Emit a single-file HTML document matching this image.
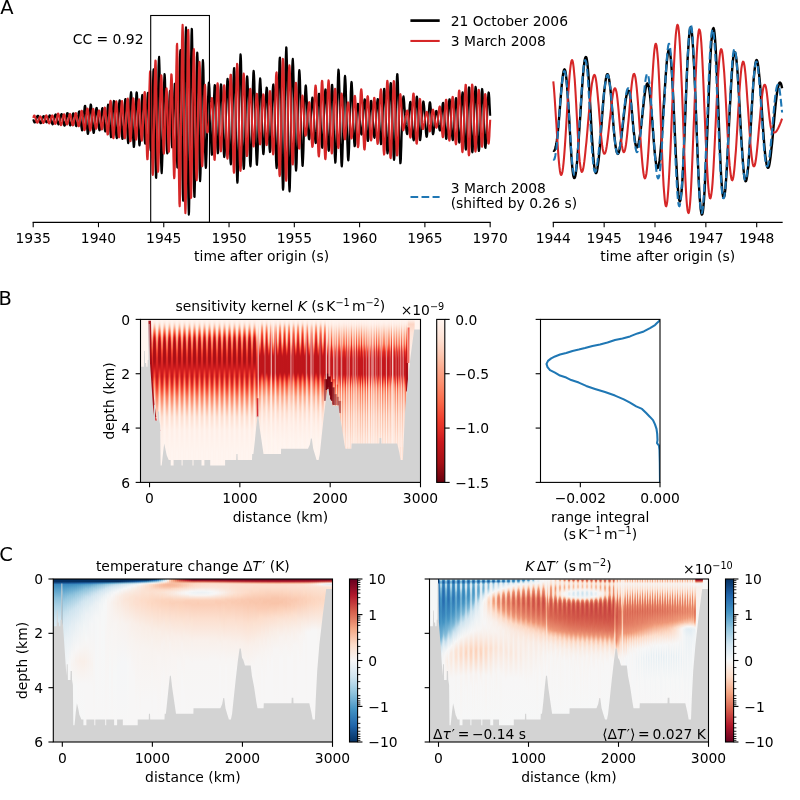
<!DOCTYPE html>
<html><head><meta charset="utf-8"><title>figure</title>
<style>html,body{margin:0;padding:0;background:#fff}svg{display:block}.hm{display:flex;height:100%}.hm i{display:block;flex:0 0 var(--w,1px);height:100%}text{font-family:"DejaVu Sans","Liberation Sans",sans-serif;fill:#000}</style>
</head><body>
<svg width="800" height="800" viewBox="0 0 800 800">
<defs>
<clipPath id="clipB"><rect x="140.5" y="319.4" width="280" height="163"/></clipPath>
<linearGradient id="pb1g0" x1="0" y1="0" x2="0" y2="1"><stop offset="0" stop-color="#fff5f0"/><stop offset="0.0125" stop-color="#ffefe8"/><stop offset="0.025" stop-color="#fee5d8"/><stop offset="0.05" stop-color="#fcae92"/><stop offset="0.0625" stop-color="#fc8a6a"/><stop offset="0.075" stop-color="#fa6849"/><stop offset="0.0875" stop-color="#f0402f"/><stop offset="0.1" stop-color="#d82422"/><stop offset="0.1125" stop-color="#bd151a"/><stop offset="0.125" stop-color="#ac1117"/><stop offset="0.1625" stop-color="#a91016"/><stop offset="0.2625" stop-color="#a91016"/><stop offset="0.2875" stop-color="#c4161c"/><stop offset="0.3" stop-color="#d21f20"/><stop offset="0.325" stop-color="#ef3c2c"/><stop offset="0.35" stop-color="#f85d42"/><stop offset="0.375" stop-color="#fc8565"/><stop offset="0.4375" stop-color="#fcc1a8"/><stop offset="0.475" stop-color="#fedbcc"/><stop offset="0.5375" stop-color="#ffece4"/><stop offset="0.6125" stop-color="#fff4ee"/><stop offset="1" stop-color="#fff5f0"/></linearGradient>
<linearGradient id="pb1g1" x1="0" y1="0" x2="0" y2="1"><stop offset="0" stop-color="#fff5f0"/><stop offset="0.025" stop-color="#ffebe2"/><stop offset="0.0375" stop-color="#fee1d3"/><stop offset="0.05" stop-color="#fdcebb"/><stop offset="0.0875" stop-color="#fb7858"/><stop offset="0.1" stop-color="#f7593f"/><stop offset="0.1125" stop-color="#ed392b"/><stop offset="0.1375" stop-color="#d01d1f"/><stop offset="0.15" stop-color="#c4161c"/><stop offset="0.2" stop-color="#b11218"/><stop offset="0.2375" stop-color="#ad1117"/><stop offset="0.2625" stop-color="#b51318"/><stop offset="0.3" stop-color="#cf1c1f"/><stop offset="0.3375" stop-color="#e22e27"/><stop offset="0.35" stop-color="#e43027"/><stop offset="0.3625" stop-color="#f03d2d"/><stop offset="0.4125" stop-color="#fb7050"/><stop offset="0.4875" stop-color="#fcb79c"/><stop offset="0.5375" stop-color="#fdd7c6"/><stop offset="0.5875" stop-color="#fee8dd"/><stop offset="0.6875" stop-color="#fff2ec"/><stop offset="0.975" stop-color="#fff5f0"/><stop offset="1" stop-color="#fff5f0"/></linearGradient>
<linearGradient id="pb1g2" x1="0" y1="0" x2="0" y2="1"><stop offset="0" stop-color="#fff5f0"/><stop offset="0.05" stop-color="#fff0e8"/><stop offset="0.075" stop-color="#fee5d8"/><stop offset="0.0875" stop-color="#fed9c9"/><stop offset="0.1125" stop-color="#fcb398"/><stop offset="0.1375" stop-color="#fc9070"/><stop offset="0.175" stop-color="#fa6547"/><stop offset="0.1875" stop-color="#f5533b"/><stop offset="0.2125" stop-color="#ee3a2c"/><stop offset="0.2375" stop-color="#e12d26"/><stop offset="0.3375" stop-color="#cb181d"/><stop offset="0.35" stop-color="#c5171c"/><stop offset="0.3875" stop-color="#d52221"/><stop offset="0.4125" stop-color="#e83429"/><stop offset="0.4375" stop-color="#f44f39"/><stop offset="0.475" stop-color="#fb7b5b"/><stop offset="0.5625" stop-color="#fdc5ae"/><stop offset="0.6" stop-color="#fedecf"/><stop offset="0.675" stop-color="#ffeee6"/><stop offset="0.825" stop-color="#fff5f0"/><stop offset="1" stop-color="#fff5f0"/></linearGradient>
<linearGradient id="pb1g3" x1="0" y1="0" x2="0" y2="1"><stop offset="0" stop-color="#fff5f0"/><stop offset="0.05" stop-color="#fff0e8"/><stop offset="0.075" stop-color="#fee5d8"/><stop offset="0.0875" stop-color="#fed9c9"/><stop offset="0.1125" stop-color="#fcb398"/><stop offset="0.1375" stop-color="#fc9070"/><stop offset="0.175" stop-color="#fa6547"/><stop offset="0.1875" stop-color="#f5533b"/><stop offset="0.2125" stop-color="#ee3a2c"/><stop offset="0.2375" stop-color="#e12d26"/><stop offset="0.3375" stop-color="#cb181d"/><stop offset="0.35" stop-color="#c5171c"/><stop offset="0.3875" stop-color="#d52221"/><stop offset="0.4125" stop-color="#e83429"/><stop offset="0.4375" stop-color="#f44f39"/><stop offset="0.475" stop-color="#fb7b5b"/><stop offset="0.5625" stop-color="#fdc5ae"/><stop offset="0.6" stop-color="#fedecf"/><stop offset="0.675" stop-color="#ffeee6"/><stop offset="0.825" stop-color="#fff5f0"/><stop offset="1" stop-color="#fff5f0"/></linearGradient>
<linearGradient id="pb1g4" x1="0" y1="0" x2="0" y2="1"><stop offset="0" stop-color="#fff5f0"/><stop offset="0.025" stop-color="#ffebe2"/><stop offset="0.0375" stop-color="#fee1d3"/><stop offset="0.05" stop-color="#fdcebb"/><stop offset="0.0875" stop-color="#fb7858"/><stop offset="0.1" stop-color="#f7593f"/><stop offset="0.1125" stop-color="#ed392b"/><stop offset="0.1375" stop-color="#d01d1f"/><stop offset="0.15" stop-color="#c4161c"/><stop offset="0.2" stop-color="#b11218"/><stop offset="0.2375" stop-color="#ad1117"/><stop offset="0.2625" stop-color="#b51318"/><stop offset="0.3" stop-color="#cf1c1f"/><stop offset="0.3375" stop-color="#e22e27"/><stop offset="0.35" stop-color="#e43027"/><stop offset="0.3625" stop-color="#f03d2d"/><stop offset="0.4125" stop-color="#fb7050"/><stop offset="0.4875" stop-color="#fcb79c"/><stop offset="0.5375" stop-color="#fdd7c6"/><stop offset="0.5875" stop-color="#fee8dd"/><stop offset="0.6875" stop-color="#fff2ec"/><stop offset="0.975" stop-color="#fff5f0"/><stop offset="1" stop-color="#fff5f0"/></linearGradient>
<pattern id="pb1" patternUnits="userSpaceOnUse" x="149" y="319.4" width="5" height="163"><g shape-rendering="crispEdges"><rect x="0" y="0" width="1" height="163" fill="url(#pb1g0)"/><rect x="1" y="0" width="1" height="163" fill="url(#pb1g1)"/><rect x="2" y="0" width="1" height="163" fill="url(#pb1g2)"/><rect x="3" y="0" width="1" height="163" fill="url(#pb1g3)"/><rect x="4" y="0" width="1" height="163" fill="url(#pb1g4)"/></g></pattern>
<linearGradient id="pb2g0" x1="0" y1="0" x2="0" y2="1"><stop offset="0" stop-color="#fff5f0"/><stop offset="0.025" stop-color="#feeae0"/><stop offset="0.0375" stop-color="#fedbcc"/><stop offset="0.05" stop-color="#fdc5ae"/><stop offset="0.0875" stop-color="#fc8b6b"/><stop offset="0.1125" stop-color="#fb6b4b"/><stop offset="0.15" stop-color="#ed392b"/><stop offset="0.175" stop-color="#d32020"/><stop offset="0.1875" stop-color="#ca181d"/><stop offset="0.2125" stop-color="#bf151b"/><stop offset="0.325" stop-color="#be151a"/><stop offset="0.3375" stop-color="#c7171c"/><stop offset="0.3625" stop-color="#ed392b"/><stop offset="0.3875" stop-color="#fb694a"/><stop offset="0.4375" stop-color="#fca486"/><stop offset="0.475" stop-color="#fdc5ae"/><stop offset="0.5375" stop-color="#fee1d4"/><stop offset="0.625" stop-color="#ffeee7"/><stop offset="0.7875" stop-color="#fff5f0"/><stop offset="1" stop-color="#fff5f0"/></linearGradient>
<linearGradient id="pb2g1" x1="0" y1="0" x2="0" y2="1"><stop offset="0" stop-color="#fff5f0"/><stop offset="0.075" stop-color="#ffede5"/><stop offset="0.1125" stop-color="#fee0d2"/><stop offset="0.1375" stop-color="#fdc6b0"/><stop offset="0.15" stop-color="#fcaf93"/><stop offset="0.175" stop-color="#fb7555"/><stop offset="0.1875" stop-color="#f6563d"/><stop offset="0.2" stop-color="#ef3c2c"/><stop offset="0.2125" stop-color="#da2723"/><stop offset="0.225" stop-color="#c5171c"/><stop offset="0.25" stop-color="#be151a"/><stop offset="0.3375" stop-color="#be151a"/><stop offset="0.35" stop-color="#c2161b"/><stop offset="0.3625" stop-color="#cc191e"/><stop offset="0.3875" stop-color="#e93529"/><stop offset="0.4125" stop-color="#f6583e"/><stop offset="0.4375" stop-color="#fb7858"/><stop offset="0.475" stop-color="#fca285"/><stop offset="0.525" stop-color="#fdc6b0"/><stop offset="0.575" stop-color="#fedfd0"/><stop offset="0.6375" stop-color="#ffebe2"/><stop offset="0.7125" stop-color="#fff2eb"/><stop offset="0.8875" stop-color="#fff5f0"/><stop offset="1" stop-color="#fff5f0"/></linearGradient>
<linearGradient id="pb2g2" x1="0" y1="0" x2="0" y2="1"><stop offset="0" stop-color="#fff5f0"/><stop offset="0.025" stop-color="#fff2eb"/><stop offset="0.075" stop-color="#fee0d2"/><stop offset="0.1125" stop-color="#fcb99f"/><stop offset="0.1375" stop-color="#fc9b7c"/><stop offset="0.1625" stop-color="#fb6d4d"/><stop offset="0.1875" stop-color="#ed392b"/><stop offset="0.2125" stop-color="#cc191e"/><stop offset="0.225" stop-color="#c1161b"/><stop offset="0.3375" stop-color="#bf151b"/><stop offset="0.35" stop-color="#c9181d"/><stop offset="0.375" stop-color="#e53228"/><stop offset="0.3875" stop-color="#f14130"/><stop offset="0.425" stop-color="#fb7656"/><stop offset="0.475" stop-color="#fcad90"/><stop offset="0.525" stop-color="#fdccb8"/><stop offset="0.575" stop-color="#fee2d5"/><stop offset="0.6625" stop-color="#ffefe8"/><stop offset="0.8125" stop-color="#fff5f0"/><stop offset="1" stop-color="#fff5f0"/></linearGradient>
<linearGradient id="pb2g3" x1="0" y1="0" x2="0" y2="1"><stop offset="0" stop-color="#fff5f0"/><stop offset="0.0125" stop-color="#ffeee7"/><stop offset="0.025" stop-color="#fee4d8"/><stop offset="0.05" stop-color="#fca98c"/><stop offset="0.075" stop-color="#fb7858"/><stop offset="0.0875" stop-color="#f85f43"/><stop offset="0.1" stop-color="#f34a36"/><stop offset="0.1125" stop-color="#ef3c2c"/><stop offset="0.15" stop-color="#cf1c1f"/><stop offset="0.1875" stop-color="#bf151b"/><stop offset="0.325" stop-color="#be151a"/><stop offset="0.3375" stop-color="#d01d1f"/><stop offset="0.35" stop-color="#e83429"/><stop offset="0.3625" stop-color="#f5523a"/><stop offset="0.375" stop-color="#fb7050"/><stop offset="0.4" stop-color="#fc9777"/><stop offset="0.4375" stop-color="#fcbea5"/><stop offset="0.475" stop-color="#fed8c7"/><stop offset="0.5125" stop-color="#fee4d8"/><stop offset="0.6125" stop-color="#fff0e9"/><stop offset="0.8125" stop-color="#fff5f0"/><stop offset="1" stop-color="#fff5f0"/></linearGradient>
<linearGradient id="pb2g4" x1="0" y1="0" x2="0" y2="1"><stop offset="0" stop-color="#fff5f0"/><stop offset="0.0125" stop-color="#ffeee7"/><stop offset="0.025" stop-color="#fee3d6"/><stop offset="0.0375" stop-color="#fdc5ae"/><stop offset="0.05" stop-color="#fca285"/><stop offset="0.075" stop-color="#fb7252"/><stop offset="0.0875" stop-color="#f6553c"/><stop offset="0.1" stop-color="#f14130"/><stop offset="0.1375" stop-color="#d21f20"/><stop offset="0.15" stop-color="#ca181d"/><stop offset="0.1875" stop-color="#be151a"/><stop offset="0.325" stop-color="#be151a"/><stop offset="0.3375" stop-color="#d32020"/><stop offset="0.35" stop-color="#eb372a"/><stop offset="0.3625" stop-color="#f6583e"/><stop offset="0.375" stop-color="#fb7555"/><stop offset="0.3875" stop-color="#fc8d6d"/><stop offset="0.4125" stop-color="#fcae92"/><stop offset="0.45" stop-color="#fdcdb9"/><stop offset="0.4875" stop-color="#fee1d4"/><stop offset="0.5875" stop-color="#ffefe8"/><stop offset="0.7625" stop-color="#fff5f0"/><stop offset="1" stop-color="#fff5f0"/></linearGradient>
<linearGradient id="pb2g5" x1="0" y1="0" x2="0" y2="1"><stop offset="0" stop-color="#fff5f0"/><stop offset="0.025" stop-color="#fff0e9"/><stop offset="0.0625" stop-color="#fee1d3"/><stop offset="0.0875" stop-color="#fdcbb6"/><stop offset="0.1375" stop-color="#fc8d6d"/><stop offset="0.1625" stop-color="#f96044"/><stop offset="0.175" stop-color="#f24734"/><stop offset="0.1875" stop-color="#e63328"/><stop offset="0.2125" stop-color="#ca181d"/><stop offset="0.225" stop-color="#bf151b"/><stop offset="0.3375" stop-color="#bf151b"/><stop offset="0.35" stop-color="#cb181d"/><stop offset="0.375" stop-color="#e93529"/><stop offset="0.4" stop-color="#f75b40"/><stop offset="0.4375" stop-color="#fc8969"/><stop offset="0.475" stop-color="#fcaf93"/><stop offset="0.525" stop-color="#fdcebb"/><stop offset="0.5625" stop-color="#fee0d2"/><stop offset="0.6375" stop-color="#ffece4"/><stop offset="0.7375" stop-color="#fff4ee"/><stop offset="1" stop-color="#fff5f0"/></linearGradient>
<linearGradient id="pb2g6" x1="0" y1="0" x2="0" y2="1"><stop offset="0" stop-color="#fff5f0"/><stop offset="0.075" stop-color="#ffeee7"/><stop offset="0.1" stop-color="#fee8de"/><stop offset="0.1125" stop-color="#fee3d7"/><stop offset="0.1375" stop-color="#fdccb8"/><stop offset="0.15" stop-color="#fcb499"/><stop offset="0.175" stop-color="#fb7858"/><stop offset="0.1875" stop-color="#f75b40"/><stop offset="0.2" stop-color="#f0402f"/><stop offset="0.2125" stop-color="#dc2924"/><stop offset="0.225" stop-color="#c7171c"/><stop offset="0.2375" stop-color="#bf151b"/><stop offset="0.3375" stop-color="#be151a"/><stop offset="0.35" stop-color="#c2161b"/><stop offset="0.3625" stop-color="#cb181d"/><stop offset="0.3875" stop-color="#e83429"/><stop offset="0.4" stop-color="#f14432"/><stop offset="0.4375" stop-color="#fb7757"/><stop offset="0.475" stop-color="#fca183"/><stop offset="0.525" stop-color="#fdc5ae"/><stop offset="0.575" stop-color="#fedecf"/><stop offset="0.6375" stop-color="#ffebe2"/><stop offset="0.7375" stop-color="#fff3ed"/><stop offset="1" stop-color="#fff5f0"/></linearGradient>
<linearGradient id="pb2g7" x1="0" y1="0" x2="0" y2="1"><stop offset="0" stop-color="#fff5f0"/><stop offset="0.025" stop-color="#ffebe2"/><stop offset="0.0375" stop-color="#fee1d3"/><stop offset="0.05" stop-color="#fdccb8"/><stop offset="0.075" stop-color="#fcad90"/><stop offset="0.0875" stop-color="#fc9879"/><stop offset="0.1125" stop-color="#fb7757"/><stop offset="0.1375" stop-color="#f6583e"/><stop offset="0.1625" stop-color="#e83429"/><stop offset="0.1875" stop-color="#cf1c1f"/><stop offset="0.2125" stop-color="#c1161b"/><stop offset="0.325" stop-color="#be151a"/><stop offset="0.3375" stop-color="#c5171c"/><stop offset="0.3625" stop-color="#e93529"/><stop offset="0.3875" stop-color="#f96245"/><stop offset="0.425" stop-color="#fc9070"/><stop offset="0.475" stop-color="#fcc1a8"/><stop offset="0.5375" stop-color="#fedfd0"/><stop offset="0.6125" stop-color="#ffece4"/><stop offset="0.75" stop-color="#fff4ef"/><stop offset="1" stop-color="#fff5f0"/></linearGradient>
<linearGradient id="pb2g8" x1="0" y1="0" x2="0" y2="1"><stop offset="0" stop-color="#fff5f0"/><stop offset="0.0125" stop-color="#ffede5"/><stop offset="0.025" stop-color="#fee1d3"/><stop offset="0.05" stop-color="#fc9777"/><stop offset="0.075" stop-color="#f96044"/><stop offset="0.0875" stop-color="#f14130"/><stop offset="0.1125" stop-color="#da2723"/><stop offset="0.1375" stop-color="#c5171c"/><stop offset="0.1625" stop-color="#be151a"/><stop offset="0.325" stop-color="#be151a"/><stop offset="0.3375" stop-color="#d82422"/><stop offset="0.35" stop-color="#f03f2e"/><stop offset="0.3625" stop-color="#f96346"/><stop offset="0.3875" stop-color="#fc9b7c"/><stop offset="0.4125" stop-color="#fcbda4"/><stop offset="0.45" stop-color="#fed9c9"/><stop offset="0.475" stop-color="#fee3d7"/><stop offset="0.5625" stop-color="#fff0e8"/><stop offset="0.7625" stop-color="#fff5f0"/><stop offset="1" stop-color="#fff5f0"/></linearGradient>
<pattern id="pb2" patternUnits="userSpaceOnUse" x="258" y="319.4" width="9" height="163"><g shape-rendering="crispEdges"><rect x="0" y="0" width="1" height="163" fill="url(#pb2g0)"/><rect x="1" y="0" width="1" height="163" fill="url(#pb2g1)"/><rect x="2" y="0" width="1" height="163" fill="url(#pb2g2)"/><rect x="3" y="0" width="1" height="163" fill="url(#pb2g3)"/><rect x="4" y="0" width="1" height="163" fill="url(#pb2g4)"/><rect x="5" y="0" width="1" height="163" fill="url(#pb2g5)"/><rect x="6" y="0" width="1" height="163" fill="url(#pb2g6)"/><rect x="7" y="0" width="1" height="163" fill="url(#pb2g7)"/><rect x="8" y="0" width="1" height="163" fill="url(#pb2g8)"/></g></pattern>
<linearGradient id="pb3g0" x1="0" y1="0" x2="0" y2="1"><stop offset="0" stop-color="#fff5f0"/><stop offset="0.025" stop-color="#ffefe8"/><stop offset="0.05" stop-color="#fee0d2"/><stop offset="0.0875" stop-color="#fcbba1"/><stop offset="0.1375" stop-color="#fc8565"/><stop offset="0.15" stop-color="#fb7757"/><stop offset="0.175" stop-color="#f34c37"/><stop offset="0.1875" stop-color="#ea362a"/><stop offset="0.2" stop-color="#da2723"/><stop offset="0.2375" stop-color="#ca181d"/><stop offset="0.2625" stop-color="#c4161c"/><stop offset="0.3375" stop-color="#c5171c"/><stop offset="0.35" stop-color="#d92523"/><stop offset="0.3625" stop-color="#ee3a2c"/><stop offset="0.3875" stop-color="#fb7252"/><stop offset="0.4" stop-color="#fc8a6a"/><stop offset="0.425" stop-color="#fca689"/><stop offset="0.4625" stop-color="#fcbda4"/><stop offset="0.5875" stop-color="#fedbcc"/><stop offset="0.725" stop-color="#fee8dd"/><stop offset="1" stop-color="#ffeee6"/></linearGradient>
<linearGradient id="pb3g1" x1="0" y1="0" x2="0" y2="1"><stop offset="0" stop-color="#fff5f0"/><stop offset="0.025" stop-color="#fff1ea"/><stop offset="0.125" stop-color="#fdc5ae"/><stop offset="0.15" stop-color="#fcb79c"/><stop offset="0.1625" stop-color="#fca082"/><stop offset="0.1875" stop-color="#f96245"/><stop offset="0.2" stop-color="#f03f2e"/><stop offset="0.2375" stop-color="#ce1a1e"/><stop offset="0.25" stop-color="#c5171c"/><stop offset="0.3375" stop-color="#c5171c"/><stop offset="0.3625" stop-color="#d11e1f"/><stop offset="0.3875" stop-color="#e22e27"/><stop offset="0.4" stop-color="#f03d2d"/><stop offset="0.425" stop-color="#fa6547"/><stop offset="0.45" stop-color="#fb7c5c"/><stop offset="0.525" stop-color="#fca285"/><stop offset="0.6" stop-color="#fcbea5"/><stop offset="0.75" stop-color="#fee0d2"/><stop offset="1" stop-color="#fee8dd"/></linearGradient>
<linearGradient id="pb3g2" x1="0" y1="0" x2="0" y2="1"><stop offset="0" stop-color="#fff5f0"/><stop offset="0.025" stop-color="#ffede5"/><stop offset="0.0375" stop-color="#fee3d7"/><stop offset="0.0875" stop-color="#fc9b7c"/><stop offset="0.125" stop-color="#f96044"/><stop offset="0.15" stop-color="#ef3c2c"/><stop offset="0.1875" stop-color="#ce1a1e"/><stop offset="0.2125" stop-color="#c5171c"/><stop offset="0.3375" stop-color="#c5171c"/><stop offset="0.35" stop-color="#e22e27"/><stop offset="0.3625" stop-color="#f5523a"/><stop offset="0.375" stop-color="#fb7555"/><stop offset="0.4" stop-color="#fcb398"/><stop offset="0.4125" stop-color="#fcc1a8"/><stop offset="0.4375" stop-color="#fdcbb6"/><stop offset="0.575" stop-color="#fee1d3"/><stop offset="0.8" stop-color="#ffece4"/><stop offset="1" stop-color="#ffeee7"/></linearGradient>
<linearGradient id="pb3g3" x1="0" y1="0" x2="0" y2="1"><stop offset="0" stop-color="#fff5f0"/><stop offset="0.025" stop-color="#fff1ea"/><stop offset="0.125" stop-color="#fdc5ae"/><stop offset="0.15" stop-color="#fcb79c"/><stop offset="0.1625" stop-color="#fca082"/><stop offset="0.1875" stop-color="#f96245"/><stop offset="0.2" stop-color="#f03f2e"/><stop offset="0.2375" stop-color="#ce1a1e"/><stop offset="0.25" stop-color="#c5171c"/><stop offset="0.3375" stop-color="#c5171c"/><stop offset="0.3625" stop-color="#d11e1f"/><stop offset="0.3875" stop-color="#e22e27"/><stop offset="0.4" stop-color="#f03d2d"/><stop offset="0.425" stop-color="#fa6547"/><stop offset="0.45" stop-color="#fb7c5c"/><stop offset="0.525" stop-color="#fca285"/><stop offset="0.6" stop-color="#fcbea5"/><stop offset="0.75" stop-color="#fee0d2"/><stop offset="1" stop-color="#fee8dd"/></linearGradient>
<linearGradient id="pb3g4" x1="0" y1="0" x2="0" y2="1"><stop offset="0" stop-color="#fff5f0"/><stop offset="0.025" stop-color="#ffefe8"/><stop offset="0.05" stop-color="#fee0d2"/><stop offset="0.0875" stop-color="#fcbba1"/><stop offset="0.1375" stop-color="#fc8565"/><stop offset="0.15" stop-color="#fb7757"/><stop offset="0.175" stop-color="#f34c37"/><stop offset="0.1875" stop-color="#ea362a"/><stop offset="0.2" stop-color="#da2723"/><stop offset="0.2375" stop-color="#ca181d"/><stop offset="0.2625" stop-color="#c4161c"/><stop offset="0.3375" stop-color="#c5171c"/><stop offset="0.35" stop-color="#d92523"/><stop offset="0.3625" stop-color="#ee3a2c"/><stop offset="0.3875" stop-color="#fb7252"/><stop offset="0.4" stop-color="#fc8a6a"/><stop offset="0.425" stop-color="#fca689"/><stop offset="0.4625" stop-color="#fcbda4"/><stop offset="0.5875" stop-color="#fedbcc"/><stop offset="0.725" stop-color="#fee8dd"/><stop offset="1" stop-color="#ffeee6"/></linearGradient>
<pattern id="pb3" patternUnits="userSpaceOnUse" x="329" y="319.4" width="5" height="163"><g shape-rendering="crispEdges"><rect x="0" y="0" width="1" height="163" fill="url(#pb3g0)"/><rect x="1" y="0" width="1" height="163" fill="url(#pb3g1)"/><rect x="2" y="0" width="1" height="163" fill="url(#pb3g2)"/><rect x="3" y="0" width="1" height="163" fill="url(#pb3g3)"/><rect x="4" y="0" width="1" height="163" fill="url(#pb3g4)"/></g></pattern>
<linearGradient id="bfade" x1="0" y1="0" x2="0" y2="1"><stop offset="0" stop-color="#fff5f0"/><stop offset=".03" stop-color="#fdd5c4"/><stop offset=".08" stop-color="#fee5d9"/><stop offset=".2" stop-color="#fff0e9"/><stop offset="1" stop-color="#fff5f0"/></linearGradient>
<filter id="bl1" filterUnits="userSpaceOnUse" x="130" y="310" width="300" height="180"><feGaussianBlur stdDeviation="0.7"/></filter>
<filter id="bl2" filterUnits="userSpaceOnUse" x="130" y="310" width="300" height="180"><feGaussianBlur stdDeviation="1.3"/></filter>
<linearGradient id="cbB" x1="0" y1="0" x2="0" y2="1"><stop offset="0" stop-color="#fff5f0"/><stop offset="0.06" stop-color="#ffebe2"/><stop offset="0.12" stop-color="#fee1d3"/><stop offset="0.19" stop-color="#fdcebb"/><stop offset="0.25" stop-color="#fcbca2"/><stop offset="0.31" stop-color="#fca78b"/><stop offset="0.38" stop-color="#fc9373"/><stop offset="0.44" stop-color="#fc7f5f"/><stop offset="0.5" stop-color="#fb6b4b"/><stop offset="0.56" stop-color="#f5533b"/><stop offset="0.62" stop-color="#ef3c2c"/><stop offset="0.69" stop-color="#dd2a25"/><stop offset="0.75" stop-color="#cb181d"/><stop offset="0.81" stop-color="#b81419"/><stop offset="0.88" stop-color="#a50f15"/><stop offset="0.94" stop-color="#860811"/><stop offset="1" stop-color="#67000d"/></linearGradient>
<clipPath id="clipR"><rect x="540.5" y="319.4" width="119.5" height="163"/></clipPath>
<clipPath id="clip_hc1"><rect x="53.3" y="579" width="279.2" height="163"/></clipPath>
<clipPath id="clipC2"><rect x="429.5" y="579" width="279" height="163"/></clipPath>
<linearGradient id="cbC1" x1="0" y1="0" x2="0" y2="1"><stop offset="0" stop-color="#67001f"/><stop offset="0.05" stop-color="#8a0b25"/><stop offset="0.1" stop-color="#b1182b"/><stop offset="0.15" stop-color="#c43b3c"/><stop offset="0.2" stop-color="#d6604d"/><stop offset="0.25" stop-color="#e48066"/><stop offset="0.3" stop-color="#f3a481"/><stop offset="0.35" stop-color="#f8bfa4"/><stop offset="0.4" stop-color="#fddbc7"/><stop offset="0.45" stop-color="#fae9df"/><stop offset="0.5" stop-color="#f7f6f6"/><stop offset="0.55" stop-color="#e4eef4"/><stop offset="0.6" stop-color="#d1e5f0"/><stop offset="0.65" stop-color="#b1d5e7"/><stop offset="0.7" stop-color="#90c4dd"/><stop offset="0.75" stop-color="#6bacd1"/><stop offset="0.8" stop-color="#4393c3"/><stop offset="0.85" stop-color="#327cb7"/><stop offset="0.9" stop-color="#2065ab"/><stop offset="0.95" stop-color="#124984"/><stop offset="1" stop-color="#053061"/></linearGradient>
<linearGradient id="cbC2" x1="0" y1="0" x2="0" y2="1"><stop offset="0" stop-color="#053061"/><stop offset="0.05" stop-color="#124984"/><stop offset="0.1" stop-color="#2065ab"/><stop offset="0.15" stop-color="#327cb7"/><stop offset="0.2" stop-color="#4393c3"/><stop offset="0.25" stop-color="#68abd0"/><stop offset="0.3" stop-color="#90c4dd"/><stop offset="0.35" stop-color="#b1d5e7"/><stop offset="0.4" stop-color="#d1e5f0"/><stop offset="0.45" stop-color="#e4eef4"/><stop offset="0.5" stop-color="#f6f7f7"/><stop offset="0.55" stop-color="#fae9df"/><stop offset="0.6" stop-color="#fddbc7"/><stop offset="0.65" stop-color="#f8bfa4"/><stop offset="0.7" stop-color="#f3a481"/><stop offset="0.75" stop-color="#e58368"/><stop offset="0.8" stop-color="#d6604d"/><stop offset="0.85" stop-color="#c43b3c"/><stop offset="0.9" stop-color="#b1182b"/><stop offset="0.95" stop-color="#8a0b25"/><stop offset="1" stop-color="#67001f"/></linearGradient>
</defs>
<rect width="800" height="800" fill="#fff"/>
<g fill="none" stroke-linejoin="round" stroke-linecap="butt">
<path d="M33.2,119.3 33.5,120.1 33.7,120.9 34.0,121.6 34.2,122.1 34.5,122.4 34.8,122.5 35.0,122.4 35.3,122.1 35.6,121.6 35.8,120.8 36.1,120.0 36.3,119.0 36.6,118.1 36.9,117.2 37.1,116.5 37.4,115.9 37.6,115.7 37.9,115.7 38.2,115.9 38.4,116.5 38.7,117.3 38.9,118.3 39.2,119.3 39.5,120.4 39.7,121.4 40.0,122.3 40.3,122.9 40.5,123.3 40.8,123.3 41.0,123.1 41.3,122.6 41.6,121.8 41.8,120.9 42.1,119.9 42.3,118.9 42.6,118.0 42.9,117.2 43.1,116.6 43.4,116.2 43.6,116.1 43.9,116.2 44.2,116.5 44.4,117.1 44.7,117.8 45.0,118.6 45.2,119.5 45.5,120.3 45.7,121.0 46.0,121.6 46.3,122.1 46.5,122.4 46.8,122.4 47.0,122.3 47.3,121.9 47.6,121.3 47.8,120.6 48.1,119.7 48.3,118.8 48.6,117.8 48.9,116.9 49.1,116.2 49.4,115.6 49.7,115.3 49.9,115.4 50.2,115.7 50.4,116.4 50.7,117.3 51.0,118.5 51.2,119.8 51.5,121.1 51.7,122.3 52.0,123.3 52.3,124.0 52.5,124.4 52.8,124.3 53.0,123.9 53.3,123.2 53.6,122.1 53.8,120.9 54.1,119.5 54.4,118.2 54.6,116.9 54.9,115.8 55.1,115.0 55.4,114.5 55.7,114.4 55.9,114.7 56.2,115.3 56.4,116.3 56.7,117.5 57.0,118.8 57.2,120.2 57.5,121.5 57.7,122.7 58.0,123.6 58.3,124.2 58.5,124.4 58.8,124.2 59.1,123.7 59.3,122.9 59.6,121.8 59.8,120.5 60.1,119.1 60.4,117.7 60.6,116.4 60.9,115.3 61.1,114.5 61.4,114.1 61.7,114.0 61.9,114.4 62.2,115.2 62.4,116.3 62.7,117.7 63.0,119.3 63.2,120.9 63.5,122.5 63.8,123.8 64.0,124.9 64.3,125.6 64.5,125.7 64.8,125.4 65.1,124.6 65.3,123.4 65.6,121.8 65.8,120.1 66.1,118.3 66.4,116.6 66.6,115.1 66.9,113.9 67.1,113.2 67.4,113.0 67.7,113.2 67.9,114.0 68.2,115.1 68.5,116.6 68.7,118.3 69.0,120.0 69.2,121.7 69.5,123.2 69.8,124.4 70.0,125.2 70.3,125.5 70.5,125.4 70.8,124.8 71.1,123.8 71.3,122.5 71.6,120.9 71.8,119.2 72.1,117.6 72.4,116.1 72.6,114.8 72.9,113.9 73.2,113.4 73.4,113.4 73.7,113.8 73.9,114.7 74.2,115.9 74.5,117.4 74.7,119.1 75.0,120.9 75.2,122.6 75.5,124.1 75.8,125.3 76.0,126.0 76.3,126.2 76.5,125.9 76.8,125.1 77.1,123.8 77.3,122.1 77.6,120.2 77.9,118.1 78.1,116.0 78.4,114.2 78.6,112.7 78.9,111.7 79.2,111.3 79.4,111.4 79.7,112.3 79.9,113.7 80.2,115.6 80.5,118.0 80.7,120.6 81.0,123.2 81.2,125.8 81.5,127.9 81.8,129.5 82.0,130.4 82.3,130.4 82.6,129.5 82.8,127.7 83.1,125.1 83.3,122.0 83.6,118.5 83.9,114.9 84.1,111.6 84.4,108.8 84.6,106.7 84.9,105.7 85.2,105.7 85.4,106.9 85.7,109.1 85.9,112.2 86.2,115.8 86.5,119.8 86.7,123.8 87.0,127.4 87.3,130.5 87.5,132.7 87.8,133.9 88.0,133.9 88.3,132.8 88.6,130.6 88.8,127.5 89.1,123.8 89.3,119.6 89.6,115.5 89.9,111.6 90.1,108.3 90.4,105.9 90.6,104.6 90.9,104.5 91.2,105.6 91.4,107.8 91.7,110.8 92.0,114.6 92.2,118.7 92.5,122.7 92.7,126.4 93.0,129.5 93.3,131.7 93.5,132.9 93.8,133.0 94.0,132.0 94.3,130.0 94.6,127.2 94.8,124.0 95.1,120.4 95.3,116.9 95.6,113.7 95.9,111.0 96.1,109.1 96.4,108.0 96.7,107.9 96.9,108.6 97.2,110.2 97.4,112.4 97.7,115.2 98.0,118.2 98.2,121.3 98.5,124.3 98.7,126.8 99.0,128.8 99.3,130.0 99.5,130.4 99.8,129.9 100.0,128.6 100.3,126.5 100.6,123.8 100.8,120.8 101.1,117.7 101.4,114.6 101.6,111.9 101.9,109.8 102.1,108.5 102.4,108.0 102.7,108.4 102.9,109.7 103.2,111.8 103.4,114.6 103.7,117.7 104.0,121.1 104.2,124.3 104.5,127.1 104.7,129.4 105.0,130.9 105.3,131.5 105.5,131.1 105.8,129.9 106.1,127.7 106.3,124.8 106.6,121.4 106.8,117.7 107.1,113.9 107.4,110.4 107.6,107.6 107.9,105.5 108.1,104.6 108.4,104.8 108.7,106.2 108.9,108.9 109.2,112.5 109.4,116.8 109.7,121.5 110.0,126.2 110.2,130.5 110.5,133.9 110.8,136.2 111.0,137.2 111.3,136.7 111.5,134.7 111.8,131.4 112.1,127.2 112.3,122.3 112.6,117.1 112.8,112.1 113.1,107.6 113.4,104.1 113.6,101.8 113.9,100.9 114.1,101.6 114.4,103.7 114.7,107.1 114.9,111.5 115.2,116.6 115.5,121.9 115.7,127.0 116.0,131.5 116.2,135.1 116.5,137.4 116.8,138.2 117.0,137.5 117.3,135.3 117.5,131.8 117.8,127.3 118.1,122.1 118.3,116.7 118.6,111.4 118.8,106.8 119.1,103.2 119.4,101.0 119.6,100.2 119.9,101.0 120.2,103.3 120.4,106.9 120.7,111.6 120.9,116.9 121.2,122.5 121.5,127.8 121.7,132.4 122.0,136.0 122.2,138.3 122.5,139.0 122.8,138.1 123.0,135.6 123.3,131.8 123.5,127.0 123.8,121.5 124.1,115.8 124.3,110.4 124.6,105.7 124.9,102.0 125.1,99.7 125.4,99.0 125.6,100.0 125.9,102.5 126.2,106.5 126.4,111.7 126.7,117.7 126.9,123.9 127.2,130.1 127.5,135.5 127.7,139.7 128.0,142.4 128.2,143.2 128.5,142.0 128.8,138.9 129.0,134.1 129.3,127.8 129.6,120.7 129.8,113.2 130.1,106.1 130.3,99.9 130.6,95.3 130.9,92.6 131.1,92.1 131.4,94.0 131.6,98.0 131.9,103.9 132.2,111.1 132.4,119.1 132.7,127.1 132.9,134.4 133.2,140.5 133.5,144.8 133.7,147.0 134.0,146.9 134.3,144.6 134.5,140.1 134.8,133.9 135.0,126.5 135.3,118.6 135.6,110.8 135.8,103.7 136.1,97.9 136.3,94.0 136.6,92.2 136.9,92.7 137.1,95.4 137.4,100.1 137.6,106.4 137.9,113.7 138.2,121.5 138.4,129.0 138.7,135.6 139.0,140.9 139.2,144.3 139.5,145.5 139.7,144.6 140.0,141.6 140.3,136.8 140.5,130.5 140.8,123.5 141.0,116.1 141.3,109.2 141.6,103.2 141.8,98.6 142.1,95.7 142.3,94.9 142.6,96.2 142.9,99.3 143.1,104.1 143.4,110.1 143.7,116.9 143.9,123.8 144.2,130.4 144.4,136.1 144.7,140.4 145.0,143.0 145.2,143.7 145.5,142.3 145.7,139.0 146.0,134.0 146.3,127.7 146.5,120.6 146.8,113.2 147.0,106.1 147.3,100.1 147.6,95.6 147.8,93.0 148.1,92.7 148.4,94.6 148.6,98.8 148.9,104.8 149.1,112.1 149.4,120.3 149.7,128.5 149.9,136.3 150.2,142.9 150.4,147.7 150.7,150.3 151.0,150.6 151.2,148.4 151.5,143.6 151.7,136.1 152.0,126.1 152.3,114.2 152.5,101.4 152.8,89.1 153.1,78.7 153.3,71.7 153.6,69.3 153.8,71.9 154.1,79.6 154.4,92.2 154.6,108.2 154.9,126.1 155.1,143.8 155.4,159.1 155.7,170.5 155.9,176.9 156.2,177.9 156.4,174.0 156.7,165.8 157.0,154.0 157.2,139.7 157.5,123.9 157.8,107.6 158.0,91.9 158.3,78.0 158.5,66.8 158.8,59.5 159.1,56.9 159.3,59.8 159.6,68.4 159.8,82.0 160.1,99.2 160.4,117.9 160.6,136.2 160.9,152.0 161.1,163.9 161.4,171.0 161.7,173.2 161.9,170.9 162.2,164.6 162.5,155.1 162.7,143.4 163.0,130.4 163.2,117.0 163.5,104.2 163.8,92.7 164.0,83.4 164.3,77.1 164.5,74.1 164.8,75.0 165.1,79.8 165.3,88.0 165.6,98.8 165.8,111.0 166.1,123.4 166.4,134.8 166.6,144.0 166.9,150.4 167.2,153.5 167.4,153.4 167.7,150.2 167.9,144.5 168.2,136.8 168.5,127.9 168.7,118.6 169.0,109.6 169.2,101.7 169.5,95.5 169.8,91.7 170.0,90.7 170.3,93.2 170.5,99.3 170.8,108.5 171.1,119.4 171.3,130.3 171.6,139.3 171.9,145.2 172.1,147.5 172.4,146.4 172.6,142.8 172.9,136.8 173.2,129.2 173.4,120.4 173.7,111.1 173.9,102.0 174.2,93.8 174.5,87.6 174.7,83.9 175.0,83.7 175.2,87.2 175.5,94.3 175.8,104.6 176.0,117.3 176.3,130.9 176.6,144.0 176.8,155.2 177.1,163.3 177.3,167.5 177.6,167.6 177.9,163.6 178.1,155.9 178.4,144.8 178.6,131.0 178.9,115.5 179.2,99.2 179.4,83.3 179.7,69.2 179.9,58.2 180.2,51.4 180.5,50.0 180.7,54.4 181.0,64.5 181.3,79.8 181.5,99.1 181.8,120.8 182.0,143.0 182.3,163.9 182.6,181.5 182.8,194.2 183.1,200.7 183.3,200.3 183.6,193.0 183.9,178.9 184.1,159.3 184.4,135.5 184.6,109.7 184.9,84.3 185.2,61.4 185.4,43.3 185.7,31.5 186.0,27.2 186.2,30.6 186.5,41.2 186.7,58.2 187.0,80.1 187.3,105.3 187.5,131.7 187.8,157.3 188.0,179.9 188.3,197.9 188.6,209.8 188.8,214.6 189.1,212.0 189.3,202.4 189.6,186.6 189.9,166.0 190.1,142.0 190.4,116.6 190.7,91.5 190.9,68.5 191.2,49.4 191.4,35.8 191.7,28.8 192.0,29.4 192.2,38.1 192.5,54.4 192.7,76.6 193.0,102.4 193.3,129.2 193.5,154.1 193.8,174.7 194.0,189.2 194.3,196.6 194.6,196.8 194.8,190.4 195.1,178.0 195.4,161.2 195.6,141.6 195.9,120.7 196.1,100.4 196.4,82.3 196.7,67.6 196.9,57.5 197.2,52.6 197.4,53.2 197.7,59.4 198.0,70.5 198.2,85.4 198.5,103.0 198.8,121.7 199.0,139.9 199.3,156.1 199.5,169.0 199.8,177.6 200.1,181.2 200.3,179.6 200.6,172.9 200.8,161.7 201.1,146.9 201.4,129.9 201.6,112.0 201.9,95.0 202.1,80.2 202.4,69.0 202.7,62.1 202.9,60.0 203.2,62.8 203.5,70.1 203.7,81.1 204.0,94.7 204.2,109.6 204.5,124.7 204.8,138.7 205.0,150.7 205.3,159.8 205.5,165.7 205.8,167.9 206.1,166.6 206.3,161.7 206.6,154.0 206.8,144.2 207.1,133.1 207.4,121.7 207.6,110.8 207.9,101.0 208.2,93.0 208.4,87.1 208.7,83.5 208.9,82.5 209.2,84.1 209.5,88.3 209.7,94.9 210.0,103.3 210.2,112.9 210.5,123.0 210.8,132.7 211.0,141.4 211.3,148.3 211.5,152.9 211.8,154.8 212.1,153.9 212.3,150.3 212.6,144.2 212.9,136.3 213.1,127.1 213.4,117.3 213.6,107.8 213.9,99.3 214.2,92.3 214.4,87.5 214.7,85.1 214.9,85.2 215.2,87.8 215.5,92.7 215.7,99.5 216.0,107.6 216.2,116.5 216.5,125.6 216.8,134.2 217.0,141.7 217.3,147.7 217.6,151.6 217.8,153.3 218.1,152.7 218.3,149.8 218.6,144.9 218.9,138.2 219.1,130.2 219.4,121.5 219.6,112.6 219.9,104.1 220.2,96.6 220.4,90.6 220.7,86.4 220.9,84.4 221.2,84.6 221.5,87.2 221.7,91.9 222.0,98.3 222.3,106.2 222.5,115.1 222.8,124.2 223.0,133.2 223.3,141.3 223.6,148.2 223.8,153.3 224.1,156.4 224.3,157.1 224.6,155.5 224.9,151.7 225.1,145.7 225.4,138.1 225.6,129.3 225.9,119.7 226.2,110.0 226.4,100.7 226.7,92.5 227.0,85.8 227.2,81.2 227.5,78.8 227.7,79.0 228.0,81.8 228.3,87.0 228.5,94.3 228.8,103.3 229.0,113.4 229.3,124.1 229.6,134.7 229.8,144.5 230.1,152.8 230.3,159.2 230.6,163.1 230.9,164.4 231.1,162.8 231.4,158.5 231.7,151.6 231.9,142.5 232.2,131.8 232.4,120.1 232.7,108.2 233.0,96.7 233.2,86.3 233.5,77.8 233.7,71.6 234.0,68.2 234.3,68.0 234.5,71.0 234.8,77.3 235.0,86.4 235.3,98.0 235.6,111.4 235.8,125.8 236.1,140.3 236.4,153.9 236.6,165.7 236.9,174.9 237.1,180.8 237.4,182.8 237.7,180.8 237.9,174.7 238.2,164.9 238.4,152.1 238.7,136.9 239.0,120.4 239.2,103.7 239.5,88.0 239.7,74.3 240.0,63.7 240.3,56.9 240.5,54.2 240.8,55.8 241.1,61.4 241.3,70.6 241.6,82.6 241.8,96.4 242.1,111.2 242.4,125.8 242.6,139.3 242.9,150.9 243.1,159.9 243.4,166.0 243.7,168.9 243.9,168.6 244.2,165.3 244.4,159.4 244.7,151.3 245.0,141.6 245.2,131.0 245.5,120.0 245.8,109.3 246.0,99.2 246.3,90.4 246.5,83.4 246.8,78.6 247.1,76.2 247.3,76.6 247.6,79.6 247.8,85.1 248.1,92.9 248.4,102.4 248.6,113.1 248.9,124.4 249.1,135.5 249.4,145.8 249.7,154.5 249.9,161.2 250.2,165.3 250.5,166.5 250.7,164.8 251.0,160.1 251.2,152.8 251.5,143.3 251.8,132.2 252.0,120.1 252.3,108.0 252.5,96.5 252.8,86.4 253.1,78.4 253.3,73.1 253.6,70.7 253.8,71.4 254.1,75.1 254.4,81.6 254.6,90.5 254.9,101.1 255.2,112.7 255.4,124.7 255.7,136.1 255.9,146.4 256.2,154.8 256.5,160.9 256.7,164.3 257.0,164.8 257.2,162.5 257.5,157.5 257.8,150.2 258.0,141.1 258.3,130.9 258.5,120.0 258.8,109.4 259.1,99.5 259.3,91.0 259.6,84.4 259.9,80.2 260.1,78.4 260.4,79.4 260.6,82.8 260.9,88.4 261.2,95.9 261.4,104.6 261.7,114.0 261.9,123.6 262.2,132.6 262.5,140.5 262.7,146.9 263.0,151.5 263.2,153.9 263.5,154.1 263.8,152.2 264.0,148.3 264.3,142.7 264.6,135.8 264.8,128.0 265.1,119.9 265.3,111.8 265.6,104.3 265.9,97.8 266.1,92.6 266.4,89.1 266.6,87.5 266.9,87.9 267.2,90.2 267.4,94.4 267.7,100.1 267.9,107.1 268.2,114.9 268.5,123.0 268.7,130.9 269.0,138.1 269.3,144.1 269.5,148.7 269.8,151.4 270.0,152.1 270.3,150.8 270.6,147.5 270.8,142.4 271.1,135.8 271.3,128.2 271.6,119.9 271.9,111.5 272.1,103.6 272.4,96.5 272.6,90.9 272.9,86.8 273.2,84.6 273.4,84.4 273.7,86.3 274.0,90.4 274.2,96.5 274.5,104.4 274.7,113.8 275.0,124.0 275.3,134.5 275.5,144.7 275.8,153.8 276.0,161.1 276.3,166.1 276.6,168.2 276.8,167.1 277.1,162.9 277.3,155.6 277.6,145.6 277.9,133.6 278.1,120.2 278.4,106.2 278.7,92.6 278.9,80.1 279.2,69.7 279.4,62.1 279.7,57.9 280.0,57.6 280.2,61.3 280.5,68.9 280.7,80.0 281.0,94.0 281.3,110.0 281.5,126.9 281.8,143.8 282.0,159.3 282.3,172.4 282.6,182.3 282.8,188.2 283.1,189.8 283.4,186.9 283.6,179.8 283.9,168.8 284.1,154.6 284.4,138.2 284.7,120.5 284.9,102.6 285.2,85.7 285.4,70.8 285.7,59.0 286.0,50.9 286.2,47.2 286.5,47.9 286.7,53.2 287.0,62.7 287.3,75.7 287.5,91.6 287.8,109.2 288.1,127.5 288.3,145.3 288.6,161.4 288.8,174.9 289.1,184.8 289.4,190.4 289.6,191.4 289.9,187.7 290.1,179.8 290.4,168.1 290.7,153.6 290.9,137.4 291.2,120.4 291.4,103.9 291.7,88.8 292.0,76.2 292.2,66.8 292.5,60.9 292.8,58.9 293.0,60.8 293.3,66.2 293.5,74.6 293.8,85.6 294.1,98.2 294.3,111.8 294.6,125.4 294.8,138.2 295.1,149.7 295.4,159.1 295.6,166.0 295.9,169.9 296.1,170.7 296.4,168.2 296.7,162.8 296.9,154.6 297.2,144.4 297.5,132.6 297.7,120.1 298.0,107.7 298.2,96.0 298.5,85.8 298.8,77.8 299.0,72.5 299.3,70.1 299.5,70.8 299.8,74.6 300.1,81.1 300.3,90.1 300.6,100.8 300.8,112.6 301.1,124.8 301.4,136.5 301.6,147.0 301.9,155.6 302.2,161.9 302.4,165.4 302.7,165.9 302.9,163.3 303.2,158.0 303.5,150.3 303.7,140.9 304.0,130.6 304.2,120.0 304.5,110.0 304.8,101.1 305.0,94.0 305.3,88.9 305.5,86.0 305.8,85.4 306.1,86.9 306.3,90.4 306.6,95.7 306.9,102.1 307.1,109.0 307.4,115.8 307.6,122.1 307.9,127.5 308.2,131.9 308.4,135.2 308.7,137.6 308.9,139.0 309.2,139.4 309.5,138.6 309.7,136.6 310.0,133.5 310.2,129.5 310.5,124.8 310.8,119.7 311.0,114.5 311.3,109.5 311.6,105.0 311.8,101.4 312.1,98.9 312.3,97.6 312.6,97.7 312.9,99.2 313.1,102.0 313.4,105.9 313.6,110.8 313.9,116.2 314.2,121.9 314.4,127.6 314.7,132.7 314.9,137.1 315.2,140.5 315.5,142.5 315.7,143.1 316.0,142.2 316.3,139.9 316.5,136.2 316.8,131.4 317.0,125.8 317.3,119.8 317.6,113.6 317.8,107.7 318.1,102.4 318.3,98.2 318.6,95.2 318.9,93.7 319.1,93.8 319.4,95.6 319.6,98.8 319.9,103.5 320.2,109.2 320.4,115.6 320.7,122.4 321.0,129.1 321.2,135.3 321.5,140.6 321.7,144.6 322.0,147.1 322.3,147.8 322.5,146.8 322.8,144.0 323.0,139.6 323.3,133.8 323.6,127.1 323.8,119.8 324.1,112.5 324.3,105.5 324.6,99.3 324.9,94.4 325.1,91.0 325.4,89.4 325.7,89.6 325.9,91.8 326.2,95.7 326.4,101.1 326.7,107.7 327.0,115.1 327.2,122.8 327.5,130.4 327.7,137.3 328.0,143.1 328.3,147.5 328.5,150.2 328.8,150.9 329.0,149.7 329.3,146.5 329.6,141.6 329.8,135.3 330.1,127.9 330.4,119.9 330.6,111.7 330.9,103.9 331.1,97.0 331.4,91.3 331.7,87.1 331.9,84.9 332.2,84.8 332.4,86.8 332.7,91.0 333.0,97.1 333.2,105.0 333.5,114.0 333.7,123.7 334.0,133.6 334.3,142.8 334.5,150.9 334.8,157.1 335.1,161.2 335.3,162.8 335.6,161.7 335.8,157.8 336.1,151.3 336.4,142.5 336.6,131.9 336.9,120.1 337.1,107.9 337.4,96.2 337.7,85.9 337.9,77.6 338.2,72.1 338.4,69.6 338.7,70.3 339.0,74.0 339.2,80.7 339.5,89.7 339.8,100.6 340.0,112.5 340.3,124.8 340.5,136.6 340.8,147.2 341.1,156.0 341.3,162.3 341.6,165.9 341.8,166.5 342.1,164.1 342.4,159.0 342.6,151.5 342.9,142.1 343.1,131.4 343.4,120.1 343.7,108.9 343.9,98.5 344.2,89.5 344.5,82.5 344.7,77.9 345.0,75.9 345.2,76.6 345.5,80.0 345.8,85.8 346.0,93.7 346.3,103.1 346.5,113.5 346.8,124.1 347.1,134.3 347.3,143.5 347.6,151.1 347.8,156.7 348.1,159.9 348.4,160.4 348.6,158.5 348.9,154.0 349.2,147.5 349.4,139.3 349.7,129.9 349.9,120.0 350.2,110.2 350.5,101.1 350.7,93.3 351.0,87.3 351.2,83.4 351.5,81.9 351.8,82.9 352.0,86.2 352.3,91.6 352.5,98.4 352.8,106.4 353.1,114.7 353.3,123.0 353.6,130.5 353.9,136.9 354.1,141.8 354.4,145.0 354.6,146.3 354.9,145.9 355.2,143.9 355.4,140.5 355.7,136.1 355.9,130.9 356.2,125.3 356.5,119.7 356.7,114.6 357.0,110.3 357.2,107.0 357.5,104.8 357.8,103.7 358.0,103.7 358.3,104.6 358.6,106.4 358.8,108.7 359.1,111.4 359.3,114.4 359.6,117.6 359.9,120.8 360.1,124.1 360.4,127.2 360.6,129.9 360.9,132.2 361.2,133.8 361.4,134.6 361.7,134.4 362.0,133.3 362.2,131.1 362.5,128.0 362.7,124.1 363.0,119.7 363.3,115.0 363.5,110.5 363.8,106.4 364.0,103.0 364.3,100.5 364.6,99.2 364.8,99.2 365.1,100.4 365.3,102.9 365.6,106.6 365.9,111.2 366.1,116.4 366.4,121.8 366.7,127.2 366.9,132.1 367.2,136.1 367.4,139.1 367.7,140.7 368.0,141.0 368.2,139.9 368.5,137.5 368.7,134.0 369.0,129.7 369.3,124.8 369.5,119.7 369.8,114.7 370.0,110.2 370.3,106.3 370.6,103.3 370.8,101.5 371.1,100.7 371.4,101.2 371.6,102.7 371.9,105.2 372.1,108.5 372.4,112.5 372.7,116.9 372.9,121.4 373.2,125.8 373.4,129.8 373.7,133.2 374.0,135.8 374.2,137.3 374.5,137.8 374.7,137.1 375.0,135.3 375.3,132.5 375.5,128.8 375.8,124.4 376.1,119.7 376.3,114.8 376.6,110.2 376.8,106.1 377.1,102.7 377.4,100.3 377.6,99.1 377.9,99.1 378.1,100.5 378.4,103.0 378.7,106.7 378.9,111.2 379.2,116.3 379.4,121.9 379.7,127.4 380.0,132.6 380.2,137.3 380.5,140.9 380.8,143.3 381.0,144.3 381.3,143.7 381.5,141.5 381.8,137.8 382.1,132.8 382.3,126.6 382.6,119.8 382.8,112.7 383.1,105.8 383.4,99.5 383.6,94.4 383.9,90.7 384.1,88.8 384.4,88.9 384.7,90.9 384.9,94.8 385.2,100.3 385.5,107.1 385.7,114.9 386.0,123.0 386.2,131.1 386.5,138.5 386.8,144.8 387.0,149.6 387.3,152.5 387.5,153.4 387.8,152.1 388.1,148.7 388.3,143.5 388.6,136.6 388.8,128.6 389.1,119.9 389.4,111.1 389.6,102.7 389.9,95.2 390.2,89.2 390.4,85.0 390.7,83.0 390.9,83.2 391.2,85.7 391.5,90.4 391.7,96.9 392.0,105.0 392.2,114.1 392.5,123.6 392.8,133.1 393.0,141.8 393.3,149.3 393.5,155.1 393.8,158.7 394.1,159.9 394.3,158.5 394.6,154.7 394.9,148.5 395.1,140.3 395.4,130.6 395.6,120.0 395.9,109.2 396.2,98.8 396.4,89.5 396.7,82.0 396.9,76.7 397.2,74.1 397.5,74.3 397.7,77.4 398.0,83.3 398.2,91.5 398.5,101.6 398.8,112.8 399.0,124.6 399.3,136.1 399.6,146.4 399.8,154.8 400.1,160.6 400.3,163.3 400.6,162.9 400.9,159.6 401.1,153.8 401.4,146.3 401.6,137.6 401.9,128.6 402.2,119.9 402.4,112.0 402.7,105.3 402.9,100.3 403.2,97.3 403.5,96.3 403.7,97.2 404.0,99.5 404.3,102.8 404.5,106.5 404.8,110.3 405.0,113.9 405.3,117.4 405.6,121.0 405.8,124.4 406.1,127.6 406.3,130.3 406.6,132.4 406.9,133.7 407.1,134.2 407.4,133.8 407.6,132.4 407.9,130.2 408.2,127.2 408.4,123.6 408.7,119.6 409.0,115.5 409.2,111.5 409.5,107.9 409.7,104.9 410.0,102.8 410.3,101.7 410.5,101.7 410.8,102.8 411.0,105.0 411.3,108.2 411.6,112.2 411.8,116.7 412.1,121.5 412.3,126.4 412.6,130.9 412.9,134.8 413.1,137.8 413.4,139.7 413.7,140.4 413.9,139.7 414.2,137.7 414.4,134.5 414.7,130.3 415.0,125.2 415.2,119.7 415.5,114.1 415.7,108.8 416.0,104.1 416.3,100.3 416.5,97.7 416.8,96.5 417.0,96.7 417.3,98.5 417.6,101.5 417.8,105.7 418.1,110.7 418.4,116.2 418.6,121.9 418.9,127.2 419.1,132.0 419.4,135.9 419.7,138.6 419.9,140.1 420.2,140.2 420.4,139.0 420.7,136.7 421.0,133.3 421.2,129.1 421.5,124.5 421.7,119.7 422.0,115.0 422.3,110.6 422.5,106.9 422.8,104.1 423.1,102.2 423.3,101.4 423.6,101.7 423.8,103.1 424.1,105.4 424.4,108.7 424.6,112.6 424.9,116.9 425.1,121.4 425.4,125.7 425.7,129.6 425.9,132.8 426.2,135.2 426.4,136.6 426.7,137.0 427.0,136.2 427.2,134.3 427.5,131.6 427.8,128.1 428.0,124.0 428.3,119.7 428.5,115.3 428.8,111.2 429.1,107.7 429.3,104.9 429.6,103.0 429.8,102.2 430.1,102.4 430.4,103.7 430.6,106.0 430.9,109.1 431.1,112.9 431.4,117.0 431.7,121.3 431.9,125.3 432.2,128.9 432.5,131.6 432.7,133.5 433.0,134.3 433.2,134.1 433.5,133.0 433.8,131.0 434.0,128.5 434.3,125.6 434.5,122.5 434.8,119.6 435.1,116.9 435.3,114.6 435.6,112.8 435.8,111.6 436.1,111.0 436.4,110.9 436.6,111.2 436.9,112.0 437.2,113.2 437.4,114.6 437.7,116.3 437.9,118.2 438.2,120.3 438.5,122.5 438.7,124.7 439.0,126.7 439.2,128.5 439.5,129.8 439.8,130.5 440.0,130.5 440.3,129.8 440.5,128.2 440.8,125.9 441.1,123.0 441.3,119.6 441.6,116.0 441.9,112.4 442.1,109.1 442.4,106.2 442.6,104.1 442.9,102.9 443.2,102.8 443.4,103.7 443.7,105.7 443.9,108.6 444.2,112.4 444.5,116.8 444.7,121.5 445.0,126.1 445.2,130.4 445.5,134.0 445.8,136.7 446.0,138.4 446.3,138.9 446.6,138.1 446.8,136.2 447.1,133.1 447.3,129.2 447.6,124.6 447.9,119.7 448.1,114.7 448.4,110.0 448.6,105.8 448.9,102.5 449.2,100.2 449.4,99.2 449.7,99.4 449.9,100.8 450.2,103.5 450.5,107.1 450.7,111.6 451.0,116.5 451.3,121.7 451.5,126.7 451.8,131.3 452.0,135.1 452.3,138.0 452.6,139.7 452.8,140.2 453.1,139.3 453.3,137.2 453.6,134.0 453.9,129.8 454.1,124.9 454.4,119.7 454.6,114.4 454.9,109.5 455.2,105.1 455.4,101.6 455.7,99.2 456.0,98.0 456.2,98.2 456.5,99.7 456.7,102.5 457.0,106.3 457.3,111.0 457.5,116.3 457.8,121.8 458.0,127.3 458.3,132.3 458.6,136.6 458.8,139.9 459.1,142.0 459.3,142.7 459.6,142.0 459.9,139.8 460.1,136.2 460.4,131.5 460.7,125.9 460.9,119.8 461.2,113.4 461.4,107.3 461.7,101.8 462.0,97.3 462.2,94.1 462.5,92.4 462.7,92.4 463.0,94.1 463.3,97.5 463.5,102.4 463.8,108.5 464.0,115.4 464.3,122.6 464.6,129.8 464.8,136.5 465.1,142.1 465.4,146.4 465.6,148.9 465.9,149.7 466.1,148.5 466.4,145.5 466.7,140.8 466.9,134.7 467.2,127.6 467.4,119.9 467.7,112.0 468.0,104.6 468.2,98.0 468.5,92.7 468.7,89.0 469.0,87.3 469.3,87.5 469.5,89.8 469.8,94.0 470.1,99.8 470.3,106.9 470.6,114.8 470.8,123.0 471.1,131.1 471.4,138.4 471.6,144.5 471.9,149.0 472.1,151.7 472.4,152.4 472.7,150.9 472.9,147.5 473.2,142.3 473.4,135.7 473.7,128.0 474.0,119.9 474.2,111.7 474.5,104.0 474.8,97.4 475.0,92.1 475.3,88.5 475.5,86.9 475.8,87.4 476.1,89.8 476.3,94.1 476.6,100.0 476.8,107.1 477.1,114.9 477.4,123.0 477.6,130.8 477.9,137.8 478.1,143.7 478.4,148.0 478.7,150.5 478.9,151.0 479.2,149.6 479.5,146.2 479.7,141.2 480.0,134.9 480.2,127.6 480.5,119.9 480.8,112.1 481.0,104.9 481.3,98.6 481.5,93.6 481.8,90.3 482.1,88.9 482.3,89.4 482.6,91.8 482.8,95.9 483.1,101.4 483.4,108.0 483.6,115.2 483.9,122.7 484.2,129.8 484.4,136.2 484.7,141.5 484.9,145.4 485.2,147.6 485.5,148.0 485.7,146.6 486.0,143.5 486.2,139.0 486.5,133.2 486.8,126.7 487.0,119.8 487.3,112.9 487.5,106.5 487.8,101.0 488.1,96.6 488.3,93.7 488.6,92.4 488.9,92.8 489.1,94.9 489.4,98.4 489.6,103.3 489.9,109.2 490.2,115.7" stroke="#000" stroke-width="2.08"/>
<path d="M33.2,117.9 33.5,117.0 33.7,116.2 34.0,115.7 34.2,115.5 34.5,115.6 34.8,115.9 35.0,116.6 35.3,117.4 35.6,118.3 35.8,119.3 36.1,120.3 36.3,121.2 36.6,121.9 36.9,122.4 37.1,122.7 37.4,122.7 37.6,122.5 37.9,122.0 38.2,121.4 38.4,120.7 38.7,119.8 38.9,119.0 39.2,118.2 39.5,117.5 39.7,116.9 40.0,116.6 40.3,116.4 40.5,116.4 40.8,116.7 41.0,117.2 41.3,117.8 41.6,118.6 41.8,119.5 42.1,120.4 42.3,121.2 42.6,121.9 42.9,122.5 43.1,122.9 43.4,123.0 43.6,122.8 43.9,122.3 44.2,121.7 44.4,120.8 44.7,119.8 45.0,118.7 45.2,117.7 45.5,116.7 45.7,116.0 46.0,115.6 46.3,115.4 46.5,115.5 46.8,116.0 47.0,116.7 47.3,117.6 47.6,118.6 47.8,119.7 48.1,120.8 48.3,121.8 48.6,122.5 48.9,123.1 49.1,123.4 49.4,123.3 49.7,123.0 49.9,122.4 50.2,121.6 50.4,120.6 50.7,119.5 51.0,118.4 51.2,117.4 51.5,116.5 51.7,115.9 52.0,115.5 52.3,115.4 52.5,115.6 52.8,116.1 53.0,116.9 53.3,117.8 53.6,118.9 53.8,120.0 54.1,121.2 54.4,122.2 54.6,123.1 54.9,123.7 55.1,124.0 55.4,124.0 55.7,123.6 55.9,122.8 56.2,121.8 56.4,120.5 56.7,119.1 57.0,117.6 57.2,116.2 57.5,115.0 57.7,114.1 58.0,113.6 58.3,113.6 58.5,114.0 58.8,114.9 59.1,116.1 59.3,117.6 59.6,119.3 59.8,120.9 60.1,122.4 60.4,123.7 60.6,124.6 60.9,125.1 61.1,125.2 61.4,124.8 61.7,124.0 61.9,122.9 62.2,121.5 62.4,120.0 62.7,118.5 63.0,117.0 63.2,115.8 63.5,114.9 63.8,114.4 64.0,114.2 64.3,114.4 64.5,115.1 64.8,116.0 65.1,117.2 65.3,118.5 65.6,119.9 65.8,121.2 66.1,122.4 66.4,123.4 66.6,124.1 66.9,124.4 67.1,124.4 67.4,123.9 67.7,123.1 67.9,122.0 68.2,120.7 68.5,119.3 68.7,117.8 69.0,116.4 69.2,115.3 69.5,114.4 69.8,114.0 70.0,113.9 70.3,114.3 70.5,115.0 70.8,116.2 71.1,117.6 71.3,119.2 71.6,120.8 71.8,122.3 72.1,123.7 72.4,124.7 72.6,125.3 72.9,125.5 73.2,125.1 73.4,124.4 73.7,123.2 73.9,121.7 74.2,120.0 74.5,118.3 74.7,116.6 75.0,115.1 75.2,114.0 75.5,113.2 75.8,113.0 76.0,113.2 76.3,113.9 76.5,115.1 76.8,116.6 77.1,118.4 77.3,120.2 77.6,122.0 77.9,123.7 78.1,125.0 78.4,125.9 78.6,126.3 78.9,126.2 79.2,125.5 79.4,124.4 79.7,122.8 79.9,120.9 80.2,118.9 80.5,116.7 80.7,114.7 81.0,112.9 81.2,111.6 81.5,110.8 81.8,110.7 82.0,111.3 82.3,112.6 82.6,114.5 82.8,116.9 83.1,119.7 83.3,122.5 83.6,125.1 83.9,127.4 84.1,129.1 84.4,130.1 84.6,130.1 84.9,129.4 85.2,127.7 85.4,125.4 85.7,122.6 85.9,119.6 86.2,116.5 86.5,113.7 86.7,111.3 87.0,109.5 87.3,108.6 87.5,108.5 87.8,109.2 88.0,110.8 88.3,113.0 88.6,115.8 88.8,118.8 89.1,121.9 89.3,124.8 89.6,127.3 89.9,129.1 90.1,130.2 90.4,130.4 90.6,129.7 90.9,128.2 91.2,126.0 91.4,123.3 91.7,120.3 92.0,117.2 92.2,114.4 92.5,112.0 92.7,110.2 93.0,109.1 93.3,108.9 93.5,109.6 93.8,111.0 94.0,113.0 94.3,115.6 94.6,118.3 94.8,121.1 95.1,123.8 95.3,126.0 95.6,127.6 95.9,128.6 96.1,128.8 96.4,128.3 96.7,127.1 96.9,125.3 97.2,123.1 97.4,120.6 97.7,118.0 98.0,115.6 98.2,113.4 98.5,111.8 98.7,110.7 99.0,110.4 99.3,110.7 99.5,111.7 99.8,113.4 100.0,115.6 100.3,118.1 100.6,120.7 100.8,123.3 101.1,125.7 101.4,127.6 101.6,128.9 101.9,129.4 102.1,129.2 102.4,128.1 102.7,126.3 102.9,123.9 103.2,121.1 103.4,118.0 103.7,114.9 104.0,112.1 104.2,109.8 104.5,108.3 104.7,107.6 105.0,107.8 105.3,109.1 105.5,111.1 105.8,114.0 106.1,117.4 106.3,121.1 106.6,124.8 106.8,128.4 107.1,131.3 107.4,133.4 107.6,134.5 107.9,134.3 108.1,132.9 108.4,130.2 108.7,126.5 108.9,122.1 109.2,117.2 109.4,112.3 109.7,107.9 110.0,104.3 110.2,101.8 110.5,100.8 110.8,101.3 111.0,103.4 111.3,106.8 111.5,111.3 111.8,116.5 112.1,121.9 112.3,127.1 112.6,131.7 112.8,135.2 113.1,137.5 113.4,138.2 113.6,137.4 113.9,135.2 114.1,131.6 114.4,127.1 114.7,122.0 114.9,116.8 115.2,111.7 115.5,107.3 115.7,104.0 116.0,101.9 116.2,101.2 116.5,102.0 116.8,104.3 117.0,107.7 117.3,112.1 117.5,117.1 117.8,122.3 118.1,127.2 118.3,131.5 118.6,134.8 118.8,136.8 119.1,137.4 119.4,136.6 119.6,134.3 119.9,130.8 120.2,126.4 120.4,121.3 120.7,116.1 120.9,111.2 121.2,106.8 121.5,103.6 121.7,101.6 122.0,101.0 122.2,102.0 122.5,104.4 122.8,108.1 123.0,112.7 123.3,117.9 123.5,123.3 123.8,128.4 124.1,132.7 124.3,136.0 124.6,138.0 124.9,138.4 125.1,137.3 125.4,134.7 125.6,130.8 125.9,125.9 126.2,120.4 126.4,114.6 126.7,109.2 126.9,104.5 127.2,100.9 127.5,98.9 127.7,98.5 128.0,99.8 128.2,102.9 128.5,107.4 128.8,112.9 129.0,119.1 129.3,125.4 129.6,131.2 129.8,136.0 130.1,139.4 130.3,141.2 130.6,141.1 130.9,139.2 131.1,135.7 131.4,130.8 131.6,125.0 131.9,118.8 132.2,112.6 132.4,107.1 132.7,102.7 132.9,99.6 133.2,98.3 133.5,98.7 133.7,100.8 134.0,104.5 134.3,109.4 134.5,115.0 134.8,121.0 135.0,126.8 135.3,131.9 135.6,135.9 135.8,138.6 136.1,139.6 136.3,138.9 136.6,136.7 136.9,133.0 137.1,128.1 137.4,122.6 137.6,116.8 137.9,111.2 138.2,106.3 138.4,102.5 138.7,100.1 139.0,99.3 139.2,100.1 139.5,102.6 139.7,106.5 140.0,111.5 140.3,117.2 140.5,123.2 140.8,128.9 141.0,133.9 141.3,137.7 141.6,140.0 141.8,140.7 142.1,139.5 142.3,136.6 142.6,132.2 142.9,126.7 143.1,120.4 143.4,113.9 143.7,107.4 143.9,101.4 144.2,96.6 144.4,93.3 144.7,92.1 145.0,93.2 145.2,96.8 145.5,102.8 145.7,110.9 146.0,120.5 146.3,130.7 146.5,140.7 146.8,149.4 147.0,155.8 147.3,159.3 147.6,159.3 147.8,155.7 148.1,148.7 148.4,138.8 148.6,126.7 148.9,113.5 149.1,100.4 149.4,88.5 149.7,79.0 149.9,73.0 150.2,71.2 150.4,73.9 150.7,81.3 151.0,92.9 151.2,107.7 151.5,124.2 151.7,140.7 152.0,155.4 152.3,166.7 152.5,173.4 152.8,174.9 153.1,171.4 153.3,163.4 153.6,151.6 153.8,137.0 154.1,120.8 154.4,104.2 154.6,88.6 154.9,75.4 155.1,65.7 155.4,60.6 155.7,60.9 155.9,67.2 156.2,79.0 156.4,95.2 156.7,113.7 157.0,132.3 157.2,148.7 157.5,161.2 157.8,169.0 158.0,171.9 158.3,170.4 158.5,165.3 158.8,157.4 159.1,147.5 159.3,136.4 159.6,124.7 159.8,113.0 160.1,102.0 160.4,92.1 160.6,83.9 160.9,78.1 161.1,75.2 161.4,75.6 161.7,79.9 161.9,87.8 162.2,98.7 162.5,111.2 162.7,124.0 163.0,135.6 163.2,144.9 163.5,151.0 163.8,153.7 164.0,153.0 164.3,149.3 164.5,142.9 164.8,134.7 165.1,125.3 165.3,115.6 165.6,106.4 165.8,98.3 166.1,92.2 166.4,88.8 166.6,88.4 166.9,91.7 167.2,98.6 167.4,108.5 167.7,120.1 167.9,131.8 168.2,141.8 168.5,148.8 168.7,152.0 169.0,151.5 169.2,147.6 169.5,140.7 169.8,131.2 170.0,119.9 170.3,107.7 170.5,95.9 170.8,85.6 171.1,78.1 171.3,74.2 171.6,74.7 171.9,79.3 172.1,87.8 172.4,99.4 172.6,113.3 172.9,128.2 173.2,143.1 173.4,156.7 173.7,167.7 173.9,175.2 174.2,178.3 174.5,176.5 174.7,169.6 175.0,158.2 175.2,142.8 175.5,124.5 175.8,104.9 176.0,85.4 176.3,67.9 176.6,54.2 176.8,45.8 177.1,43.8 177.3,49.0 177.6,61.2 177.9,79.8 178.1,103.1 178.4,128.7 178.6,154.0 178.9,176.3 179.2,193.3 179.4,203.5 179.7,206.3 179.9,201.8 180.2,190.7 180.5,174.0 180.7,153.1 181.0,129.4 181.3,104.7 181.5,80.6 181.8,59.0 182.0,41.5 182.3,29.7 182.6,24.8 182.8,27.5 183.1,37.7 183.3,54.9 183.6,77.5 183.9,103.9 184.1,131.6 184.4,158.2 184.6,181.4 184.9,199.2 185.2,210.0 185.4,213.1 185.7,208.2 186.0,195.8 186.2,177.1 186.5,153.6 186.7,127.5 187.0,100.8 187.3,75.9 187.5,54.9 187.8,39.5 188.0,30.9 188.3,29.9 188.6,36.6 188.8,50.3 189.1,69.6 189.3,92.7 189.6,117.5 189.9,141.8 190.1,163.6 190.4,181.0 190.7,192.7 190.9,198.1 191.2,196.9 191.4,189.3 191.7,176.0 192.0,158.3 192.2,137.8 192.5,116.2 192.7,95.2 193.0,76.8 193.3,62.2 193.5,52.8 193.8,49.1 194.0,51.4 194.3,59.5 194.6,72.3 194.8,88.8 195.1,107.4 195.4,126.4 195.6,144.3 195.9,159.6 196.1,171.2 196.4,178.2 196.7,180.3 196.9,177.3 197.2,169.6 197.4,157.7 197.7,142.7 198.0,125.9 198.2,108.6 198.5,92.4 198.8,78.6 199.0,68.4 199.3,62.7 199.5,61.9 199.8,66.0 200.1,74.7 200.3,87.0 200.6,101.5 200.8,117.1 201.1,132.2 201.4,145.5 201.6,156.1 201.9,163.2 202.1,166.3 202.4,165.4 202.7,160.8 202.9,153.2 203.2,143.2 203.5,131.7 203.7,119.8 204.0,108.4 204.2,98.4 204.5,90.7 204.8,86.0 205.0,84.7 205.3,87.1 205.5,93.5 205.8,102.6 206.1,112.5 206.3,121.2 206.6,127.5 206.8,131.0 207.1,132.3 207.4,132.5 207.6,132.4 207.9,131.7 208.2,130.3 208.4,128.5 208.7,126.3 208.9,123.9 209.2,121.3 209.5,118.6 209.7,115.8 210.0,113.1 210.2,110.4 210.5,107.9 210.8,105.7 211.0,103.5 211.3,101.2 211.5,99.2 211.8,98.0 212.1,98.3 212.3,100.6 212.6,105.3 212.9,112.2 213.1,121.1 213.4,131.2 213.6,141.3 213.9,150.0 214.2,156.2 214.4,159.6 214.7,160.0 214.9,157.3 215.2,151.7 215.5,143.8 215.7,134.2 216.0,123.7 216.2,113.1 216.5,103.4 216.8,95.0 217.0,88.7 217.3,84.7 217.6,83.3 217.8,84.2 218.1,87.4 218.3,92.6 218.6,99.3 218.9,107.1 219.1,115.4 219.4,123.8 219.6,131.7 219.9,138.7 220.2,144.4 220.4,148.5 220.7,150.9 220.9,151.3 221.2,149.8 221.5,146.5 221.7,141.5 222.0,135.1 222.3,127.6 222.5,119.6 222.8,111.5 223.0,103.8 223.3,96.9 223.6,91.3 223.8,87.3 224.1,85.3 224.3,85.4 224.6,87.7 224.9,91.9 225.1,98.1 225.4,105.7 225.6,114.3 225.9,123.5 226.2,132.6 226.4,141.0 226.7,148.3 227.0,154.0 227.2,157.5 227.5,158.7 227.7,157.4 228.0,153.7 228.3,147.7 228.5,139.7 228.8,130.3 229.0,120.0 229.3,109.5 229.6,99.3 229.8,90.3 230.1,82.9 230.3,77.6 230.6,74.8 230.9,74.7 231.1,77.5 231.4,83.0 231.7,91.0 231.9,101.0 232.2,112.6 232.4,124.9 232.7,137.2 233.0,148.7 233.2,158.7 233.5,166.3 233.7,171.2 234.0,172.8 234.3,171.0 234.5,165.8 234.8,157.6 235.0,146.8 235.3,134.0 235.6,120.2 235.8,106.3 236.1,93.1 236.4,81.7 236.6,72.6 236.9,66.6 237.1,63.9 237.4,64.7 237.7,69.0 237.9,76.5 238.2,86.5 238.4,98.6 238.7,111.8 239.0,125.4 239.2,138.4 239.5,150.0 239.7,159.5 240.0,166.4 240.3,170.3 240.5,170.8 240.8,168.2 241.1,162.5 241.3,154.3 241.6,144.0 241.8,132.4 242.1,120.1 242.4,108.1 242.6,96.9 242.9,87.4 243.1,80.0 243.4,75.4 243.7,73.6 243.9,74.8 244.2,78.7 244.4,85.1 244.7,93.4 245.0,103.2 245.2,113.5 245.5,123.9 245.8,133.7 246.0,142.2 246.3,149.0 246.5,153.6 246.8,156.0 247.1,156.0 247.3,153.8 247.6,149.5 247.8,143.5 248.1,136.3 248.4,128.2 248.6,119.9 248.9,111.8 249.1,104.3 249.4,98.0 249.7,93.1 249.9,89.9 250.2,88.7 250.5,89.4 250.7,91.9 251.0,96.1 251.2,101.7 251.5,108.2 251.8,115.4 252.0,122.6 252.3,129.4 252.5,135.6 252.8,140.6 253.1,144.2 253.3,146.2 253.6,146.5 253.8,145.2 254.1,142.2 254.4,137.9 254.6,132.5 254.9,126.3 255.2,119.8 255.4,113.3 255.7,107.2 255.9,101.9 256.2,97.8 256.5,95.0 256.7,93.8 257.0,94.1 257.2,96.1 257.5,99.5 257.8,104.1 258.0,109.7 258.3,115.9 258.5,122.2 258.8,128.3 259.1,133.9 259.3,138.5 259.6,142.0 259.9,144.0 260.1,144.4 260.4,143.3 260.6,140.7 260.9,136.8 261.2,131.8 261.4,126.0 261.7,119.8 261.9,113.5 262.2,107.7 262.5,102.5 262.7,98.4 263.0,95.7 263.2,94.4 263.5,94.6 263.8,96.5 264.0,99.7 264.3,104.3 264.6,109.7 264.8,115.9 265.1,122.2 265.3,128.4 265.6,134.1 265.9,138.8 266.1,142.4 266.4,144.6 266.6,145.1 266.9,144.1 267.2,141.5 267.4,137.4 267.7,132.3 267.9,126.3 268.2,119.8 268.5,113.2 268.7,106.8 269.0,101.1 269.3,96.5 269.5,93.1 269.8,91.3 270.0,91.2 270.3,92.9 270.6,96.4 270.8,101.4 271.1,107.7 271.3,115.1 271.6,122.9 271.9,130.8 272.1,138.2 272.4,144.7 272.6,149.8 272.9,153.1 273.2,154.4 273.4,153.4 273.7,150.4 274.0,145.2 274.2,138.2 274.5,129.6 274.7,120.0 275.0,109.8 275.3,99.7 275.5,90.3 275.8,82.4 276.0,76.4 276.3,73.0 276.6,72.4 276.8,75.0 277.1,80.5 277.3,88.9 277.6,99.6 277.9,112.0 278.1,125.3 278.4,138.6 278.7,151.1 278.9,161.7 279.2,169.7 279.4,174.6 279.7,176.1 280.0,174.0 280.2,168.5 280.5,159.7 280.7,148.2 281.0,134.8 281.3,120.3 281.5,105.5 281.8,91.4 282.0,79.0 282.3,69.0 282.6,62.1 282.8,58.8 283.1,59.3 283.4,63.6 283.6,71.5 283.9,82.5 284.1,95.8 284.4,110.7 284.7,126.3 284.9,141.4 285.2,155.1 285.4,166.6 285.7,175.0 286.0,179.8 286.2,180.8 286.5,177.8 286.7,171.2 287.0,161.3 287.3,149.0 287.5,135.0 287.8,120.3 288.1,105.8 288.3,92.6 288.6,81.3 288.8,72.8 289.1,67.4 289.4,65.4 289.6,66.8 289.9,71.4 290.1,78.9 290.4,88.7 290.7,100.2 290.9,112.4 291.2,124.8 291.4,136.5 291.7,146.9 292.0,155.2 292.2,161.1 292.5,164.2 292.8,164.4 293.0,161.8 293.3,156.7 293.5,149.3 293.8,140.4 294.1,130.4 294.3,120.0 294.6,110.0 294.8,100.8 295.1,93.2 295.4,87.4 295.6,83.9 295.9,82.7 296.1,83.8 296.4,87.0 296.7,92.2 296.9,98.9 297.2,106.6 297.5,114.8 297.7,123.0 298.0,130.7 298.2,137.4 298.5,142.8 298.8,146.5 299.0,148.5 299.3,148.6 299.5,146.9 299.8,143.5 300.1,138.8 300.3,132.9 300.6,126.5 300.8,119.8 301.1,113.3 301.4,107.4 301.6,102.4 301.9,98.7 302.2,96.4 302.4,95.6 302.7,96.3 302.9,98.5 303.2,101.9 303.5,106.2 303.7,111.2 304.0,116.5 304.2,121.6 304.5,126.3 304.8,130.2 305.0,133.2 305.3,135.0 305.5,135.8 305.8,135.5 306.1,134.2 306.3,132.2 306.6,129.5 306.9,126.5 307.1,123.1 307.4,119.6 307.6,116.1 307.9,112.7 308.2,109.4 308.4,106.6 308.7,104.3 308.9,102.7 309.2,102.2 309.5,102.7 309.7,104.4 310.0,107.4 310.2,111.4 310.5,116.4 310.8,121.9 311.0,127.6 311.3,133.2 311.6,138.3 311.8,142.5 312.1,145.5 312.3,146.9 312.6,146.5 312.9,144.3 313.1,140.2 313.4,134.6 313.6,127.6 313.9,119.9 314.2,111.9 314.4,104.1 314.7,97.2 314.9,91.6 315.2,87.6 315.5,85.5 315.7,85.6 316.0,87.9 316.3,92.2 316.5,98.3 316.8,105.9 317.0,114.4 317.3,123.4 317.6,132.2 317.8,140.3 318.1,147.2 318.3,152.4 318.6,155.6 318.9,156.5 319.1,155.0 319.4,151.3 319.6,145.5 319.9,138.1 320.2,129.4 320.4,120.0 320.7,110.5 321.0,101.5 321.2,93.6 321.5,87.2 321.7,82.9 322.0,80.8 322.3,81.2 322.5,83.9 322.8,89.0 323.0,95.9 323.3,104.4 323.6,113.9 323.8,123.8 324.1,133.4 324.3,142.2 324.6,149.6 324.9,155.1 325.1,158.3 325.4,159.2 325.7,157.5 325.9,153.4 326.2,147.2 326.4,139.2 326.7,129.9 327.0,120.0 327.2,110.0 327.5,100.7 327.7,92.6 328.0,86.2 328.3,82.1 328.5,80.3 328.8,81.1 329.0,84.2 329.3,89.6 329.6,96.7 329.8,105.1 330.1,114.2 330.4,123.5 330.6,132.2 330.9,140.0 331.1,146.3 331.4,150.7 331.7,153.1 331.9,153.4 332.2,151.5 332.4,147.7 332.7,142.3 333.0,135.5 333.2,127.9 333.5,119.9 333.7,112.0 334.0,104.6 334.3,98.3 334.5,93.4 334.8,90.1 335.1,88.7 335.3,89.3 335.6,91.7 335.8,95.8 336.1,101.3 336.4,108.0 336.6,115.2 336.9,122.7 337.1,129.8 337.4,136.3 337.7,141.6 337.9,145.5 338.2,147.7 338.4,148.1 338.7,146.7 339.0,143.6 339.2,139.0 339.5,133.2 339.8,126.7 340.0,119.8 340.3,113.0 340.5,106.7 340.8,101.3 341.1,97.2 341.3,94.5 341.6,93.6 341.8,94.3 342.1,96.5 342.4,100.2 342.6,104.9 342.9,110.3 343.1,116.1 343.4,121.9 343.7,127.3 343.9,131.9 344.2,135.6 344.5,138.1 344.7,139.3 345.0,139.3 345.2,138.0 345.5,135.6 345.8,132.4 346.0,128.4 346.3,124.1 346.5,119.7 346.8,115.3 347.1,111.3 347.3,107.9 347.6,105.2 347.8,103.3 348.1,102.4 348.4,102.6 348.6,103.8 348.9,106.0 349.2,109.0 349.4,112.7 349.7,116.9 349.9,121.4 350.2,125.8 350.5,129.9 350.7,133.4 351.0,136.2 351.2,137.9 351.5,138.5 351.8,137.9 352.0,136.1 352.3,133.2 352.5,129.4 352.8,124.8 353.1,119.7 353.3,114.4 353.6,109.3 353.9,104.6 354.1,100.6 354.4,97.7 354.6,96.1 354.9,95.9 355.2,97.2 355.4,100.0 355.7,104.3 355.9,109.6 356.2,115.8 356.5,122.3 356.7,128.9 357.0,134.9 357.2,140.1 357.5,144.1 357.8,146.5 358.0,147.3 358.3,146.3 358.6,143.6 358.8,139.3 359.1,133.7 359.3,127.0 359.6,119.8 359.9,112.5 360.1,105.5 360.4,99.3 360.6,94.3 360.9,90.9 361.2,89.2 361.4,89.4 361.7,91.6 362.0,95.5 362.2,100.9 362.5,107.6 362.7,115.1 363.0,122.8 363.3,130.4 363.5,137.2 363.8,143.0 364.0,147.1 364.3,149.3 364.6,149.6 364.8,147.9 365.1,144.4 365.3,139.5 365.6,133.4 365.9,126.7 366.1,119.8 366.4,113.2 366.7,107.3 366.9,102.4 367.2,98.8 367.4,96.7 367.7,96.1 368.0,96.9 368.2,99.0 368.5,102.3 368.7,106.4 369.0,111.3 369.3,116.4 369.5,121.7 369.8,126.8 370.0,131.5 370.3,135.4 370.6,138.3 370.8,140.0 371.1,140.5 371.4,139.6 371.6,137.4 371.9,134.1 372.1,129.9 372.4,125.0 372.7,119.7 372.9,114.4 373.2,109.4 373.4,104.9 373.7,101.4 374.0,98.9 374.2,97.8 374.5,98.0 374.7,99.5 375.0,102.3 375.3,106.2 375.5,111.0 375.8,116.3 376.1,121.9 376.3,127.5 376.6,132.7 376.8,137.2 377.1,140.7 377.4,143.0 377.6,143.9 377.9,143.2 378.1,141.0 378.4,137.4 378.7,132.4 378.9,126.4 379.2,119.8 379.4,112.9 379.7,106.2 380.0,100.1 380.2,95.0 380.5,91.4 380.8,89.4 381.0,89.4 381.3,91.3 381.5,95.1 381.8,100.5 382.1,107.2 382.3,114.9 382.6,123.0 382.8,131.1 383.1,138.7 383.4,145.2 383.6,150.3 383.9,153.5 384.1,154.6 384.4,153.4 384.7,150.1 384.9,144.7 385.2,137.6 385.5,129.2 385.7,120.0 386.0,110.6 386.2,101.6 386.5,93.6 386.8,87.2 387.0,82.8 387.3,80.7 387.5,81.1 387.8,83.9 388.1,89.0 388.3,96.0 388.6,104.5 388.8,113.9 389.1,123.7 389.4,133.2 389.6,141.8 389.9,149.0 390.2,154.4 390.4,157.5 390.7,158.2 390.9,156.5 391.2,152.5 391.5,146.4 391.7,138.6 392.0,129.6 392.2,120.0 392.5,110.3 392.8,101.3 393.0,93.4 393.3,87.1 393.5,82.9 393.8,81.0 394.1,81.6 394.3,84.4 394.6,89.5 394.9,96.5 395.1,104.8 395.4,114.1 395.6,123.6 395.9,132.9 396.2,141.2 396.4,148.0 396.7,152.8 396.9,155.4 397.2,155.5 397.5,153.3 397.7,149.0 398.0,143.0 398.2,135.8 398.5,127.9 398.8,119.9 399.0,112.3 399.3,105.7 399.6,100.4 399.8,96.6 400.1,94.5 400.3,94.1 400.6,95.3 400.9,98.0 401.1,101.8 401.4,106.6 401.6,111.7 401.9,116.8 402.2,121.3 402.4,125.1 402.7,127.9 402.9,129.6 403.2,130.3 403.5,130.0 403.7,129.1 404.0,127.7 404.3,126.0 404.5,124.3 404.8,122.6 405.0,121.0 405.3,119.5 405.6,118.0 405.8,116.5 406.1,114.9 406.3,113.5 406.6,112.2 406.9,111.2 407.1,110.6 407.4,110.6 407.6,111.3 407.9,112.7 408.2,114.8 408.4,117.6 408.7,120.9 409.0,124.5 409.2,128.0 409.5,131.3 409.7,134.2 410.0,136.3 410.3,137.5 410.5,137.6 410.8,136.4 411.0,133.9 411.3,130.2 411.6,125.4 411.8,119.7 412.1,113.7 412.3,107.8 412.6,102.4 412.9,97.9 413.1,94.9 413.4,93.5 413.7,93.8 413.9,95.8 414.2,99.2 414.4,103.9 414.7,109.6 415.0,115.8 415.2,122.2 415.5,128.4 415.7,133.9 416.0,138.4 416.3,141.6 416.5,143.4 416.8,143.6 417.0,142.3 417.3,139.6 417.6,135.7 417.8,130.9 418.1,125.4 418.4,119.7 418.6,114.2 418.9,109.1 419.1,104.8 419.4,101.6 419.7,99.5 419.9,98.9 420.2,99.7 420.4,101.8 420.7,104.9 421.0,108.8 421.2,113.0 421.5,117.2 421.7,121.0 422.0,124.3 422.3,126.7 422.5,128.3 422.8,129.0 423.1,128.9 423.3,128.2 423.6,127.1 423.8,125.7 424.1,124.1 424.4,122.5 424.6,121.0 424.9,119.5 425.1,118.0 425.4,116.5 425.7,115.1 425.9,113.9 426.2,112.8 426.4,112.1 426.7,111.8 427.0,112.0 427.2,112.7 427.5,114.0 427.8,115.8 428.0,118.0 428.3,120.5 428.5,123.2 428.8,125.8 429.1,128.1 429.3,129.9 429.6,131.0 429.8,131.3 430.1,130.9 430.4,129.6 430.6,127.7 430.9,125.2 431.1,122.4 431.4,119.6 431.7,116.8 431.9,114.3 432.2,112.3 432.5,110.8 432.7,109.9 433.0,109.7 433.2,110.1 433.5,111.1 433.8,112.5 434.0,114.2 434.3,116.2 434.5,118.2 434.8,120.3 435.1,122.2 435.3,124.0 435.6,125.5 435.8,126.7 436.1,127.5 436.4,127.8 436.6,127.6 436.9,126.9 437.2,125.8 437.4,124.1 437.7,122.0 437.9,119.6 438.2,116.9 438.5,114.3 438.7,111.7 439.0,109.5 439.2,107.8 439.5,106.7 439.8,106.4 440.0,107.0 440.3,108.4 440.5,110.7 440.8,113.7 441.1,117.2 441.3,121.1 441.6,125.1 441.9,128.9 442.1,132.3 442.4,134.9 442.6,136.6 442.9,137.2 443.2,136.6 443.4,134.9 443.7,132.2 443.9,128.6 444.2,124.3 444.5,119.7 444.7,114.9 445.0,110.4 445.2,106.4 445.5,103.1 445.8,100.8 446.0,99.7 446.3,99.8 446.6,101.2 446.8,103.7 447.1,107.3 447.3,111.6 447.6,116.5 447.9,121.7 448.1,126.7 448.4,131.4 448.6,135.3 448.9,138.3 449.2,140.1 449.4,140.6 449.7,139.7 449.9,137.6 450.2,134.4 450.5,130.1 450.7,125.1 451.0,119.7 451.3,114.3 451.5,109.1 451.8,104.5 452.0,100.7 452.3,98.2 452.6,96.9 452.8,97.0 453.1,98.6 453.3,101.5 453.6,105.5 453.9,110.5 454.1,116.1 454.4,122.0 454.6,127.8 454.9,133.2 455.2,137.8 455.4,141.3 455.7,143.6 456.0,144.3 456.2,143.5 456.5,141.1 456.7,137.3 457.0,132.3 457.3,126.4 457.5,119.8 457.8,113.0 458.0,106.5 458.3,100.6 458.6,95.8 458.8,92.4 459.1,90.6 459.3,90.5 459.6,92.4 459.9,96.0 460.1,101.2 460.4,107.7 460.7,115.1 460.9,122.9 461.2,130.6 461.4,137.8 461.7,143.9 462.0,148.5 462.2,151.3 462.5,152.2 462.7,150.9 463.0,147.7 463.3,142.6 463.5,136.0 463.8,128.3 464.0,119.9 464.3,111.4 464.6,103.4 464.8,96.3 465.1,90.5 465.4,86.6 465.6,84.7 465.9,85.0 466.1,87.4 466.4,91.9 466.7,98.2 466.9,105.9 467.2,114.4 467.4,123.3 467.7,132.1 468.0,140.0 468.2,146.7 468.5,151.7 468.7,154.6 469.0,155.4 469.3,153.8 469.5,150.1 469.8,144.4 470.1,137.2 470.3,128.8 470.6,119.9 470.8,111.0 471.1,102.7 471.4,95.5 471.6,89.9 471.9,86.1 472.1,84.5 472.4,85.1 472.7,87.8 472.9,92.5 473.2,98.9 473.4,106.4 473.7,114.7 474.0,123.1 474.2,131.2 474.5,138.5 474.8,144.5 475.0,148.8 475.3,151.2 475.5,151.6 475.8,150.0 476.1,146.5 476.3,141.4 476.6,134.9 476.8,127.6 477.1,119.9 477.4,112.2 477.6,105.1 477.9,98.9 478.1,94.2 478.4,91.0 478.7,89.7 478.9,90.2 479.2,92.6 479.5,96.6 479.7,102.0 480.0,108.4 480.2,115.4 480.5,122.6 480.8,129.4 481.0,135.6 481.3,140.7 481.5,144.3 481.8,146.4 482.1,146.7 482.3,145.3 482.6,142.4 482.8,138.0 483.1,132.6 483.4,126.4 483.6,119.8 483.9,113.3 484.2,107.2 484.4,102.0 484.7,97.9 484.9,95.2 485.2,94.1 485.5,94.5 485.7,96.5 486.0,99.8 486.2,104.4 486.5,109.9 486.8,115.9 487.0,122.1 487.3,128.2 487.5,133.6 487.8,138.1 488.1,141.4 488.3,143.3 488.6,143.7 488.9,142.6 489.1,140.0 489.4,136.2 489.6,131.3 489.9,125.7 490.2,119.8" stroke="#d62728" stroke-width="2.08"/>
<path d="M553.3,150.3 553.8,150.7 554.3,150.6 554.8,149.8 555.3,148.4 555.8,146.4 556.4,143.6 556.9,140.2 557.4,136.1 557.9,131.4 558.4,126.1 558.9,120.3 559.4,114.2 559.9,107.8 560.4,101.4 560.9,95.1 561.4,89.1 561.9,83.6 562.5,78.7 563.0,74.7 563.5,71.7 564.0,69.9 564.5,69.3 565.0,69.9 565.5,71.9 566.0,75.1 566.5,79.6 567.0,85.4 567.5,92.2 568.0,99.8 568.6,108.2 569.1,117.1 569.6,126.1 570.1,135.1 570.6,143.8 571.1,151.8 571.6,159.1 572.1,165.4 572.6,170.5 573.1,174.4 573.6,176.9 574.1,178.1 574.7,177.9 575.2,176.6 575.7,174.0 576.2,170.4 576.7,165.8 577.2,160.3 577.7,154.0 578.2,147.1 578.7,139.7 579.2,131.9 579.7,123.9 580.3,115.8 580.8,107.6 581.3,99.6 581.8,91.9 582.3,84.7 582.8,78.0 583.3,72.0 583.8,66.8 584.3,62.6 584.8,59.5 585.3,57.6 585.8,56.9 586.4,57.6 586.9,59.8 587.4,63.4 587.9,68.4 588.4,74.7 588.9,82.0 589.4,90.3 589.9,99.2 590.4,108.5 590.9,117.9 591.4,127.3 591.9,136.2 592.5,144.5 593.0,152.0 593.5,158.5 594.0,163.9 594.5,168.1 595.0,171.0 595.5,172.7 596.0,173.2 596.5,172.6 597.0,170.9 597.5,168.2 598.0,164.6 598.6,160.2 599.1,155.1 599.6,149.5 600.1,143.4 600.6,137.0 601.1,130.4 601.6,123.7 602.1,117.0 602.6,110.5 603.1,104.2 603.6,98.2 604.1,92.7 604.7,87.7 605.2,83.4 605.7,79.9 606.2,77.1 606.7,75.1 607.2,74.1 607.7,74.1 608.2,75.0 608.7,77.0 609.2,79.8 609.7,83.5 610.3,88.0 610.8,93.2 611.3,98.8 611.8,104.8 612.3,111.0 612.8,117.3 613.3,123.4 613.8,129.3 614.3,134.8 614.8,139.7 615.3,144.0 615.8,147.6 616.4,150.4 616.9,152.4 617.4,153.5 617.9,153.9 618.4,153.4 618.9,152.2 619.4,150.2 619.9,147.6 620.4,144.5 620.9,140.8 621.4,136.8 621.9,132.4 622.5,127.9 623.0,123.3 623.5,118.6 624.0,114.0 624.5,109.6 625.0,105.5 625.5,101.7 626.0,98.3 626.5,95.5 627.0,93.3 627.5,91.7 628.0,90.8 628.6,90.7 629.1,91.5 629.6,93.2 630.1,95.8 630.6,99.3 631.1,103.5 631.6,108.5 632.1,113.8 632.6,119.4 633.1,125.0 633.6,130.3 634.2,135.1 634.7,139.3 635.2,142.7 635.7,145.2 636.2,146.8 636.7,147.5 637.2,147.3 637.7,146.4 638.2,144.9 638.7,142.8 639.2,140.0 639.7,136.8 640.3,133.2 640.8,129.2 641.3,124.9 641.8,120.4 642.3,115.8 642.8,111.1 643.3,106.5 643.8,102.0 644.3,97.7 644.8,93.8 645.3,90.4 645.8,87.6 646.4,85.4 646.9,83.9 647.4,83.4 647.9,83.7 648.4,85.0 648.9,87.2 649.4,90.3 649.9,94.3 650.4,99.1 650.9,104.6 651.4,110.7 651.9,117.3 652.5,124.0 653.0,130.9 653.5,137.6 654.0,144.0 654.5,149.9 655.0,155.2 655.5,159.7 656.0,163.3 656.5,165.9 657.0,167.5 657.5,168.1 658.1,167.6 658.6,166.1 659.1,163.6 659.6,160.2 660.1,155.9 660.6,150.7 661.1,144.8 661.6,138.2 662.1,131.0 662.6,123.4 663.1,115.5 663.6,107.4 664.2,99.2 664.7,91.1 665.2,83.3 665.7,76.0 666.2,69.2 666.7,63.2 667.2,58.2 667.7,54.2 668.2,51.4 668.7,50.0 669.2,50.0 669.7,51.5 670.3,54.4 670.8,58.8 671.3,64.5 671.8,71.6 672.3,79.8 672.8,89.0 673.3,99.1 673.8,109.7 674.3,120.8 674.8,131.9 675.3,143.0 675.8,153.8 676.4,163.9 676.9,173.2 677.4,181.5 677.9,188.6 678.4,194.2 678.9,198.3 679.4,200.7 679.9,201.4 680.4,200.3 680.9,197.5 681.4,193.0 682.0,186.7 682.5,178.9 683.0,169.7 683.5,159.3 684.0,147.8 684.5,135.5 685.0,122.7 685.5,109.7 686.0,96.8 686.5,84.3 687.0,72.4 687.5,61.4 688.1,51.6 688.6,43.3 689.1,36.5 689.6,31.5 690.1,28.4 690.6,27.2 691.1,27.9 691.6,30.6 692.1,35.0 692.6,41.2 693.1,48.9 693.6,58.2 694.2,68.6 694.7,80.1 695.2,92.4 695.7,105.3 696.2,118.5 696.7,131.7 697.2,144.7 697.7,157.3 698.2,169.1 698.7,179.9 699.2,189.6 699.7,197.9 700.3,204.7 700.8,209.8 701.3,213.1 701.8,214.6 702.3,214.2 702.8,212.0 703.3,208.0 703.8,202.4 704.3,195.2 704.8,186.6 705.3,176.8 705.8,166.0 706.4,154.3 706.9,142.0 707.4,129.4 707.9,116.6 708.4,103.9 708.9,91.5 709.4,79.6 709.9,68.5 710.4,58.3 710.9,49.4 711.4,41.8 712.0,35.8 712.5,31.4 713.0,28.8 713.5,28.1 714.0,29.4 714.5,32.8 715.0,38.1 715.5,45.4 716.0,54.4 716.5,64.8 717.0,76.6 717.5,89.2 718.1,102.4 718.6,115.9 719.1,129.2 719.6,142.1 720.1,154.1 720.6,165.1 721.1,174.7 721.6,182.8 722.1,189.2 722.6,193.8 723.1,196.6 723.6,197.6 724.2,196.8 724.7,194.4 725.2,190.4 725.7,184.9 726.2,178.0 726.7,170.1 727.2,161.2 727.7,151.7 728.2,141.6 728.7,131.2 729.2,120.7 729.7,110.4 730.3,100.4 730.8,91.0 731.3,82.3 731.8,74.4 732.3,67.6 732.8,61.9 733.3,57.5 733.8,54.3 734.3,52.6 734.8,52.2 735.3,53.2 735.9,55.7 736.4,59.4 736.9,64.4 737.4,70.5 737.9,77.5 738.4,85.4 738.9,94.0 739.4,103.0 739.9,112.3 740.4,121.7 740.9,130.9 741.4,139.9 742.0,148.3 742.5,156.1 743.0,163.0 743.5,169.0 744.0,173.9 744.5,177.6 745.0,180.1 745.5,181.2 746.0,181.1 746.5,179.6 747.0,176.9 747.5,172.9 748.1,167.8 748.6,161.7 749.1,154.7 749.6,146.9 750.1,138.6 750.6,129.9 751.1,120.9 751.6,112.0 752.1,103.3 752.6,95.0 753.1,87.3 753.6,80.2 754.2,74.1 754.7,69.0 755.2,64.9 755.7,62.1 756.2,60.4 756.7,60.0 757.2,60.8 757.7,62.8 758.2,65.9 758.7,70.1 759.2,75.2 759.8,81.1 760.3,87.6 760.8,94.7 761.3,102.1 761.8,109.6 762.3,117.2 762.8,124.7 763.3,131.9 763.8,138.7 764.3,145.0 764.8,150.7 765.3,155.6 765.9,159.8 766.4,163.2 766.9,165.7 767.4,167.2 767.9,167.9 768.4,167.7 768.9,166.6 769.4,164.5 769.9,161.7 770.4,158.2 770.9,154.0 771.4,149.3 772.0,144.2 772.5,138.8 773.0,133.1 773.5,127.4 774.0,121.7 774.5,116.2 775.0,110.8 775.5,105.7 776.0,101.0 776.5,96.8 777.0,93.0 777.5,89.8 778.1,87.1 778.6,85.0 779.1,83.5 779.6,82.7 780.1,82.5 780.6,83.0 781.1,84.1 781.6,85.9 782.1,88.3" stroke="#000" stroke-width="2.4"/>
<path d="M553.3,81.3 553.8,86.6 554.3,92.9 554.8,100.0 555.3,107.7 555.8,115.8 556.4,124.2 556.9,132.6 557.4,140.7 557.9,148.4 558.4,155.4 558.9,161.6 559.4,166.7 559.9,170.7 560.4,173.4 560.9,174.8 561.4,174.9 561.9,173.8 562.5,171.4 563.0,167.9 563.5,163.4 564.0,157.9 564.5,151.6 565.0,144.6 565.5,137.0 566.0,129.0 566.5,120.8 567.0,112.4 567.5,104.2 568.0,96.2 568.6,88.6 569.1,81.6 569.6,75.4 570.1,70.0 570.6,65.7 571.1,62.5 571.6,60.6 572.1,60.0 572.6,60.9 573.1,63.3 573.6,67.2 574.1,72.5 574.7,79.0 575.2,86.7 575.7,95.2 576.2,104.3 576.7,113.7 577.2,123.2 577.7,132.3 578.2,140.9 578.7,148.7 579.2,155.5 579.7,161.2 580.3,165.7 580.8,169.0 581.3,171.1 581.8,171.9 582.3,171.7 582.8,170.4 583.3,168.3 583.8,165.3 584.3,161.7 584.8,157.4 585.3,152.7 585.8,147.5 586.4,142.1 586.9,136.4 587.4,130.6 587.9,124.7 588.4,118.8 588.9,113.0 589.4,107.4 589.9,102.0 590.4,96.8 590.9,92.1 591.4,87.7 591.9,83.9 592.5,80.7 593.0,78.1 593.5,76.2 594.0,75.2 594.5,74.9 595.0,75.6 595.5,77.3 596.0,79.9 596.5,83.4 597.0,87.8 597.5,93.0 598.0,98.7 598.6,104.8 599.1,111.2 599.6,117.7 600.1,124.0 600.6,130.1 601.1,135.6 601.6,140.6 602.1,144.9 602.6,148.4 603.1,151.0 603.6,152.8 604.1,153.7 604.7,153.8 605.2,153.0 605.7,151.5 606.2,149.3 606.7,146.4 607.2,142.9 607.7,139.0 608.2,134.7 608.7,130.1 609.2,125.3 609.7,120.5 610.3,115.6 610.8,110.9 611.3,106.4 611.8,102.2 612.3,98.3 612.8,95.0 613.3,92.2 613.8,90.1 614.3,88.8 614.8,88.2 615.3,88.4 615.8,89.6 616.4,91.7 616.9,94.7 617.4,98.6 617.9,103.3 618.4,108.5 618.9,114.2 619.4,120.1 619.9,126.0 620.4,131.8 620.9,137.1 621.4,141.8 621.9,145.7 622.5,148.8 623.0,150.9 623.5,152.0 624.0,152.2 624.5,151.5 625.0,150.0 625.5,147.6 626.0,144.5 626.5,140.7 627.0,136.2 627.5,131.2 628.0,125.7 628.6,119.9 629.1,113.8 629.6,107.7 630.1,101.7 630.6,95.9 631.1,90.4 631.6,85.6 632.1,81.4 632.6,78.1 633.1,75.6 633.6,74.2 634.2,73.9 634.7,74.7 635.2,76.5 635.7,79.3 636.2,83.1 636.7,87.8 637.2,93.3 637.7,99.4 638.2,106.1 638.7,113.3 639.2,120.7 639.7,128.2 640.3,135.8 640.8,143.1 641.3,150.1 641.8,156.7 642.3,162.6 642.8,167.7 643.3,172.0 643.8,175.2 644.3,177.4 644.8,178.3 645.3,178.0 645.8,176.5 646.4,173.7 646.9,169.6 647.4,164.5 647.9,158.2 648.4,150.9 648.9,142.8 649.4,133.9 649.9,124.5 650.4,114.8 650.9,104.9 651.4,95.0 651.9,85.4 652.5,76.3 653.0,67.9 653.5,60.5 654.0,54.2 654.5,49.3 655.0,45.8 655.5,44.0 656.0,43.8 656.5,45.5 657.0,49.0 657.5,54.2 658.1,61.2 658.6,69.8 659.1,79.8 659.6,91.0 660.1,103.1 660.6,115.8 661.1,128.7 661.6,141.6 662.1,154.0 662.6,165.7 663.1,176.3 663.6,185.6 664.2,193.3 664.7,199.3 665.2,203.5 665.7,205.9 666.2,206.3 666.7,204.9 667.2,201.8 667.7,197.0 668.2,190.7 668.7,183.0 669.2,174.0 669.7,164.0 670.3,153.1 670.8,141.5 671.3,129.4 671.8,117.1 672.3,104.7 672.8,92.5 673.3,80.6 673.8,69.4 674.3,59.0 674.8,49.7 675.3,41.5 675.8,34.8 676.4,29.7 676.9,26.3 677.4,24.8 677.9,25.2 678.4,27.5 678.9,31.7 679.4,37.7 679.9,45.5 680.4,54.9 680.9,65.6 681.4,77.5 682.0,90.4 682.5,103.9 683.0,117.7 683.5,131.6 684.0,145.2 684.5,158.2 685.0,170.4 685.5,181.4 686.0,191.1 686.5,199.2 687.0,205.6 687.5,210.0 688.1,212.6 688.6,213.1 689.1,211.6 689.6,208.2 690.1,202.9 690.6,195.8 691.1,187.2 691.6,177.1 692.1,165.8 692.6,153.6 693.1,140.7 693.6,127.5 694.2,114.0 694.7,100.8 695.2,88.0 695.7,75.9 696.2,64.8 696.7,54.9 697.2,46.4 697.7,39.5 698.2,34.3 698.7,30.9 699.2,29.4 699.7,29.9 700.3,32.3 700.8,36.6 701.3,42.6 701.8,50.3 702.3,59.3 702.8,69.6 703.3,80.8 703.8,92.7 704.3,105.1 704.8,117.5 705.3,129.9 705.8,141.8 706.4,153.1 706.9,163.6 707.4,172.9 707.9,181.0 708.4,187.6 708.9,192.7 709.4,196.3 709.9,198.1 710.4,198.3 710.9,196.9 711.4,193.8 712.0,189.3 712.5,183.3 713.0,176.0 713.5,167.6 714.0,158.3 714.5,148.3 715.0,137.8 715.5,127.0 716.0,116.2 716.5,105.5 717.0,95.2 717.5,85.6 718.1,76.8 718.6,68.9 719.1,62.2 719.6,56.8 720.1,52.8 720.6,50.2 721.1,49.1 721.6,49.5 722.1,51.4 722.6,54.8 723.1,59.5 723.6,65.4 724.2,72.3 724.7,80.2 725.2,88.8 725.7,98.0 726.2,107.4 726.7,117.0 727.2,126.4 727.7,135.6 728.2,144.3 728.7,152.3 729.2,159.6 729.7,165.9 730.3,171.2 730.8,175.3 731.3,178.2 731.8,179.9 732.3,180.3 732.8,179.4 733.3,177.3 733.8,174.0 734.3,169.6 734.8,164.1 735.3,157.7 735.9,150.5 736.4,142.7 736.9,134.4 737.4,125.9 737.9,117.2 738.4,108.6 738.9,100.3 739.4,92.4 739.9,85.1 740.4,78.6 740.9,73.0 741.4,68.4 742.0,64.9 742.5,62.7 743.0,61.6 743.5,61.9 744.0,63.4 744.5,66.0 745.0,69.9 745.5,74.7 746.0,80.5 746.5,87.0 747.0,94.0 747.5,101.5 748.1,109.3 748.6,117.1 749.1,124.8 749.6,132.2 750.1,139.1 750.6,145.5 751.1,151.2 751.6,156.1 752.1,160.1 752.6,163.2 753.1,165.2 753.6,166.3 754.2,166.3 754.7,165.4 755.2,163.6 755.7,160.8 756.2,157.3 756.7,153.2 757.2,148.4 757.7,143.2 758.2,137.6 758.7,131.7 759.2,125.8 759.8,119.8 760.3,114.0 760.8,108.4 761.3,103.1 761.8,98.4 762.3,94.2 762.8,90.7 763.3,87.9 763.8,86.0 764.3,84.9 764.8,84.7 765.3,85.4 765.9,87.1 766.4,89.9 766.9,93.5 767.4,97.8 767.9,102.6 768.4,107.6 768.9,112.5 769.4,117.1 769.9,121.2 770.4,124.7 770.9,127.5 771.4,129.6 772.0,131.0 772.5,131.9 773.0,132.3 773.5,132.5 774.0,132.5 774.5,132.5 775.0,132.4 775.5,132.1 776.0,131.7 776.5,131.1 777.0,130.3 777.5,129.4 778.1,128.5 778.6,127.4 779.1,126.3 779.6,125.1 780.1,123.9 780.6,122.6 781.1,121.3 781.6,119.9 782.1,118.6" stroke="#d62728" stroke-width="2.08"/>
<path d="M553.3,159.3 553.8,159.7 554.3,159.3 554.8,157.9 555.3,155.7 555.8,152.6 556.4,148.7 556.9,144.1 557.4,138.8 557.9,132.9 558.4,126.7 558.9,120.2 559.4,113.5 559.9,106.9 560.4,100.4 560.9,94.2 561.4,88.5 561.9,83.4 562.5,79.0 563.0,75.6 563.5,73.0 564.0,71.5 564.5,71.2 565.0,71.9 565.5,73.9 566.0,77.0 566.5,81.3 567.0,86.6 567.5,92.9 568.0,100.0 568.6,107.7 569.1,115.8 569.6,124.2 570.1,132.6 570.6,140.7 571.1,148.4 571.6,155.4 572.1,161.6 572.6,166.7 573.1,170.7 573.6,173.4 574.1,174.8 574.7,174.9 575.2,173.8 575.7,171.4 576.2,167.9 576.7,163.4 577.2,157.9 577.7,151.6 578.2,144.6 578.7,137.0 579.2,129.0 579.7,120.8 580.3,112.4 580.8,104.2 581.3,96.2 581.8,88.6 582.3,81.6 582.8,75.4 583.3,70.0 583.8,65.7 584.3,62.5 584.8,60.6 585.3,60.0 585.8,60.9 586.4,63.3 586.9,67.2 587.4,72.5 587.9,79.0 588.4,86.7 588.9,95.2 589.4,104.3 589.9,113.7 590.4,123.2 590.9,132.3 591.4,140.9 591.9,148.7 592.5,155.5 593.0,161.2 593.5,165.7 594.0,169.0 594.5,171.1 595.0,171.9 595.5,171.7 596.0,170.4 596.5,168.3 597.0,165.3 597.5,161.7 598.0,157.4 598.6,152.7 599.1,147.5 599.6,142.1 600.1,136.4 600.6,130.6 601.1,124.7 601.6,118.8 602.1,113.0 602.6,107.4 603.1,102.0 603.6,96.8 604.1,92.1 604.7,87.7 605.2,83.9 605.7,80.7 606.2,78.1 606.7,76.2 607.2,75.2 607.7,74.9 608.2,75.6 608.7,77.3 609.2,79.9 609.7,83.4 610.3,87.8 610.8,93.0 611.3,98.7 611.8,104.8 612.3,111.2 612.8,117.7 613.3,124.0 613.8,130.1 614.3,135.6 614.8,140.6 615.3,144.9 615.8,148.4 616.4,151.0 616.9,152.8 617.4,153.7 617.9,153.8 618.4,153.0 618.9,151.5 619.4,149.3 619.9,146.4 620.4,142.9 620.9,139.0 621.4,134.7 621.9,130.1 622.5,125.3 623.0,120.5 623.5,115.6 624.0,110.9 624.5,106.4 625.0,102.2 625.5,98.3 626.0,95.0 626.5,92.2 627.0,90.1 627.5,88.8 628.0,88.2 628.6,88.4 629.1,89.6 629.6,91.7 630.1,94.7 630.6,98.6 631.1,103.3 631.6,108.5 632.1,114.2 632.6,120.1 633.1,126.0 633.6,131.8 634.2,137.1 634.7,141.8 635.2,145.7 635.7,148.8 636.2,150.9 636.7,152.0 637.2,152.2 637.7,151.5 638.2,150.0 638.7,147.6 639.2,144.5 639.7,140.7 640.3,136.2 640.8,131.2 641.3,125.7 641.8,119.9 642.3,113.8 642.8,107.7 643.3,101.7 643.8,95.9 644.3,90.4 644.8,85.6 645.3,81.4 645.8,78.1 646.4,75.6 646.9,74.2 647.4,73.9 647.9,74.7 648.4,76.5 648.9,79.3 649.4,83.1 649.9,87.8 650.4,93.3 650.9,99.4 651.4,106.1 651.9,113.3 652.5,120.7 653.0,128.2 653.5,135.8 654.0,143.1 654.5,150.1 655.0,156.7 655.5,162.6 656.0,167.7 656.5,172.0 657.0,175.2 657.5,177.4 658.1,178.3 658.6,178.0 659.1,176.5 659.6,173.7 660.1,169.6 660.6,164.5 661.1,158.2 661.6,150.9 662.1,142.8 662.6,133.9 663.1,124.5 663.6,114.8 664.2,104.9 664.7,95.0 665.2,85.4 665.7,76.3 666.2,67.9 666.7,60.5 667.2,54.2 667.7,49.3 668.2,45.8 668.7,44.0 669.2,43.8 669.7,45.5 670.3,49.0 670.8,54.2 671.3,61.2 671.8,69.8 672.3,79.8 672.8,91.0 673.3,103.1 673.8,115.8 674.3,128.7 674.8,141.6 675.3,154.0 675.8,165.7 676.4,176.3 676.9,185.6 677.4,193.3 677.9,199.3 678.4,203.5 678.9,205.9 679.4,206.3 679.9,204.9 680.4,201.8 680.9,197.0 681.4,190.7 682.0,183.0 682.5,174.0 683.0,164.0 683.5,153.1 684.0,141.5 684.5,129.4 685.0,117.1 685.5,104.7 686.0,92.5 686.5,80.6 687.0,69.4 687.5,59.0 688.1,49.7 688.6,41.5 689.1,34.8 689.6,29.7 690.1,26.3 690.6,24.8 691.1,25.2 691.6,27.5 692.1,31.7 692.6,37.7 693.1,45.5 693.6,54.9 694.2,65.6 694.7,77.5 695.2,90.4 695.7,103.9 696.2,117.7 696.7,131.6 697.2,145.2 697.7,158.2 698.2,170.4 698.7,181.4 699.2,191.1 699.7,199.2 700.3,205.6 700.8,210.0 701.3,212.6 701.8,213.1 702.3,211.6 702.8,208.2 703.3,202.9 703.8,195.8 704.3,187.2 704.8,177.1 705.3,165.8 705.8,153.6 706.4,140.7 706.9,127.5 707.4,114.0 707.9,100.8 708.4,88.0 708.9,75.9 709.4,64.8 709.9,54.9 710.4,46.4 710.9,39.5 711.4,34.3 712.0,30.9 712.5,29.4 713.0,29.9 713.5,32.3 714.0,36.6 714.5,42.6 715.0,50.3 715.5,59.3 716.0,69.6 716.5,80.8 717.0,92.7 717.5,105.1 718.1,117.5 718.6,129.9 719.1,141.8 719.6,153.1 720.1,163.6 720.6,172.9 721.1,181.0 721.6,187.6 722.1,192.7 722.6,196.3 723.1,198.1 723.6,198.3 724.2,196.9 724.7,193.8 725.2,189.3 725.7,183.3 726.2,176.0 726.7,167.6 727.2,158.3 727.7,148.3 728.2,137.8 728.7,127.0 729.2,116.2 729.7,105.5 730.3,95.2 730.8,85.6 731.3,76.8 731.8,68.9 732.3,62.2 732.8,56.8 733.3,52.8 733.8,50.2 734.3,49.1 734.8,49.5 735.3,51.4 735.9,54.8 736.4,59.5 736.9,65.4 737.4,72.3 737.9,80.2 738.4,88.8 738.9,98.0 739.4,107.4 739.9,117.0 740.4,126.4 740.9,135.6 741.4,144.3 742.0,152.3 742.5,159.6 743.0,165.9 743.5,171.2 744.0,175.3 744.5,178.2 745.0,179.9 745.5,180.3 746.0,179.4 746.5,177.3 747.0,174.0 747.5,169.6 748.1,164.1 748.6,157.7 749.1,150.5 749.6,142.7 750.1,134.4 750.6,125.9 751.1,117.2 751.6,108.6 752.1,100.3 752.6,92.4 753.1,85.1 753.6,78.6 754.2,73.0 754.7,68.4 755.2,64.9 755.7,62.7 756.2,61.6 756.7,61.9 757.2,63.4 757.7,66.0 758.2,69.9 758.7,74.7 759.2,80.5 759.8,87.0 760.3,94.0 760.8,101.5 761.3,109.3 761.8,117.1 762.3,124.8 762.8,132.2 763.3,139.1 763.8,145.5 764.3,151.2 764.8,156.1 765.3,160.1 765.9,163.2 766.4,165.2 766.9,166.3 767.4,166.3 767.9,165.4 768.4,163.6 768.9,160.8 769.4,157.3 769.9,153.2 770.4,148.4 770.9,143.2 771.4,137.6 772.0,131.7 772.5,125.8 773.0,119.8 773.5,114.0 774.0,108.4 774.5,103.1 775.0,98.4 775.5,94.2 776.0,90.7 776.5,87.9 777.0,86.0 777.5,84.9 778.1,84.7 778.6,85.4 779.1,87.1 779.6,89.9 780.1,93.5 780.6,97.8 781.1,102.6 781.6,107.6 782.1,112.5" stroke="#1f77b4" stroke-width="2.08" stroke-dasharray="7.7 3.33"/>
</g>
<rect x="150.7" y="15.5" width="58.75" height="206.85" fill="none" stroke="#000" stroke-width="1.1"/>
<line x1="33.2" y1="222.35" x2="490.16" y2="222.35" stroke="#000" stroke-width="1.1" stroke-linecap="square"/>
<line x1="33.2" y1="222.35" x2="33.2" y2="227.21" stroke="#000" stroke-width="1.1"/>
<text x="33.2" y="242.5" font-size="13.89" text-anchor="middle">1935</text>
<line x1="98.48" y1="222.35" x2="98.48" y2="227.21" stroke="#000" stroke-width="1.1"/>
<text x="98.48" y="242.5" font-size="13.89" text-anchor="middle">1940</text>
<line x1="163.76" y1="222.35" x2="163.76" y2="227.21" stroke="#000" stroke-width="1.1"/>
<text x="163.76" y="242.5" font-size="13.89" text-anchor="middle">1945</text>
<line x1="229.04" y1="222.35" x2="229.04" y2="227.21" stroke="#000" stroke-width="1.1"/>
<text x="229.04" y="242.5" font-size="13.89" text-anchor="middle">1950</text>
<line x1="294.32" y1="222.35" x2="294.32" y2="227.21" stroke="#000" stroke-width="1.1"/>
<text x="294.32" y="242.5" font-size="13.89" text-anchor="middle">1955</text>
<line x1="359.6" y1="222.35" x2="359.6" y2="227.21" stroke="#000" stroke-width="1.1"/>
<text x="359.6" y="242.5" font-size="13.89" text-anchor="middle">1960</text>
<line x1="424.88" y1="222.35" x2="424.88" y2="227.21" stroke="#000" stroke-width="1.1"/>
<text x="424.88" y="242.5" font-size="13.89" text-anchor="middle">1965</text>
<line x1="490.16" y1="222.35" x2="490.16" y2="227.21" stroke="#000" stroke-width="1.1"/>
<text x="490.16" y="242.5" font-size="13.89" text-anchor="middle">1970</text>
<text x="261.6" y="260.75" font-size="13.89" text-anchor="middle">time after origin (s)</text>
<line x1="553.3" y1="222.35" x2="782.12" y2="222.35" stroke="#000" stroke-width="1.1" stroke-linecap="square"/>
<line x1="553.3" y1="222.35" x2="553.3" y2="227.21" stroke="#000" stroke-width="1.1"/>
<text x="553.3" y="242.5" font-size="13.89" text-anchor="middle">1944</text>
<line x1="604.15" y1="222.35" x2="604.15" y2="227.21" stroke="#000" stroke-width="1.1"/>
<text x="604.15" y="242.5" font-size="13.89" text-anchor="middle">1945</text>
<line x1="655" y1="222.35" x2="655" y2="227.21" stroke="#000" stroke-width="1.1"/>
<text x="655" y="242.5" font-size="13.89" text-anchor="middle">1946</text>
<line x1="705.85" y1="222.35" x2="705.85" y2="227.21" stroke="#000" stroke-width="1.1"/>
<text x="705.85" y="242.5" font-size="13.89" text-anchor="middle">1947</text>
<line x1="756.7" y1="222.35" x2="756.7" y2="227.21" stroke="#000" stroke-width="1.1"/>
<text x="756.7" y="242.5" font-size="13.89" text-anchor="middle">1948</text>
<text x="667.7" y="260.75" font-size="13.89" text-anchor="middle">time after origin (s)</text>
<text x="72.75" y="43.75" font-size="13.89" text-anchor="start">CC = 0.92</text>
<text x="0.35" y="14.3" font-size="19.44" text-anchor="start">A</text>
<line x1="410.4" y1="20.6" x2="439.7" y2="20.6" stroke="#000" stroke-width="2.7"/>
<line x1="410.4" y1="40.95" x2="439.7" y2="40.95" stroke="#d62728" stroke-width="2.08"/>
<text x="450.7" y="25.5" font-size="13.89" text-anchor="start">21 October 2006</text>
<text x="450.7" y="45.8" font-size="13.89" text-anchor="start">3 March 2008</text>
<line x1="410.5" y1="197" x2="439.6" y2="197" stroke="#1f77b4" stroke-width="2.08" stroke-dasharray="7.7 3.33"/>
<text x="450.7" y="192.5" font-size="13.89" text-anchor="start">3 March 2008</text>
<text x="450.7" y="208" font-size="13.89" text-anchor="start">(shifted by 0.26 s)</text>
<rect x="140.5" y="319.4" width="280" height="163" fill="#fff5f0"/>
<g clip-path="url(#clipB)">
<rect x="149.53" y="319.4" width="108.84" height="163" fill="url(#pb1)"/>
<rect x="258.37" y="319.4" width="70.9" height="163" fill="url(#pb2)"/>
<rect x="329.27" y="319.4" width="78.4" height="163" fill="url(#pb3)"/>
<rect x="407.67" y="319.4" width="6.95" height="163" fill="url(#bfade)"/>
<path d="M149.7,320.8 150.3,352.0 151.5,381.9 153.1,403.6 155.0,417.2" fill="none" stroke="#a50f15" stroke-width="2.6" filter="url(#bl1)" opacity=".95"/>
<path d="M155.0,417.2 157.2,425.3 159.5,430.8" fill="none" stroke="#cb181d" stroke-width="2" filter="url(#bl1)" opacity=".8"/>
<line x1="258.19" y1="319.4" x2="258.19" y2="409.05" stroke="#fff5f0" stroke-width="1.2" opacity=".6"/>
<path d="M257.6,398.2 257.6,417.2" fill="none" stroke="#cb181d" stroke-width="1.6" filter="url(#bl1)" opacity=".85"/>
<line x1="325.21" y1="379.17" x2="325.21" y2="400.9" stroke="#7a0510" stroke-width="2.4" opacity="0.55" filter="url(#bl1)"/>
<line x1="326.75" y1="373.73" x2="326.75" y2="390.03" stroke="#7a0510" stroke-width="2.4" opacity="0.95" filter="url(#bl1)"/>
<line x1="328.01" y1="373.73" x2="328.01" y2="387.32" stroke="#7a0510" stroke-width="2.4" opacity="0.8" filter="url(#bl1)"/>
<line x1="329.45" y1="376.45" x2="329.45" y2="395.47" stroke="#7a0510" stroke-width="2.4" opacity="0.95" filter="url(#bl1)"/>
<line x1="331.26" y1="381.88" x2="331.26" y2="400.9" stroke="#7a0510" stroke-width="2.4" opacity="0.95" filter="url(#bl1)"/>
<line x1="333.43" y1="387.32" x2="333.43" y2="404.97" stroke="#7a0510" stroke-width="2.4" opacity="0.75" filter="url(#bl1)"/>
<line x1="335.6" y1="394.11" x2="335.6" y2="404.97" stroke="#7a0510" stroke-width="2.4" opacity="0.45" filter="url(#bl1)"/>
<line x1="337.85" y1="396.82" x2="337.85" y2="404.97" stroke="#7a0510" stroke-width="2.4" opacity="0.35" filter="url(#bl1)"/>
<line x1="339.57" y1="400.9" x2="339.57" y2="413.12" stroke="#7a0510" stroke-width="2.4" opacity="0.5" filter="url(#bl1)"/>
<line x1="326.38" y1="319.4" x2="326.38" y2="379.17" stroke="#fff5f0" stroke-width="1.3" opacity="0.75"/>
<line x1="329.27" y1="319.4" x2="329.27" y2="376.45" stroke="#fff5f0" stroke-width="2" opacity="0.5"/>
<line x1="333.79" y1="319.4" x2="333.79" y2="379.17" stroke="#fff5f0" stroke-width="1.5" opacity="0.6"/>
<line x1="336.95" y1="319.4" x2="336.95" y2="384.6" stroke="#fff5f0" stroke-width="2.5" opacity="0.4"/>
<line x1="341.47" y1="319.4" x2="341.47" y2="400.9" stroke="#fff5f0" stroke-width="1.5" opacity="0.5"/>
<path d="M407.0,362.9 407.1,391.4" fill="none" stroke="#a50f15" stroke-width="2.2" filter="url(#bl1)" opacity=".95"/>
<path d="M408.6,327.5 408.4,362.9" fill="none" stroke="#ef3b2c" stroke-width="2" filter="url(#bl1)" opacity=".7"/>
<line x1="349.32" y1="319.4" x2="349.32" y2="447.08" stroke="#fff5f0" stroke-width="0.8" opacity="0.46"/>
<line x1="363.55" y1="319.4" x2="363.55" y2="447.08" stroke="#fff5f0" stroke-width="1" opacity="0.26"/>
<line x1="349.05" y1="319.4" x2="349.05" y2="447.08" stroke="#fff5f0" stroke-width="1.3" opacity="0.26"/>
<line x1="386.35" y1="319.4" x2="386.35" y2="447.08" stroke="#fff5f0" stroke-width="0.8" opacity="0.47"/>
<line x1="368.76" y1="319.4" x2="368.76" y2="447.08" stroke="#fff5f0" stroke-width="1.3" opacity="0.42"/>
<line x1="400.5" y1="319.4" x2="400.5" y2="447.08" stroke="#fff5f0" stroke-width="1" opacity="0.24"/>
<line x1="401.72" y1="319.4" x2="401.72" y2="447.08" stroke="#fff5f0" stroke-width="0.8" opacity="0.26"/>
<line x1="381.51" y1="319.4" x2="381.51" y2="447.08" stroke="#fff5f0" stroke-width="0.8" opacity="0.53"/>
<line x1="355.32" y1="319.4" x2="355.32" y2="447.08" stroke="#fff5f0" stroke-width="1.3" opacity="0.47"/>
<line x1="352.81" y1="319.4" x2="352.81" y2="447.08" stroke="#fff5f0" stroke-width="0.8" opacity="0.36"/>
<line x1="366.58" y1="319.4" x2="366.58" y2="447.08" stroke="#fff5f0" stroke-width="0.8" opacity="0.23"/>
<line x1="357.21" y1="319.4" x2="357.21" y2="447.08" stroke="#fff5f0" stroke-width="0.8" opacity="0.35"/>
<line x1="403.05" y1="319.4" x2="403.05" y2="447.08" stroke="#fff5f0" stroke-width="1" opacity="0.29"/>
<line x1="396.09" y1="319.4" x2="396.09" y2="447.08" stroke="#fff5f0" stroke-width="0.8" opacity="0.46"/>
<line x1="379.8" y1="319.4" x2="379.8" y2="447.08" stroke="#fff5f0" stroke-width="1" opacity="0.26"/>
<line x1="366.31" y1="319.4" x2="366.31" y2="447.08" stroke="#fff5f0" stroke-width="0.8" opacity="0.41"/>
<line x1="371.24" y1="319.4" x2="371.24" y2="447.08" stroke="#fff5f0" stroke-width="1" opacity="0.32"/>
<line x1="400.3" y1="319.4" x2="400.3" y2="447.08" stroke="#fff5f0" stroke-width="1.3" opacity="0.22"/>
<line x1="375.58" y1="319.4" x2="375.58" y2="447.08" stroke="#fff5f0" stroke-width="1.3" opacity="0.4"/>
<line x1="369.52" y1="319.4" x2="369.52" y2="447.08" stroke="#fff5f0" stroke-width="1" opacity="0.42"/>
<line x1="392.64" y1="319.4" x2="392.64" y2="447.08" stroke="#fff5f0" stroke-width="1.3" opacity="0.42"/>
<line x1="403.31" y1="319.4" x2="403.31" y2="447.08" stroke="#fff5f0" stroke-width="0.8" opacity="0.42"/>
<line x1="381.03" y1="319.4" x2="381.03" y2="447.08" stroke="#fff5f0" stroke-width="1.3" opacity="0.24"/>
<line x1="353.45" y1="319.4" x2="353.45" y2="447.08" stroke="#fff5f0" stroke-width="1" opacity="0.33"/>
<line x1="373.64" y1="319.4" x2="373.64" y2="447.08" stroke="#fff5f0" stroke-width="0.8" opacity="0.49"/>
<line x1="377.34" y1="319.4" x2="377.34" y2="447.08" stroke="#fff5f0" stroke-width="1.3" opacity="0.17"/>
<line x1="390.19" y1="319.4" x2="390.19" y2="447.08" stroke="#fff5f0" stroke-width="0.8" opacity="0.34"/>
<line x1="386.54" y1="319.4" x2="386.54" y2="447.08" stroke="#fff5f0" stroke-width="1" opacity="0.35"/>
<line x1="392.89" y1="319.4" x2="392.89" y2="447.08" stroke="#fff5f0" stroke-width="1" opacity="0.53"/>
<line x1="372.15" y1="319.4" x2="372.15" y2="447.08" stroke="#fff5f0" stroke-width="1.3" opacity="0.46"/>
<line x1="372.84" y1="319.4" x2="372.84" y2="447.08" stroke="#fff5f0" stroke-width="1.3" opacity="0.19"/>
<line x1="392.43" y1="319.4" x2="392.43" y2="447.08" stroke="#fff5f0" stroke-width="1" opacity="0.5"/>
<line x1="398.44" y1="319.4" x2="398.44" y2="447.08" stroke="#fff5f0" stroke-width="1" opacity="0.26"/>
<line x1="347.13" y1="319.4" x2="347.13" y2="447.08" stroke="#fff5f0" stroke-width="1" opacity="0.5"/>
<line x1="275.37" y1="319.4" x2="275.37" y2="452.52" stroke="#fff5f0" stroke-width="1" opacity="0.25"/>
<line x1="305.98" y1="319.4" x2="305.98" y2="452.52" stroke="#fff5f0" stroke-width="0.8" opacity="0.24"/>
<line x1="265.01" y1="319.4" x2="265.01" y2="452.52" stroke="#fff5f0" stroke-width="1" opacity="0.31"/>
<line x1="290.61" y1="319.4" x2="290.61" y2="452.52" stroke="#fff5f0" stroke-width="0.8" opacity="0.48"/>
<line x1="306.67" y1="319.4" x2="306.67" y2="452.52" stroke="#fff5f0" stroke-width="1" opacity="0.45"/>
<line x1="293.09" y1="319.4" x2="293.09" y2="452.52" stroke="#fff5f0" stroke-width="1" opacity="0.25"/>
<line x1="320.04" y1="319.4" x2="320.04" y2="452.52" stroke="#fff5f0" stroke-width="1.3" opacity="0.26"/>
<line x1="313.01" y1="319.4" x2="313.01" y2="452.52" stroke="#fff5f0" stroke-width="1" opacity="0.48"/>
<line x1="275.2" y1="319.4" x2="275.2" y2="452.52" stroke="#fff5f0" stroke-width="1" opacity="0.4"/>
<line x1="311.09" y1="319.4" x2="311.09" y2="452.52" stroke="#fff5f0" stroke-width="1.3" opacity="0.36"/>
<line x1="271.35" y1="319.4" x2="271.35" y2="452.52" stroke="#fff5f0" stroke-width="1.3" opacity="0.43"/>
<line x1="291.49" y1="319.4" x2="291.49" y2="452.52" stroke="#fff5f0" stroke-width="1.3" opacity="0.27"/>
<line x1="311.02" y1="319.4" x2="311.02" y2="452.52" stroke="#fff5f0" stroke-width="1" opacity="0.49"/>
<line x1="271.32" y1="319.4" x2="271.32" y2="452.52" stroke="#fff5f0" stroke-width="1" opacity="0.46"/>
</g>
<polygon points="140.5,366.7 143.9,366.7 144.1,350.9 144.8,350.9 145.0,362.9 146.1,362.9 146.3,366.7 147.5,366.7 147.7,360.1 148.4,360.1 148.6,324.0 149.5,324.0 149.7,346.6 150.0,362.9 151.8,388.9 153.6,416.1 154.0,404.7 155.0,404.7 155.1,420.5 157.7,420.5 157.8,411.5 159.1,411.5 159.3,419.9 160.2,425.3 160.6,465.6 161.7,465.6 163.1,452.5 164.2,443.6 165.3,448.4 166.7,455.2 168.7,459.9 168.7,459.9 170.7,459.9 170.7,465.6 171.7,465.6 171.7,465.6 172.7,465.6 172.7,465.6 173.6,465.6 173.6,459.9 175.6,459.9 175.6,459.9 177.6,459.9 177.6,459.9 178.6,459.9 178.6,459.9 179.6,459.9 179.6,459.9 181.6,459.9 181.6,465.6 182.6,465.6 182.6,459.9 186.6,459.9 186.6,459.9 188.6,459.9 188.6,459.9 192.5,459.9 192.5,465.6 193.5,465.6 193.5,459.9 194.5,459.9 194.5,459.9 195.5,459.9 195.5,459.9 201.5,459.9 201.5,465.6 204.4,465.6 204.4,459.9 207.4,459.9 207.4,459.9 208.2,459.9 208.2,459.9 210.2,459.9 210.2,465.6 212.2,465.6 212.2,465.6 214.2,465.6 214.2,465.6 215.2,465.6 215.2,465.6 216.2,465.6 216.2,465.6 219.2,465.6 219.2,465.6 220.2,465.6 220.2,465.6 221.2,465.6 221.2,465.6 225.1,465.6 225.1,459.9 225.4,459.9 225.4,459.9 227.4,459.9 227.4,459.9 228.4,459.9 228.4,459.9 232.4,459.9 232.4,459.9 233.4,459.9 233.4,459.9 234.3,459.9 234.3,459.9 235.3,459.9 235.3,459.9 236.2,459.9 236.2,459.9 236.4,454.1 237.5,454.1 237.7,459.9 252.0,459.9 252.2,454.1 253.4,454.1 254.8,441.6 256.1,428.1 257.5,416.1 258.4,416.1 259.7,428.1 261.5,440.3 263.5,454.1 281.0,454.1 281.1,448.7 285.5,448.7 285.5,448.7 291.4,448.7 291.4,448.7 292.2,448.7 292.2,448.7 308.0,448.7 309.9,444.4 310.9,438.4 311.8,438.4 313.2,448.7 314.8,454.1 316.6,459.9 318.6,459.9 319.8,454.1 321.1,441.6 323.4,419.9 325.7,400.9 327.3,388.9 328.6,388.9 329.7,398.2 331.1,400.4 332.7,405.8 338.5,405.8 339.7,416.1 341.9,427.3 344.2,443.0 345.3,448.7 351.4,448.7 351.6,443.6 379.4,443.6 379.6,438.1 381.2,438.1 381.4,443.6 397.2,443.6 399.3,452.5 400.6,459.9 402.9,459.9 403.8,438.9 405.1,411.5 407.4,384.6 410.7,355.3 414.2,329.5 420.5,329.5 420.5,482.4 140.5,482.4" fill="#d3d3d3"/>
<rect x="140.5" y="319.4" width="280" height="163" fill="none" stroke="#000" stroke-width="1.1"/>
<line x1="149.53" y1="482.4" x2="149.53" y2="487.26" stroke="#000" stroke-width="1.1"/>
<text x="149.53" y="503.3" font-size="13.89" text-anchor="middle">0</text>
<line x1="239.85" y1="482.4" x2="239.85" y2="487.26" stroke="#000" stroke-width="1.1"/>
<text x="239.85" y="503.3" font-size="13.89" text-anchor="middle">1000</text>
<line x1="330.18" y1="482.4" x2="330.18" y2="487.26" stroke="#000" stroke-width="1.1"/>
<text x="330.18" y="503.3" font-size="13.89" text-anchor="middle">2000</text>
<line x1="420.5" y1="482.4" x2="420.5" y2="487.26" stroke="#000" stroke-width="1.1"/>
<text x="420.5" y="503.3" font-size="13.89" text-anchor="middle">3000</text>
<line x1="135.64" y1="319.4" x2="140.5" y2="319.4" stroke="#000" stroke-width="1.1"/>
<text x="130.2" y="324.5" font-size="13.89" text-anchor="end">0</text>
<line x1="135.64" y1="373.73" x2="140.5" y2="373.73" stroke="#000" stroke-width="1.1"/>
<text x="130.2" y="378.83" font-size="13.89" text-anchor="end">2</text>
<line x1="135.64" y1="428.07" x2="140.5" y2="428.07" stroke="#000" stroke-width="1.1"/>
<text x="130.2" y="433.17" font-size="13.89" text-anchor="end">4</text>
<line x1="135.64" y1="482.4" x2="140.5" y2="482.4" stroke="#000" stroke-width="1.1"/>
<text x="130.2" y="487.5" font-size="13.89" text-anchor="end">6</text>
<text x="280.5" y="521.7" font-size="13.89" text-anchor="middle">distance (km)</text>
<text x="113.7" y="401" font-size="13.89" text-anchor="middle" transform="rotate(-90 113.7 401)">depth (km)</text>
<text x="280.4" y="311.2" font-size="13.89" text-anchor="middle">sensitivity kernel <tspan font-style="italic">K</tspan> (s <tspan dx="-2.1">K</tspan><tspan font-size="9.7" dy="-5.3">−1</tspan><tspan dy="5.3" font-size="9.7">&#8203;</tspan> <tspan dx="-2.1">m</tspan><tspan font-size="9.7" dy="-5.3">−2</tspan><tspan dy="5.3" font-size="9.7">&#8203;</tspan>)</text>
<text x="444.2" y="315" font-size="13.89" text-anchor="end">×10<tspan font-size="9.7" dy="-5.3">−9</tspan><tspan dy="5.3" font-size="9.7">&#8203;</tspan></text>
<text x="-1.6" y="305.3" font-size="19.44" text-anchor="start">B</text>
<rect x="436.7" y="319.4" width="8.1" height="163" fill="url(#cbB)" stroke="#000" stroke-width="1.1"/>
<line x1="444.8" y1="319.4" x2="449.66" y2="319.4" stroke="#000" stroke-width="1.1"/>
<text x="455.3" y="324.5" font-size="13.89" text-anchor="start">0.0</text>
<line x1="444.8" y1="373.73" x2="449.66" y2="373.73" stroke="#000" stroke-width="1.1"/>
<text x="455.3" y="378.83" font-size="13.89" text-anchor="start">−0.5</text>
<line x1="444.8" y1="428.07" x2="449.66" y2="428.07" stroke="#000" stroke-width="1.1"/>
<text x="455.3" y="433.17" font-size="13.89" text-anchor="start">−1.0</text>
<line x1="444.8" y1="482.4" x2="449.66" y2="482.4" stroke="#000" stroke-width="1.1"/>
<text x="455.3" y="487.5" font-size="13.89" text-anchor="start">−1.5</text>
<line x1="535.64" y1="319.4" x2="540.5" y2="319.4" stroke="#000" stroke-width="1.1"/>
<line x1="535.64" y1="373.73" x2="540.5" y2="373.73" stroke="#000" stroke-width="1.1"/>
<line x1="535.64" y1="428.07" x2="540.5" y2="428.07" stroke="#000" stroke-width="1.1"/>
<line x1="535.64" y1="482.4" x2="540.5" y2="482.4" stroke="#000" stroke-width="1.1"/>
<line x1="580.33" y1="482.4" x2="580.33" y2="487.26" stroke="#000" stroke-width="1.1"/>
<text x="580.33" y="503.3" font-size="13.89" text-anchor="middle">−0.002</text>
<line x1="660" y1="482.4" x2="660" y2="487.26" stroke="#000" stroke-width="1.1"/>
<text x="660" y="503.3" font-size="13.89" text-anchor="middle">0.000</text>
<path d="M660.0,319.6 659.2,321.1 657.0,323.1 655.0,325.1 650.0,328.1 643.8,331.4 637.5,333.4 630.0,336.4 622.5,338.4 615.0,340.1 607.5,342.6 600.0,344.4 592.5,345.9 585.0,348.1 578.8,349.6 572.5,350.9 566.2,353.1 560.0,354.6 555.0,356.4 551.2,358.4 548.0,360.9 546.5,363.9 547.5,367.1 550.0,370.1 555.0,372.6 560.0,375.6 566.2,377.6 571.2,380.1 578.8,382.6 586.2,385.9 595.0,388.9 605.0,392.1 615.0,395.6 623.8,399.4 630.0,402.6 636.2,406.4 642.0,408.9 646.2,413.1 650.0,416.9 653.0,420.1 655.0,424.4 656.5,428.9 657.2,433.9 657.5,440.1 657.0,443.1 659.0,445.6 659.5,450.1 659.8,462.6 660.0,482.1" fill="none" stroke="#1f77b4" stroke-width="2.08" stroke-linejoin="round" clip-path="url(#clipR)"/>
<rect x="540.5" y="319.4" width="119.5" height="163" fill="none" stroke="#000" stroke-width="1.1"/>
<text x="600.2" y="521.7" font-size="13.89" text-anchor="middle">range integral</text>
<text x="600.2" y="539.4" font-size="13.89" text-anchor="middle">(s <tspan dx="-2.1">K</tspan><tspan font-size="9.7" dy="-5.3">−1</tspan><tspan dy="5.3" font-size="9.7">&#8203;</tspan> <tspan dx="-2.1">m</tspan><tspan font-size="9.7" dy="-5.3">−1</tspan><tspan dy="5.3" font-size="9.7">&#8203;</tspan>)</text>
<g clip-path="url(#clip_hc1)"><foreignObject x="53" y="579" width="280" height="163"><div class="hm" style="--w:2px"><i style="background:linear-gradient(#053061 0%,#053061 1.7%,#185493 2.5%,#3885bc 3.3%,#408fc1 4.2%,#59a1ca 6.7%,#8ac0db 11.7%,#acd2e5 16.7%,#d1e5f0 25%,#e1edf3 34.2%)"></i><i style="background:linear-gradient(#053061 0%,#053061 1.7%,#185493 2.5%,#3885bc 3.3%,#408fc1 4.2%,#59a1ca 6.7%,#8ac0db 11.7%,#acd2e5 16.7%,#d1e5f0 25%,#e1edf3 34.2%)"></i><i style="background:linear-gradient(#053061 0%,#053061 1.7%,#185493 2.5%,#3885bc 3.3%,#408fc1 4.2%,#59a1ca 6.7%,#8ac0db 11.7%,#acd2e5 16.7%,#d1e5f0 25%,#deebf2 31.7%)"></i><i style="background:linear-gradient(#053061 0%,#053061 1.7%,#185493 2.5%,#3885bc 3.3%,#408fc1 4.2%,#59a1ca 6.7%,#8ac0db 11.7%,#acd2e5 16.7%,#d1e5f0 25%,#e1edf3 34.2%)"></i><i style="background:linear-gradient(#053061 0%,#053061 1.7%,#185493 2.5%,#3885bc 3.3%,#408fc1 4.2%,#59a1ca 6.7%,#6bacd1 8.3%)"></i><i style="background:linear-gradient(#053061 0%,#053061 1.7%,#195696 2.5%,#3a87bd 3.3%,#4997c5 5%,#7eb8d7 10%,#a0cce2 14.2%,#c5dfec 20.8%,#d7e8f1 26.7%,#ecf2f5 41.7%,#edf2f5 43.3%)"></i><i style="background:linear-gradient(#053061 0%,#053061 1.7%,#195696 2.5%,#3a87bd 3.3%,#4393c3 4.2%,#7bb6d6 9.2%,#98c8e0 12.5%,#c5dfec 20%,#d4e6f1 24.2%,#e9f0f4 36.7%,#f5f6f7 55%,#f5f6f7 61.7%)"></i><i style="background:linear-gradient(#053061 0%,#053061 1.7%,#195696 2.5%,#3b88be 3.3%,#59a1ca 5.8%,#90c4dd 10.8%,#bddbea 17.5%,#d5e7f1 23.3%,#eaf1f5 36.7%,#f6f7f7 53.3%,#f6f7f7 67.5%)"></i><i style="background:linear-gradient(#053061 0%,#053061 1.7%,#1a5899 2.5%,#3c8abe 3.3%,#529dc8 5%,#8dc2dc 10%,#acd2e5 14.2%,#cfe4ef 20%,#e4eef4 30%,#f7f6f6 50%,#f6f7f7 67.5%)"></i><i style="background:linear-gradient(#053061 0%,#053061 1.7%,#1b5a9c 2.5%,#3c8abe 3.3%,#569fc9 5%,#90c4dd 10%,#acd2e5 13.3%,#cfe4ef 19.2%,#e3edf3 27.5%,#f7f6f6 46.7%,#f8f4f2 52.5%,#f6f7f7 65.8%)"></i><i style="background:linear-gradient(#053061 0%,#053061 1.7%,#1b5a9c 2.5%,#3e8cbf 3.3%,#4c99c6 4.2%,#84bcd9 8.3%,#acd2e5 12.5%,#cfe4ef 18.3%,#deebf2 24.2%,#eff3f5 35.8%,#f7f5f4 45.8%,#f8f3f0 52.5%,#f6f7f7 65.8%,#f6f7f7 95%)"></i><i style="background:linear-gradient(#053061 0%,#053061 1.7%,#1c5c9f 2.5%,#3f8ec0 3.3%,#4f9bc7 4.2%,#8ac0db 8.3%,#9dcbe1 10%,#c7e0ed 15.8%,#d4e6f1 18.3%,#e9f0f4 28.3%,#f7f6f6 43.3%,#f8f1ed 50%,#f6f7f7 65.8%,#f6f7f7 85.8%)"></i><i style="background:linear-gradient(#053061 0%,#053061 1.7%,#1d5fa2 2.5%,#408fc1 3.3%,#569fc9 4.2%,#90c4dd 8.3%,#b1d5e7 11.7%,#d2e6f0 16.7%,#eaf1f5 27.5%,#f7f6f6 41.7%,#f9f0eb 50.8%,#f7f6f6 64.2%,#f6f7f7 84.2%)"></i><i style="background:linear-gradient(#053061 0%,#053061 1.7%,#1e61a5 2.5%,#4291c2 3.3%,#59a1ca 4.2%,#8dc2dc 7.5%,#a7d0e4 10%,#cae1ee 14.2%,#ddebf2 19.2%,#eff3f5 30%,#f7f5f4 42.5%,#f9efe9 50%,#f7f6f6 64.2%,#f6f7f7 89.2%)"></i><i style="background:linear-gradient(#053061 0%,#053061 1.7%,#1f63a8 2.5%,#4695c4 3.3%,#5fa5cd 4.2%,#93c6de 7.5%,#b6d7e8 10.8%,#d1e5f0 14.2%,#e7f0f4 22.5%,#f3f5f6 34.2%,#f7f5f4 41.7%,#f9efe9 50.8%,#f7f6f6 64.2%,#f6f7f7 91.7%)"></i><i style="background:linear-gradient(#053061 0%,#053061 1.7%,#2065ab 2.5%,#4997c5 3.3%,#65a9cf 4.2%,#90c4dd 6.7%,#b6d7e8 10%,#d1e5f0 13.3%,#e4eef4 19.2%,#f2f5f6 29.2%,#f7f5f4 40.8%,#f9efe9 50.8%,#f7f6f6 64.2%,#f6f7f7 95%)"></i><i style="background:linear-gradient(#053061 0%,#053061 1.7%,#2267ac 2.5%,#4f9bc7 3.3%,#68abd0 4.2%,#8ac0db 5.8%,#c5dfec 10.8%,#d8e9f1 14.2%,#ecf2f5 21.7%,#f6f7f7 36.7%,#f9f0eb 50.8%,#f7f6f6 64.2%,#f7f6f6 95%)"></i><i style="background:linear-gradient(#053061 0%,#053061 1.7%,#2369ad 2.5%,#529dc8 3.3%,#6eaed2 4.2%,#9bc9e0 6.7%,#cae1ee 10.8%,#d8e9f1 13.3%,#edf2f5 21.7%,#f7f6f6 37.5%,#f8f1ed 50.8%,#f7f6f6 65%,#f7f6f6 91.7%)"></i><i style="background:linear-gradient(#053061 0%,#053061 1.7%,#246aae 2.5%,#569fc9 3.3%,#71b0d3 4.2%,#93c6de 5.8%,#b6d7e8 8.3%,#d4e6f1 11.7%,#e7f0f4 17.5%,#f3f5f6 26.7%,#f7f5f4 42.5%,#f8f2ef 50.8%,#f7f6f6 65%,#f7f6f6 91.7%)"></i><i style="background:linear-gradient(#053061 0%,#053061 1.7%,#276eb0 2.5%,#5ca3cb 3.3%,#7bb6d6 4.2%,#8dc2dc 5%,#bddbea 8.3%,#d4e6f1 10.8%,#eaf1f5 17.5%,#f5f6f7 27.5%,#f7f5f4 43.3%,#f8f3f0 52.5%,#f7f6f6 65.8%,#f7f6f6 91.7%)"></i><i style="background:linear-gradient(#053061 0%,#053061 1.7%,#2a71b2 2.5%,#65a9cf 3.3%,#81bad8 4.2%,#a2cde3 5.8%,#c5dfec 8.3%,#d8e9f1 10.8%,#e9f0f4 15.8%,#f3f5f6 23.3%,#f7f5f4 45%,#f7f5f4 57.5%,#f7f6f6 91.7%)"></i><i style="background:linear-gradient(#053061 0%,#053061 1.7%,#2c75b4 2.5%,#6bacd1 3.3%,#8ac0db 4.2%,#b6d7e8 6.7%,#d4e6f1 9.2%,#e9f0f4 14.2%,#f5f6f7 23.3%,#f7f6f6 91.7%)"></i><i style="background:linear-gradient(#053061 0%,#053061 1.7%,#2f79b5 2.5%,#75b2d4 3.3%,#93c6de 4.2%,#cae1ee 7.5%,#ddebf2 10%,#edf2f5 15%,#f6f7f7 25%,#f7f6f6 91.7%)"></i><i style="background:linear-gradient(#053061 0%,#053061 1.7%,#327cb7 2.5%,#7bb6d6 3.3%,#98c8e0 4.2%,#c5dfec 6.7%,#d1e5f0 7.5%,#e4eef4 10.8%,#f2f5f6 15.8%,#f7f6f6 29.2%,#f7f6f6 91.7%)"></i><i style="background:linear-gradient(#053061 0%,#053061 1.7%,#3480b9 2.5%,#81bad8 3.3%,#a0cce2 4.2%,#cce2ef 6.7%,#dbeaf2 8.3%,#eff3f5 12.5%,#f6f7f7 20.8%,#f7f6f6 91.7%)"></i><i style="background:linear-gradient(#053061 0%,#053061 1.7%,#3885bc 2.5%,#8ac0db 3.3%,#a7d0e4 4.2%,#d4e6f1 6.7%,#edf2f5 10.8%,#f6f7f7 15.8%,#f7f6f6 91.7%)"></i><i style="background:linear-gradient(#053061 0%,#053061 1.7%,#3c8abe 2.5%,#96c7df 3.3%,#b1d5e7 4.2%,#d1e5f0 5.8%,#eaf1f5 9.2%,#f6f7f7 13.3%,#f7f5f4 35%,#f7f6f6 95%)"></i><i style="background:linear-gradient(#053061 0%,#053061 1.7%,#408fc1 2.5%,#9dcbe1 3.3%,#b8d8e9 4.2%,#cae1ee 5%,#ddebf2 6.7%,#f2f5f6 10%,#f8f4f2 14.2%,#f7f6f6 75.8%,#f7f6f6 91.7%)"></i><i style="background:linear-gradient(#053061 0%,#053061 1.7%,#4695c4 2.5%,#a5cee3 3.3%,#c0dceb 4.2%,#d1e5f0 5%,#edf2f5 8.3%,#f7f5f4 11.7%,#f8f3f0 15.8%,#f6f7f7 57.5%,#f7f6f6 91.7%)"></i><i style="background:linear-gradient(#053061 0%,#053061 1.7%,#4f9bc7 2.5%,#acd2e5 3.3%,#c7e0ed 4.2%,#d5e7f1 5%,#ecf2f5 7.5%,#f7f6f6 10%,#f8f1ed 14.2%,#f7f5f4 33.3%,#f7f6f6 91.7%)"></i><i style="background:linear-gradient(#053061 0%,#053061 1.7%,#569fc9 2.5%,#b3d6e8 3.3%,#cfe4ef 4.2%,#e1edf3 5.8%,#f5f6f7 8.3%,#f9efe9 14.2%,#f8f4f2 27.5%,#f6f7f7 59.2%,#f7f6f6 91.7%)"></i><i style="background:linear-gradient(#053061 0%,#053061 1.7%,#5fa5cd 2.5%,#bbdaea 3.3%,#d4e6f1 4.2%,#edf2f5 6.7%,#f7f6f6 8.3%,#f9f0eb 10.8%,#f9eee7 15%,#f8f4f2 27.5%,#f6f7f7 59.2%,#f7f6f6 95%)"></i><i style="background:linear-gradient(#053061 0%,#053061 1.7%,#68abd0 2.5%,#c0dceb 3.3%,#d7e8f1 4.2%,#f0f4f6 6.7%,#f6f7f7 7.5%,#f9eee7 10.8%,#f9ebe3 15%,#f8f3f0 25.8%,#f5f6f7 54.2%,#f7f6f6 91.7%)"></i><i style="background:linear-gradient(#053061 0%,#063264 1.7%,#71b0d3 2.5%,#c7e0ed 3.3%,#dbeaf2 4.2%,#f3f5f6 6.7%,#f9f0eb 9.2%,#faeae1 11.7%,#f9ede5 17.5%,#f8f3f0 28.3%,#f5f6f7 52.5%,#f7f6f6 91.7%)"></i><i style="background:linear-gradient(#053061 0%,#053061 0.8%,#09386d 1.7%,#78b4d5 2.5%,#cfe4ef 3.3%,#e0ecf3 4.2%,#f7f6f6 6.7%,#f9ebe3 10%,#fae8de 14.2%,#f8f2ef 25.8%,#f5f6f7 50.8%,#f7f6f6 91.7%)"></i><i style="background:linear-gradient(#053061 0%,#053061 0.8%,#0c3d73 1.7%,#81bad8 2.5%,#d4e6f1 3.3%,#edf2f5 5%,#f5f6f7 5.8%,#fae9df 10%,#fbe6da 13.3%,#f8f2ef 27.5%,#f5f6f7 50.8%,#f7f6f6 95%)"></i><i style="background:linear-gradient(#053061 0%,#053061 0.8%,#0f437b 1.7%,#8ac0db 2.5%,#d7e8f1 3.3%,#e7f0f4 4.2%,#f7f6f6 5.8%,#fae9df 9.2%,#fbe5d8 12.5%,#fae9df 18.3%,#f8f2ef 28.3%,#f5f6f7 51.7%,#f7f6f6 95%)"></i><i style="background:linear-gradient(#053061 0%,#053061 0.8%,#114781 1.7%,#93c6de 2.5%,#dbeaf2 3.3%,#ecf2f5 4.2%,#f5f6f7 5%,#fae8de 9.2%,#fbe4d6 12.5%,#fae8de 18.3%,#f8f1ed 27.5%,#f6f7f7 53.3%,#f7f6f6 95%)"></i><i style="background:linear-gradient(#053061 0%,#053061 0.8%,#144e8a 1.7%,#98c8e0 2.5%,#e0ecf3 3.3%,#eff3f5 4.2%,#f7f6f6 5%,#fae9df 8.3%,#fbe3d4 11.7%,#fbe4d6 15.8%,#f9f0eb 26.7%,#f7f6f6 50%,#f7f6f6 95%)"></i><i style="background:linear-gradient(#053061 0%,#053061 0.8%,#175290 1.7%,#a0cce2 2.5%,#e4eef4 3.3%,#f3f5f6 4.2%,#f9ede5 6.7%,#fbe3d4 10.8%,#fbe3d4 15.8%,#f9eee7 25%,#f8f3f0 36.7%,#f7f6f6 57.5%,#f7f6f6 95%)"></i><i style="background:linear-gradient(#053061 0%,#053061 0.8%,#1a5899 1.7%,#a9d1e5 2.5%,#e9f0f4 3.3%,#f7f6f6 4.2%,#f9eee7 5.8%,#fbe3d4 10%,#fce0d0 14.2%,#f9efe9 27.5%,#f8f3f0 39.2%,#f7f6f6 60.8%,#f7f6f6 95%)"></i><i style="background:linear-gradient(#053061 0%,#053061 0.8%,#1e61a5 1.7%,#b1d5e7 2.5%,#edf2f5 3.3%,#f8f3f0 4.2%,#fae9df 6.7%,#fcdfcf 11.7%,#fce0d0 15.8%,#f9efe9 28.3%,#f8f4f2 45%,#f7f6f6 81.7%,#f7f6f6 95%)"></i><i style="background:linear-gradient(#053061 0%,#053061 0.8%,#2369ad 1.7%,#bbdaea 2.5%,#f3f5f6 3.3%,#f9ebe3 5%,#fcdfcf 11.7%,#fcdfcf 15.8%,#f9eee7 27.5%,#f8f3f0 40.8%,#f7f6f6 75%,#f7f6f6 91.7%)"></i><i style="background:linear-gradient(#053061 0%,#053061 0.8%,#2a71b2 1.7%,#c5dfec 2.5%,#f7f6f6 3.3%,#f9ede5 4.2%,#fbe6da 6.7%,#fdddcb 13.3%,#fbe4d6 20%,#f9efe9 30%,#f8f4f2 46.7%,#f7f6f6 88.3%,#f7f6f6 91.7%)"></i><i style="background:linear-gradient(#053061 0%,#053061 0.8%,#327cb7 1.7%,#d1e5f0 2.5%,#f8f2ef 3.3%,#fae9df 4.2%,#fbe5d8 5.8%,#fddcc9 13.3%,#fcdfcf 17.5%,#f9ede5 27.5%,#f8f3f0 41.7%,#f7f6f6 75.8%,#f7f6f6 91.7%)"></i><i style="background:linear-gradient(#053061 0%,#053061 0.8%,#3a87bd 1.7%,#d7e8f1 2.5%,#f9eee7 3.3%,#fbe6da 4.2%,#fbe4d6 5.8%,#fddcc9 13.3%,#fcdfcf 17.5%,#f9ede5 28.3%,#f8f3f0 42.5%,#f7f6f6 76.7%,#f7f6f6 91.7%)"></i><i style="background:linear-gradient(#053061 0%,#053061 0.8%,#4291c2 1.7%,#deebf2 2.5%,#faeae1 3.3%,#fbe3d4 4.2%,#fce0d0 5%,#fce2d2 8.3%,#fddbc7 13.3%,#fcdecd 17.5%,#f9eee7 30%,#f8f3f0 43.3%,#f7f6f6 75.8%,#f7f6f6 91.7%)"></i><i style="background:linear-gradient(#053061 0%,#073467 0.8%,#569fc9 1.7%,#e6eff4 2.5%,#fbe6da 3.3%,#fcdfcf 4.2%,#fcdfcf 5.8%,#fce2d2 8.3%,#fdd9c4 14.2%,#f9ede5 29.2%,#f8f3f0 43.3%,#f7f6f6 75.8%,#f7f6f6 91.7%)"></i><i style="background:linear-gradient(#053061 0%,#0f437b 0.8%,#68abd0 1.7%,#edf2f5 2.5%,#fce2d2 3.3%,#fddbc7 4.2%,#fce0d0 8.3%,#fdd9c4 13.3%,#fddcc9 16.7%,#f9eee7 30.8%,#f8f3f0 44.2%,#f7f6f6 75%,#f7f6f6 88.3%)"></i><i style="background:linear-gradient(#053061 0%,#175290 0.8%,#7bb6d6 1.7%,#f3f5f6 2.5%,#fcdecd 3.3%,#fcd7c2 4.2%,#fcd7c2 5%,#fce0d0 7.5%,#fdd9c4 12.5%,#fcd7c2 15%,#fae8de 25.8%,#f8f1ed 37.5%,#f7f5f4 59.2%,#f7f6f6 91.7%)"></i><i style="background:linear-gradient(#053061 0%,#1f63a8 0.8%,#8dc2dc 1.7%,#f7f5f4 2.5%,#fdd9c4 3.3%,#fbd0b9 4.2%,#fcd3bc 5%,#fcdecd 6.7%,#fce0d0 8.3%,#fcd7c2 13.3%,#fdd9c4 15.8%,#f9eee7 31.7%,#f8f3f0 45%,#f7f6f6 74.2%,#f7f6f6 91.7%)"></i><i style="background:linear-gradient(#0d3f76 0%,#2a71b2 0.8%,#9dcbe1 1.7%,#f8f1ed 2.5%,#fcd3bc 3.3%,#facab1 4.2%,#fbceb7 5%,#fdddcb 6.7%,#fce0d0 7.5%,#fce0d0 9.2%,#fcd5bf 13.3%,#fcdecd 20%,#f9ede5 30.8%,#f8f3f0 44.2%,#f7f6f6 75%,#f7f6f6 91.7%)"></i><i style="background:linear-gradient(#1c5c9f 0%,#3b88be 0.8%,#b6d7e8 1.7%,#f9ebe3 2.5%,#fbceb7 3.3%,#f9c6ac 4.2%,#fdddcb 6.7%,#fce2d2 8.3%,#fcd5bf 13.3%,#fcd7c2 15.8%,#f9eee7 32.5%,#f8f4f2 48.3%,#f7f6f6 87.5%,#f7f6f6 91.7%)"></i><i style="background:linear-gradient(#3480b9 0%,#65a9cf 0.8%,#d1e5f0 1.7%,#fbe5d8 2.5%,#fac8af 3.3%,#f9c2a7 4.2%,#fac8af 5%,#fdddcb 6.7%,#fce2d2 8.3%,#fcdfcf 10%,#fcd5bf 13.3%,#fcd7c2 16.7%,#fdddcb 19.2%,#f9eee7 32.5%,#f8f4f2 48.3%,#f7f6f6 87.5%,#f7f6f6 91.7%)"></i><i style="background:linear-gradient(#5ca3cb 0%,#96c7df 0.8%,#e1edf3 1.7%,#fcdfcf 2.5%,#f9c4a9 3.3%,#f8bfa4 4.2%,#f9c6ac 5%,#fdddcb 6.7%,#fbe3d4 8.3%,#fdd9c4 11.7%,#fcd5bf 12.5%,#fcd3bc 14.2%,#faeae1 29.2%,#f8f2ef 40.8%,#f7f6f6 68.3%,#f7f6f6 91.7%)"></i><i style="background:linear-gradient(#96c7df 0%,#bddbea 0.8%,#f2f5f6 1.7%,#fdd9c4 2.5%,#f8bfa4 3.3%,#f8bb9e 4.2%,#f9c4a9 5%,#fdddcb 6.7%,#fbe4d6 8.3%,#fdddcb 10.8%,#fcd3bc 13.3%,#fcd5bf 15.8%,#fae8de 27.5%,#f8f1ed 38.3%,#f7f5f4 57.5%,#f7f6f6 91.7%)"></i><i style="background:linear-gradient(#c5dfec 0%,#deebf2 0.8%,#f9efe9 1.7%,#fbd0b9 2.5%,#f8bb9e 3.3%,#f8bb9e 4.2%,#f9c4a9 5%,#fdddcb 6.7%,#fbe3d4 7.5%,#fbe5d8 8.3%,#fcdecd 10.8%,#fcd5bf 12.5%,#fcd3bc 15%,#fce2d2 23.3%,#f9eee7 33.3%,#f8f3f0 45%,#f7f6f6 73.3%,#f7f6f6 87.5%)"></i><i style="background:linear-gradient(#f6f7f7 0%,#f9ede5 0.8%,#fcdecd 1.7%,#fac8af 2.5%,#f7b99c 3.3%,#f7b99c 4.2%,#f9c4a9 5%,#fcdecd 6.7%,#fbe4d6 7.5%,#fbe6da 8.3%,#fbe3d4 10%,#fcd5bf 12.5%,#fcd3bc 15%,#fbe4d6 25%,#f9f0eb 35.8%,#f8f4f2 50%,#f7f6f6 75.8%)"></i><i style="background:linear-gradient(#fddbc7 0%,#fbccb4 0.8%,#f9c2a7 2.5%,#f7b99c 3.3%,#f7b99c 4.2%,#f9c4a9 5%,#fcdecd 6.7%,#fbe5d8 7.5%,#fae7dc 9.2%,#fcd5bf 12.5%,#fbd0b9 14.2%,#fae8de 28.3%,#f8f2ef 40%,#f7f6f6 65%)"></i><i style="background:linear-gradient(#f8bda1 0%,#f6b191 0.8%,#f8bfa4 2.5%,#f7b99c 3.3%,#f8bb9e 4.2%,#f9c4a9 5%,#fcd5bf 5.8%,#fbe6da 7.5%,#fae9df 8.3%,#fbe5d8 10%,#fcd5bf 12.5%,#fbd0b9 15%,#fcdfcf 22.5%,#f9eee7 33.3%,#f8f4f2 47.5%,#f7f6f6 70.8%)"></i><i style="background:linear-gradient(#f4a683 0%,#ee9677 0.8%,#f6af8e 1.7%,#f8bfa4 2.5%,#f8bb9e 3.3%,#f8bb9e 4.2%,#f9c6ac 5%,#fcd7c2 5.8%,#fae8de 7.5%,#faeae1 9.2%,#fcd3bc 13.3%,#fbd0b9 15%,#fcdfcf 22.5%,#f9efe9 35%,#f8f4f2 48.3%,#f7f6f6 77.5%,#f7f6f6 80%)"></i><i style="background:linear-gradient(#e8896c 0%,#e27b62 0.8%,#f3a481 1.7%,#f8bfa4 2.5%,#f8bda1 4.2%,#fac8af 5%,#fdd9c4 5.8%,#fae9df 7.5%,#f9ede5 8.3%,#f9ebe3 9.2%,#fcd7c2 12.5%,#fbd0b9 14.2%,#fbe5d8 26.7%,#f9f0eb 36.7%,#f8f4f2 48.3%,#f7f6f6 75%,#f7f6f6 88.3%)"></i><i style="background:linear-gradient(#db6b55 0%,#d6604d 0.8%,#ef9979 1.7%,#f9c2a7 2.5%,#f8bfa4 3.3%,#f9c2a7 4.2%,#facab1 5%,#fddbc7 5.8%,#f9ebe3 7.5%,#f9efe9 8.3%,#f9eee7 9.2%,#fcd7c2 12.5%,#fbd0b9 14.2%,#fcd7c2 18.3%,#fce0d0 23.3%,#f9efe9 35%,#f7f5f4 50.8%,#f7f6f6 88.3%)"></i><i style="background:linear-gradient(#ce4f45 0%,#cb4942 0.8%,#ea8e70 1.7%,#f9c4a9 2.5%,#f9c2a7 3.3%,#f9c4a9 4.2%,#fddcc9 5.8%,#fbe6da 6.7%,#f8f1ed 8.3%,#f9f0eb 9.2%,#fcd7c2 12.5%,#fbd0b9 14.2%,#fcd3bc 16.7%,#fbe4d6 25.8%,#f9f0eb 36.7%,#f7f5f4 51.7%,#f7f6f6 88.3%)"></i><i style="background:linear-gradient(#c6413e 0%,#c43b3c 0.8%,#e8896c 1.7%,#f9c6ac 2.5%,#fac8af 4.2%,#fbd0b9 5%,#fcdecd 5.8%,#f9efe9 7.5%,#f8f3f0 8.3%,#f8f2ef 9.2%,#fcd7c2 12.5%,#fbd0b9 14.2%,#fcd3bc 16.7%,#fbe6da 27.5%,#f8f2ef 40%,#f7f6f6 61.7%,#f7f6f6 88.3%)"></i><i style="background:linear-gradient(#be3036 0%,#bd2d35 0.8%,#e58368 1.7%,#fac8af 2.5%,#fbccb4 4.2%,#fcdfcf 5.8%,#f8f1ed 7.5%,#f8f4f2 8.3%,#f8f3f0 9.2%,#fbe6da 10.8%,#fcd7c2 12.5%,#fbceb7 14.2%,#fce2d2 25%,#f9eee7 34.2%,#f8f4f2 46.7%,#f7f6f6 70.8%,#f7f6f6 88.3%)"></i><i style="background:linear-gradient(#b72230 0%,#b61f2e 0.8%,#e48066 1.7%,#facab1 2.5%,#fbceb7 4.2%,#faeae1 6.7%,#f8f3f0 7.5%,#f7f6f6 8.3%,#f7f5f4 9.2%,#fcd7c2 12.5%,#fbd0b9 13.3%,#fbceb7 15%,#fcdfcf 23.3%,#f9efe9 35.8%,#f7f5f4 50%,#f7f6f6 88.3%)"></i><i style="background:linear-gradient(#ae172a 0%,#ae172a 0.8%,#e17860 1.7%,#fbccb4 2.5%,#fcd3bc 4.2%,#fbe3d4 5.8%,#f8f4f2 7.5%,#f5f6f7 8.3%,#f7f6f6 9.2%,#fcd7c2 12.5%,#fbd0b9 13.3%,#fbceb7 15%,#fcdfcf 23.3%,#f9efe9 35.8%,#f7f5f4 50%,#f7f6f6 88.3%)"></i><i style="background:linear-gradient(#9c1127 0%,#9f1228 0.8%,#de735c 1.7%,#fbceb7 2.5%,#fcd5bf 3.3%,#fcd7c2 4.2%,#fbe5d8 5.8%,#f7f6f6 7.5%,#f3f5f6 8.3%,#f5f6f7 9.2%,#f8f2ef 10%,#fcd7c2 12.5%,#fbd0b9 13.3%,#fbceb7 15%,#fbe5d8 27.5%,#f9f0eb 37.5%,#f7f5f4 50.8%,#f7f6f6 88.3%)"></i><i style="background:linear-gradient(#8d0c25 0%,#900d26 0.8%,#dc6e57 1.7%,#fbd0b9 2.5%,#fcd7c2 3.3%,#fdd9c4 4.2%,#fbe6da 5.8%,#f6f7f7 7.5%,#f0f4f6 8.3%,#f3f5f6 9.2%,#f8f2ef 10%,#fcd7c2 12.5%,#fbd0b9 13.3%,#fbceb7 15.8%,#fce2d2 25%,#f8f1ed 39.2%,#f7f5f4 52.5%,#f7f6f6 88.3%)"></i><i style="background:linear-gradient(#870a24 0%,#8a0b25 0.8%,#db6b55 1.7%,#fbd0b9 2.5%,#fddbc7 3.3%,#fcdfcf 5%,#f5f6f7 7.5%,#eff3f5 8.3%,#f2f5f6 9.2%,#f8f3f0 10%,#fcd7c2 12.5%,#fbd0b9 13.3%,#fbceb7 15.8%,#fcdfcf 24.2%,#f9f0eb 37.5%,#f7f5f4 50.8%,#f7f6f6 85%)"></i><i style="background:linear-gradient(#870a24 0%,#8a0b25 0.8%,#db6b55 1.7%,#fcd3bc 2.5%,#fddcc9 3.3%,#fdddcb 4.2%,#fae8de 5.8%,#f8f1ed 6.7%,#f3f5f6 7.5%,#eff3f5 8.3%,#f0f4f6 9.2%,#f8f4f2 10%,#fce0d0 11.7%,#fcd7c2 12.5%,#fbd0b9 13.3%,#fbceb7 15.8%,#fcdfcf 24.2%,#f9f0eb 37.5%,#f7f5f4 50.8%,#f7f6f6 85%)"></i><i style="background:linear-gradient(#870a24 0%,#8d0c25 0.8%,#db6b55 1.7%,#fcd5bf 2.5%,#fdddcb 3.3%,#fce2d2 5%,#f8f2ef 6.7%,#f3f5f6 7.5%,#edf2f5 8.3%,#f8f4f2 10%,#fcd7c2 12.5%,#fbd0b9 13.3%,#fbccb4 15%,#fcdecd 23.3%,#f9f0eb 37.5%,#f7f5f4 50.8%,#f7f6f6 85%)"></i><i style="background:linear-gradient(#8a0b25 0%,#8d0c25 0.8%,#da6853 1.7%,#fcd5bf 2.5%,#fcdecd 3.3%,#fbe3d4 5%,#f8f2ef 6.7%,#f3f5f6 7.5%,#edf2f5 8.3%,#f8f4f2 10%,#fce0d0 11.7%,#fbd0b9 13.3%,#fbceb7 15.8%,#fcdfcf 24.2%,#f9f0eb 37.5%,#f7f5f4 50.8%,#f7f6f6 85%)"></i><i style="background:linear-gradient(#8a0b25 0%,#8d0c25 0.8%,#da6853 1.7%,#fcd7c2 2.5%,#fcdfcf 3.3%,#fbe4d6 5%,#f8f2ef 6.7%,#f2f5f6 7.5%,#edf2f5 8.3%,#f8f4f2 10%,#fce0d0 11.7%,#fbd0b9 13.3%,#fbceb7 15.8%,#fcdfcf 24.2%,#f9f0eb 37.5%,#f7f5f4 50.8%,#f7f6f6 85%)"></i><i style="background:linear-gradient(#8a0b25 0%,#8d0c25 0.8%,#da6853 1.7%,#fcd7c2 2.5%,#fcdfcf 3.3%,#fbe4d6 5%,#f8f2ef 6.7%,#f3f5f6 7.5%,#edf2f5 8.3%,#f8f4f2 10%,#fce0d0 11.7%,#fbd0b9 13.3%,#fbceb7 15.8%,#fcdfcf 24.2%,#f9f0eb 37.5%,#f7f5f4 50.8%,#f7f6f6 85%)"></i><i style="background:linear-gradient(#8a0b25 0%,#8d0c25 0.8%,#d86551 1.7%,#fcd7c2 2.5%,#fce0d0 3.3%,#fbe5d8 5%,#f3f5f6 7.5%,#eff3f5 8.3%,#f8f4f2 10%,#fce0d0 11.7%,#fcd7c2 12.5%,#fbd0b9 13.3%,#fbceb7 15.8%,#fcdfcf 24.2%,#f9f0eb 37.5%,#f7f5f4 50.8%,#f7f6f6 85%)"></i><i style="background:linear-gradient(#8a0b25 0%,#8d0c25 0.8%,#d7634f 1.7%,#fcd7c2 2.5%,#fce0d0 3.3%,#fbe5d8 5%,#f5f6f7 7.5%,#eff3f5 8.3%,#f2f5f6 9.2%,#f8f3f0 10%,#fcdfcf 11.7%,#fbd0b9 13.3%,#fbceb7 15.8%,#fcdfcf 24.2%,#f9f0eb 37.5%,#f7f5f4 50.8%,#f7f6f6 85%)"></i><i style="background:linear-gradient(#8a0b25 0%,#8d0c25 0.8%,#d7634f 1.7%,#fcd5bf 2.5%,#fce2d2 3.3%,#fbe5d8 5%,#f6f7f7 7.5%,#f2f5f6 8.3%,#f5f6f7 9.2%,#f8f2ef 10%,#fcd7c2 12.5%,#fbd0b9 13.3%,#fbceb7 15.8%,#fcdfcf 24.2%,#f9efe9 36.7%,#f7f5f4 49.2%,#f7f6f6 85%)"></i><i style="background:linear-gradient(#8a0b25 0%,#8d0c25 0.8%,#d6604d 1.7%,#fcd5bf 2.5%,#fce2d2 3.3%,#fbe5d8 5%,#f9f0eb 6.7%,#f7f6f6 7.5%,#f3f5f6 8.3%,#f6f7f7 9.2%,#f8f1ed 10%,#fcdecd 11.7%,#fbd0b9 13.3%,#fbceb7 15.8%,#fcdfcf 24.2%,#f9efe9 36.7%,#f7f5f4 49.2%,#f7f6f6 85%)"></i><i style="background:linear-gradient(#8a0b25 0%,#8d0c25 0.8%,#d55d4c 1.7%,#fcd5bf 2.5%,#fce2d2 3.3%,#fbe5d8 5%,#f7f5f4 7.5%,#f7f6f6 9.2%,#fcd7c2 12.5%,#fbd0b9 13.3%,#fbceb7 15.8%,#fcdfcf 24.2%,#f9efe9 36.7%,#f7f5f4 49.2%,#f7f6f6 85%)"></i><i style="background:linear-gradient(#8a0b25 0%,#8d0c25 0.8%,#d35a4a 1.7%,#fcd3bc 2.5%,#fce2d2 3.3%,#fae8de 5.8%,#f8f3f0 7.5%,#f7f6f6 8.3%,#f8f4f2 9.2%,#fcd5bf 12.5%,#fbceb7 13.3%,#fbccb4 14.2%,#fce0d0 25%,#f9efe9 36.7%,#f7f5f4 49.2%,#f7f6f6 85%)"></i><i style="background:linear-gradient(#8a0b25 0%,#8d0c25 0.8%,#d25849 1.7%,#fcd3bc 2.5%,#fce2d2 3.3%,#fbe4d6 5%,#f8f2ef 7.5%,#f8f4f2 8.3%,#f8f2ef 9.2%,#fcd5bf 12.5%,#fbceb7 13.3%,#fbccb4 15%,#fcdfcf 24.2%,#f9f0eb 38.3%,#f7f5f4 50%,#f7f6f6 85%)"></i><i style="background:linear-gradient(#8a0b25 0%,#8d0c25 0.8%,#d05548 1.7%,#fbd0b9 2.5%,#fce2d2 3.3%,#fbe4d6 5%,#f8f2ef 8.3%,#f9f0eb 9.2%,#fcd5bf 12.5%,#fbceb7 13.3%,#fbccb4 15%,#fbe5d8 28.3%,#f8f1ed 40%,#f7f6f6 54.2%,#f7f6f6 85%)"></i><i style="background:linear-gradient(#8a0b25 0%,#8d0c25 0.8%,#d05548 1.7%,#fbceb7 2.5%,#fce2d2 3.3%,#fbe4d6 5%,#f9f0eb 8.3%,#f9eee7 9.2%,#fcd3bc 12.5%,#fbccb4 14.2%,#fce0d0 25.8%,#f9eee7 35.8%,#f7f5f4 49.2%,#f7f6f6 82.5%)"></i><i style="background:linear-gradient(#8a0b25 0%,#8d0c25 0.8%,#cf5246 1.7%,#fbceb7 2.5%,#fce2d2 3.3%,#fbe5d8 5.8%,#f9ede5 7.5%,#f9eee7 8.3%,#fae7dc 10%,#fcd3bc 12.5%,#fbccb4 14.2%,#fcd7c2 20%,#f9f0eb 38.3%,#f7f5f4 50%,#f7f6f6 78.3%)"></i><i style="background:linear-gradient(#8a0b25 0%,#8d0c25 0.8%,#ce4f45 1.7%,#fbccb4 2.5%,#fce2d2 3.3%,#fbe5d8 5.8%,#f9ebe3 8.3%,#fbe5d8 10%,#fbd0b9 12.5%,#fbccb4 15%,#fce0d0 25.8%,#f9f0eb 38.3%,#f7f6f6 54.2%,#f7f6f6 85.8%)"></i><i style="background:linear-gradient(#8a0b25 0%,#8a0b25 0.8%,#cc4c44 1.7%,#facab1 2.5%,#fce2d2 3.3%,#fbe6da 6.7%,#fae9df 8.3%,#fbe3d4 10%,#fbd0b9 12.5%,#fbccb4 13.3%,#fbd0b9 17.5%,#fcdfcf 25%,#f9efe9 37.5%,#f7f5f4 50%,#f7f6f6 90%)"></i><i style="background:linear-gradient(#8a0b25 0%,#8a0b25 0.8%,#cb4942 1.7%,#fac8af 2.5%,#fce2d2 3.3%,#fbe3d4 5.8%,#fae7dc 7.5%,#fbe5d8 9.2%,#fddcc9 10.8%,#fbd0b9 12.5%,#fbccb4 13.3%,#fbd0b9 17.5%,#fcdfcf 25%,#f9efe9 37.5%,#f7f5f4 50%,#f7f6f6 91.7%)"></i><i style="background:linear-gradient(#8a0b25 0%,#8a0b25 0.8%,#c94741 1.7%,#fac8af 2.5%,#fce0d0 3.3%,#fbe5d8 8.3%,#fbe4d6 9.2%,#fbceb7 12.5%,#facab1 14.2%,#fcdfcf 25%,#f9f0eb 39.2%,#f7f5f4 50.8%,#f7f6f6 88.3%)"></i><i style="background:linear-gradient(#8a0b25 0%,#8a0b25 0.8%,#c84440 1.7%,#f9c6ac 2.5%,#fce0d0 3.3%,#fbe4d6 8.3%,#fdd9c4 10.8%,#fbceb7 12.5%,#facab1 14.2%,#fcdfcf 25%,#f9f0eb 39.2%,#f7f5f4 50.8%,#f7f6f6 76.7%)"></i><i style="background:linear-gradient(#8a0b25 0%,#8a0b25 0.8%,#c84440 1.7%,#f9c4a9 2.5%,#fce0d0 3.3%,#fce2d2 8.3%,#fdddcb 10%,#facab1 13.3%,#fbccb4 15.8%,#fbe5d8 29.2%,#f8f1ed 40.8%,#f7f6f6 55.8%,#f7f6f6 65.8%)"></i><i style="background:linear-gradient(#8a0b25 0%,#8a0b25 0.8%,#c6413e 1.7%,#f9c2a7 2.5%,#fce0d0 3.3%,#fce0d0 8.3%,#fcd7c2 10.8%,#fbccb4 12.5%,#facab1 15%,#fcdfcf 25.8%,#f9f0eb 39.2%,#f7f6f6 55%)"></i><i style="background:linear-gradient(#8a0b25 0%,#8a0b25 0.8%,#c53e3d 1.7%,#f9c2a7 2.5%,#fce0d0 3.3%,#fcdfcf 8.3%,#fddbc7 10%,#fbccb4 12.5%,#facab1 15%,#fcdfcf 25.8%,#f9efe9 38.3%,#f8f4f2 48.3%)"></i><i style="background:linear-gradient(#8a0b25 0%,#8a0b25 0.8%,#c43b3c 1.7%,#f8bfa4 2.5%,#fce0d0 3.3%,#fcdecd 8.3%,#fdd9c4 10%,#facab1 12.5%,#fac8af 14.2%,#fcdfcf 25.8%,#f9f0eb 40%,#f7f5f4 53.3%,#f7f5f4 54.2%)"></i><i style="background:linear-gradient(#8a0b25 0%,#8a0b25 0.8%,#c43b3c 1.7%,#f8bda1 2.5%,#fce0d0 3.3%,#fdddcb 8.3%,#fac8af 13.3%,#facab1 15.8%,#fcdfcf 26.7%,#f9efe9 39.2%,#f7f5f4 52.5%,#f7f6f6 56.7%)"></i><i style="background:linear-gradient(#8a0b25 0%,#870a24 0.8%,#c2383a 1.7%,#f8bb9e 2.5%,#fcdfcf 3.3%,#fcdfcf 5%,#fddcc9 8.3%,#facab1 12.5%,#fac8af 15%,#fcdfcf 26.7%,#f9efe9 40%,#f7f5f4 52.5%,#f7f6f6 58.3%)"></i><i style="background:linear-gradient(#8a0b25 0%,#870a24 0.8%,#c2383a 1.7%,#f8bb9e 2.5%,#fcdfcf 3.3%,#fcdfcf 5%,#fddbc7 8.3%,#fac8af 12.5%,#facab1 16.7%,#fce2d2 28.3%,#f9f0eb 41.7%,#f7f5f4 55%,#f7f6f6 58.3%)"></i><i style="background:linear-gradient(#8a0b25 0%,#870a24 0.8%,#c13639 1.7%,#f7b99c 2.5%,#fcdfcf 3.3%,#fcdfcf 5%,#fcd7c2 9.2%,#fac8af 12.5%,#f9c6ac 14.2%,#fcdfcf 26.7%,#f9f0eb 40.8%,#f7f5f4 54.2%,#f7f6f6 58.3%)"></i><i style="background:linear-gradient(#8a0b25 0%,#870a24 0.8%,#bf3338 1.7%,#f7b799 2.5%,#fcdfcf 3.3%,#fcdfcf 5%,#fcd5bf 9.2%,#f9c6ac 13.3%,#fbccb4 17.5%,#fcdecd 25.8%,#f9efe9 39.2%,#f7f5f4 52.5%,#f7f6f6 65%)"></i><i style="background:linear-gradient(#8a0b25 0%,#870a24 0.8%,#bf3338 1.7%,#f7b799 2.5%,#fcdfcf 3.3%,#fddbc7 7.5%,#facab1 11.7%,#f9c6ac 14.2%,#fce2d2 27.5%,#f8f1ed 41.7%,#f7f6f6 56.7%,#f7f6f6 70.8%)"></i><i style="background:linear-gradient(#8a0b25 0%,#870a24 0.8%,#be3036 1.7%,#f7b596 2.5%,#fcdfcf 3.3%,#fddcc9 6.7%,#fac8af 12.5%,#f9c6ac 15%,#fce0d0 26.7%,#f9efe9 38.3%,#f7f5f4 50.8%,#f7f6f6 79.2%)"></i><i style="background:linear-gradient(#8a0b25 0%,#870a24 0.8%,#be3036 1.7%,#f6b394 2.5%,#fcdfcf 3.3%,#fddcc9 6.7%,#facab1 11.7%,#f9c6ac 14.2%,#fbccb4 18.3%,#fcdecd 25%,#f9eee7 36.7%,#f7f5f4 49.2%,#f7f6f6 85%)"></i><i style="background:linear-gradient(#8a0b25 0%,#870a24 0.8%,#be3036 1.7%,#f6b394 2.5%,#fcdecd 3.3%,#fcdecd 5%,#fcd3bc 9.2%,#f9c6ac 12.5%,#fac8af 15.8%,#fbccb4 18.3%,#fddcc9 23.3%,#f9f0eb 38.3%,#f7f5f4 50%,#f7f6f6 85%)"></i><i style="background:linear-gradient(#8a0b25 0%,#870a24 0.8%,#bd2d35 1.7%,#f6b191 2.5%,#fcdecd 3.3%,#fcdecd 5%,#fcd3bc 9.2%,#fac8af 11.7%,#f9c6ac 15%,#fbccb4 18.3%,#fddcc9 23.3%,#faeae1 32.5%,#f8f3f0 43.3%,#f7f6f6 57.5%,#f7f6f6 85%)"></i><i style="background:linear-gradient(#8a0b25 0%,#870a24 0.8%,#bd2d35 1.7%,#f6b191 2.5%,#fcdecd 3.3%,#fcdecd 5%,#fcd5bf 8.3%,#f9c6ac 12.5%,#f9c4a9 14.2%,#fbccb4 18.3%,#fcdecd 24.2%,#f9f0eb 37.5%,#f7f5f4 49.2%,#f7f6f6 81.7%)"></i><i style="background:linear-gradient(#8a0b25 0%,#870a24 0.8%,#bd2d35 1.7%,#f6b191 2.5%,#fcdecd 3.3%,#fcdecd 5%,#f9c6ac 12.5%,#f9c4a9 14.2%,#fbccb4 18.3%,#fcdecd 24.2%,#f9ebe3 32.5%,#f8f4f2 44.2%,#f7f6f6 60.8%,#f7f6f6 81.7%)"></i><i style="background:linear-gradient(#8a0b25 0%,#870a24 0.8%,#bb2a34 1.7%,#f6af8e 2.5%,#fcdecd 3.3%,#fcdecd 5%,#fbd0b9 9.2%,#f9c4a9 13.3%,#facab1 17.5%,#fcdfcf 24.2%,#f8f1ed 37.5%,#f7f6f6 50.8%,#f7f6f6 81.7%)"></i><i style="background:linear-gradient(#8a0b25 0%,#870a24 0.8%,#bb2a34 1.7%,#f6af8e 2.5%,#fcdecd 3.3%,#fcdecd 5%,#fbd0b9 9.2%,#f9c4a9 13.3%,#f9c6ac 15.8%,#fcd3bc 20%,#fcdfcf 24.2%,#f9ede5 32.5%,#f8f4f2 43.3%,#f7f6f6 57.5%,#f7f6f6 81.7%)"></i><i style="background:linear-gradient(#8a0b25 0%,#870a24 0.8%,#bb2a34 1.7%,#f6af8e 2.5%,#fcdecd 3.3%,#fcdecd 5%,#fcd7c2 7.5%,#f9c6ac 11.7%,#f9c4a9 15%,#fcd3bc 20%,#fddcc9 22.5%,#fae8de 29.2%,#f8f1ed 36.7%,#f7f6f6 50%,#f7f6f6 81.7%)"></i><i style="background:linear-gradient(#8a0b25 0%,#870a24 0.8%,#bb2a34 1.7%,#f6af8e 2.5%,#fcdecd 3.3%,#fcdecd 5%,#fcd7c2 7.5%,#f9c6ac 11.7%,#f9c4a9 15%,#fbd0b9 19.2%,#fcdecd 23.3%,#f9ede5 31.7%,#f7f5f4 43.3%,#f7f6f6 81.7%)"></i><i style="background:linear-gradient(#8a0b25 0%,#870a24 0.8%,#bb2a34 1.7%,#f5ac8b 2.5%,#fcdecd 3.3%,#fcdecd 5%,#fcd7c2 7.5%,#f9c6ac 11.7%,#f9c4a9 15%,#fbd0b9 19.2%,#fcdfcf 23.3%,#f9eee7 32.5%,#f7f5f4 43.3%,#f7f6f6 81.7%)"></i><i style="background:linear-gradient(#8a0b25 0%,#870a24 0.8%,#bb2a34 1.7%,#f5ac8b 2.5%,#fcdecd 3.3%,#fcdecd 5%,#fcd7c2 7.5%,#f9c6ac 11.7%,#f9c4a9 15%,#fcd5bf 20%,#fce2d2 24.2%,#f9efe9 32.5%,#f7f5f4 43.3%,#f7f6f6 81.7%)"></i><i style="background:linear-gradient(#8a0b25 0%,#870a24 0.8%,#bb2a34 1.7%,#f5ac8b 2.5%,#fcdecd 3.3%,#fcdecd 5%,#fcd7c2 7.5%,#fac8af 11.7%,#f9c4a9 14.2%,#fcd5bf 20%,#fbe4d6 25%,#f8f2ef 35.8%,#f7f6f6 49.2%,#f7f6f6 81.7%)"></i><i style="background:linear-gradient(#8a0b25 0%,#870a24 0.8%,#bb2a34 1.7%,#f6af8e 2.5%,#fcdecd 3.3%,#fcdecd 5%,#fbd0b9 9.2%,#f9c6ac 12.5%,#f9c4a9 14.2%,#fcd3bc 19.2%,#fbe4d6 25%,#f8f2ef 35.8%,#f7f6f6 49.2%,#f7f6f6 81.7%)"></i><i style="background:linear-gradient(#8a0b25 0%,#870a24 0.8%,#bb2a34 1.7%,#f6af8e 2.5%,#fcdecd 3.3%,#fcdecd 5%,#fcd5bf 8.3%,#f9c6ac 12.5%,#fac8af 15.8%,#fcd7c2 20%,#fbe6da 25.8%,#f8f1ed 34.2%,#f7f5f4 43.3%,#f7f6f6 81.7%)"></i><i style="background:linear-gradient(#8a0b25 0%,#870a24 0.8%,#bb2a34 1.7%,#f6af8e 2.5%,#fcdecd 3.3%,#fcdecd 5%,#fcd5bf 8.3%,#fac8af 11.7%,#f9c6ac 14.2%,#facab1 16.7%,#fcdfcf 22.5%,#f9eee7 30.8%,#f7f5f4 41.7%,#f7f6f6 81.7%)"></i><i style="background:linear-gradient(#8a0b25 0%,#870a24 0.8%,#bb2a34 1.7%,#f6af8e 2.5%,#fcdecd 3.3%,#fce0d0 4.2%,#fdd9c4 7.5%,#facab1 11.7%,#fac8af 15%,#fcd5bf 19.2%,#fbe5d8 25%,#f8f2ef 35%,#f7f6f6 48.3%,#f7f6f6 81.7%)"></i><i style="background:linear-gradient(#8a0b25 0%,#870a24 0.8%,#bb2a34 1.7%,#f6af8e 2.5%,#fcdfcf 3.3%,#fcdfcf 5%,#fac8af 12.5%,#facab1 15.8%,#fce2d2 23.3%,#f9ede5 30%,#f8f3f0 36.7%,#f7f6f6 50%,#f7f6f6 81.7%)"></i><i style="background:linear-gradient(#8a0b25 0%,#870a24 0.8%,#bb2a34 1.7%,#f6af8e 2.5%,#fcdfcf 3.3%,#fcdfcf 5%,#fac8af 13.3%,#fcd3bc 18.3%,#fddcc9 20.8%,#fae8de 26.7%,#f8f2ef 34.2%,#f7f6f6 47.5%,#f7f6f6 78.3%)"></i><i style="background:linear-gradient(#8a0b25 0%,#870a24 0.8%,#bb2a34 1.7%,#f6af8e 2.5%,#fcdfcf 3.3%,#fcdfcf 5%,#fcd5bf 9.2%,#facab1 12.5%,#fbceb7 16.7%,#fcdfcf 21.7%,#f9eee7 30%,#f7f5f4 40.8%,#f7f6f6 81.7%)"></i><i style="background:linear-gradient(#8a0b25 0%,#870a24 0.8%,#bd2d35 1.7%,#f6b191 2.5%,#fcdfcf 3.3%,#fcdfcf 5%,#fcd3bc 10%,#fbccb4 11.7%,#facab1 13.3%,#fcd3bc 17.5%,#fce2d2 22.5%,#f9f0eb 31.7%,#f7f5f4 40.8%,#f7f6f6 81.7%)"></i><i style="background:linear-gradient(#8a0b25 0%,#870a24 0.8%,#bd2d35 1.7%,#f6b191 2.5%,#fcdfcf 3.3%,#fce2d2 4.2%,#fbccb4 12.5%,#fbceb7 15%,#fae7dc 25%,#f8f2ef 33.3%,#f7f6f6 45%,#f7f6f6 81.7%)"></i><i style="background:linear-gradient(#8a0b25 0%,#870a24 0.8%,#bd2d35 1.7%,#f6b191 2.5%,#fce0d0 3.3%,#fce0d0 5%,#fbceb7 11.7%,#fbd0b9 15.8%,#fae7dc 25%,#f8f4f2 35%,#f7f6f6 54.2%,#f7f6f6 81.7%)"></i><i style="background:linear-gradient(#8a0b25 0%,#870a24 0.8%,#bd2d35 1.7%,#f6b394 2.5%,#fce0d0 3.3%,#fce0d0 5%,#fbceb7 12.5%,#fbd0b9 15%,#f9ede5 27.5%,#f8f4f2 34.2%,#f7f6f6 50.8%,#f7f6f6 81.7%)"></i><i style="background:linear-gradient(#8a0b25 0%,#870a24 0.8%,#bd2d35 1.7%,#f6b394 2.5%,#fce2d2 3.3%,#fddbc7 8.3%,#fbd0b9 11.7%,#fcd3bc 15.8%,#fae7dc 24.2%,#f8f3f0 31.7%,#f7f6f6 40%,#f7f6f6 81.7%)"></i><i style="background:linear-gradient(#8a0b25 0%,#870a24 0.8%,#be3036 1.7%,#f7b596 2.5%,#fce2d2 3.3%,#fbe3d4 4.2%,#fcd3bc 10.8%,#fbd0b9 14.2%,#faeae1 25.8%,#f7f5f4 32.5%,#f7f6f6 81.7%)"></i><i style="background:linear-gradient(#8a0b25 0%,#870a24 0.8%,#be3036 1.7%,#f7b799 2.5%,#fbe4d6 3.3%,#fcd3bc 12.5%,#fcd5bf 15%,#f7f6f6 32.5%,#f7f6f6 81.7%)"></i><i style="background:linear-gradient(#8a0b25 0%,#870a24 0.8%,#bf3338 1.7%,#f8bb9e 2.5%,#fbe5d8 3.3%,#fcd5bf 10.8%,#fcd3bc 13.3%,#fae8de 24.2%,#f7f6f6 32.5%,#f7f6f6 83.3%)"></i><i style="background:linear-gradient(#8a0b25 0%,#8a0b25 0.8%,#c13639 1.7%,#f8bfa4 2.5%,#fae7dc 3.3%,#fcdecd 6.7%,#fcd5bf 11.7%,#fcd7c2 15%,#f7f6f6 31.7%,#f7f6f6 89.2%)"></i><i style="background:linear-gradient(#8a0b25 0%,#8a0b25 0.8%,#c2383a 1.7%,#f9c6ac 2.5%,#faeae1 3.3%,#fce2d2 5%,#fcd5bf 12.5%,#fdd9c4 15.8%,#f7f6f6 31.7%,#f7f6f6 91.7%)"></i><i style="background:linear-gradient(#8a0b25 0%,#8a0b25 0.8%,#c43b3c 1.7%,#fbccb4 2.5%,#f9ede5 3.3%,#fce2d2 5%,#fcd7c2 11.7%,#fdd9c4 15%,#f7f6f6 31.7%,#f7f6f6 76.7%)"></i><i style="background:linear-gradient(#8a0b25 0%,#8a0b25 0.8%,#c6413e 1.7%,#fcd5bf 2.5%,#f8f1ed 3.3%,#fae8de 4.2%,#fbe3d4 5%,#fcd7c2 11.7%,#fddbc7 15.8%,#f7f5f4 31.7%,#f7f6f6 48.3%,#f7f6f6 55.8%)"></i><i style="background:linear-gradient(#8a0b25 0%,#8d0c25 0.8%,#c94741 1.7%,#fddcc9 2.5%,#f7f5f4 3.3%,#fae9df 4.2%,#fbe3d4 5%,#fcd7c2 12.5%,#fae9df 24.2%,#f7f5f4 31.7%,#f7f6f6 42.5%)"></i><i style="background:linear-gradient(#8a0b25 0%,#8d0c25 0.8%,#cc4c44 1.7%,#fce2d2 2.5%,#f3f5f6 3.3%,#fbe3d4 5%,#fdd9c4 11.7%,#fddbc7 15%,#f8f4f2 31.7%)"></i><i style="background:linear-gradient(#8a0b25 0%,#8d0c25 0.8%,#ce4f45 1.7%,#fbe6da 2.5%,#edf2f5 3.3%,#f9ede5 4.2%,#fbe4d6 5%,#fddcc9 9.2%,#fdd9c4 13.3%,#fbe6da 21.7%)"></i><i style="background:linear-gradient(#8a0b25 0%,#8d0c25 0.8%,#d05548 1.7%,#faeae1 2.5%,#e7f0f4 3.3%,#f9eee7 4.2%,#fbe4d6 5%,#fddcc9 9.2%,#fdd9c4 12.5%)"></i><i style="background:linear-gradient(#8a0b25 0%,#900d26 0.8%,#d25849 1.7%,#f9efe9 2.5%,#e3edf3 3.3%,#f9efe9 4.2%,#fbe4d6 5%,#fddbc7 11.7%)"></i><i style="background:linear-gradient(#8a0b25 0%,#900d26 0.8%,#d35a4a 1.7%,#f8f1ed 2.5%,#e0ecf3 3.3%,#f9f0eb 4.2%,#fbe4d6 5%,#fddbc7 11.7%)"></i><i style="background:linear-gradient(#8a0b25 0%,#900d26 0.8%,#d55d4c 1.7%,#f8f2ef 2.5%,#deebf2 3.3%,#f8f1ed 4.2%,#fbe5d8 5%,#fce0d0 6.7%,#fddbc7 11.7%)"></i></div></foreignObject></g>
<rect x="429.5" y="579" width="279" height="163" fill="#f7f7f7"/>
<g clip-path="url(#clipC2)"><foreignObject x="429" y="579" width="280" height="163"><div class="hm" style="--w:1px"><i style="background:#f6f7f7"></i><i style="background:#f6f7f7"></i><i style="background:#f6f7f7"></i><i style="background:#f6f7f7"></i><i style="background:#f6f7f7"></i><i style="background:#f6f7f7"></i><i style="background:#f6f7f7"></i><i style="background:#f6f7f7"></i><i style="background:#f6f7f7"></i><i style="background:linear-gradient(#0e4179 0%,#053061 1.7%,#144e8a 2.5%,#2e77b5 3.3%,#3783bb 8.3%)"></i><i style="background:linear-gradient(#f6f7f7 0%,#408fc1 0.8%,#2a71b2 1.7%,#2b73b3 2.5%,#3e8cbf 3.3%,#2e77b5 7.5%,#2a71b2 15%,#3c8abe 25.8%,#569fc9 30.8%,#81bad8 36.7%)"></i><i style="background:linear-gradient(#f6f7f7 0%,#b1d5e7 0.8%,#68abd0 1.7%,#6eaed2 2.5%,#acd2e5 3.3%,#93c6de 5%,#7eb8d7 5.8%,#59a1ca 9.2%,#4393c3 11.7%,#3c8abe 19.2%,#4695c4 26.7%,#75b2d4 35.8%,#84bcd9 37.5%,#cae1ee 41.7%,#e0ecf3 44.2%,#e9f0f4 45.8%)"></i><i style="background:linear-gradient(#f6f7f7 0%,#b1d5e7 0.8%,#68abd0 1.7%,#71b0d3 2.5%,#acd2e5 3.3%,#a5cee3 4.2%,#96c7df 5%,#7eb8d7 5.8%,#5ca3cb 9.2%,#4393c3 12.5%,#3e8cbf 20%,#4695c4 25%,#59a1ca 30%,#71b0d3 35%,#81bad8 36.7%,#d1e5f0 41.7%,#eff3f5 46.7%,#f6f7f7 52.5%,#f6f7f7 55%)"></i><i style="background:linear-gradient(#f6f7f7 0%,#408fc1 0.8%,#2a71b2 1.7%,#2c75b4 2.5%,#3f8ec0 3.3%,#307ab6 7.5%,#2b73b3 13.3%,#3a87bd 23.3%,#4997c5 27.5%,#81bad8 35%,#a5cee3 36.7%,#d2e6f0 40%,#f2f5f6 45.8%,#f7f6f6 55%,#f6f7f7 64.2%)"></i><i style="background:linear-gradient(#f6f7f7 0%,#307ab6 0.8%,#1b5a9c 1.7%,#1e61a5 2.5%,#307ab6 3.3%,#266caf 7.5%,#276eb0 14.2%,#4393c3 26.7%,#84bcd9 33.3%,#a7d0e4 35%,#d1e5f0 37.5%,#e7f0f4 41.7%,#f7f5f4 48.3%,#f6f7f7 57.5%)"></i><i style="background:linear-gradient(#f6f7f7 0%,#408fc1 0.8%,#2a71b2 1.7%,#2e77b5 2.5%,#408fc1 3.3%,#327cb7 7.5%,#2c75b4 13.3%,#3885bc 21.7%,#4997c5 26.7%,#87beda 34.2%,#cce2ef 38.3%,#eaf1f5 42.5%,#f7f6f6 46.7%,#f7f5f4 56.7%,#f6f7f7 67.5%)"></i><i style="background:linear-gradient(#f6f7f7 0%,#b1d5e7 0.8%,#68abd0 1.7%,#75b2d4 2.5%,#b1d5e7 3.3%,#acd2e5 4.2%,#a0cce2 5%,#87beda 5.8%,#6bacd1 8.3%,#4997c5 11.7%,#4291c2 15.8%,#4695c4 22.5%,#78b4d5 32.5%,#8ac0db 35%,#c2ddec 38.3%,#e3edf3 41.7%,#f6f7f7 45%,#f8f1ed 50%,#f6f7f7 64.2%,#f6f7f7 67.5%)"></i><i style="background:linear-gradient(#f6f7f7 0%,#b1d5e7 0.8%,#68abd0 1.7%,#75b2d4 2.5%,#b3d6e8 3.3%,#aed3e6 4.2%,#a2cde3 5%,#7eb8d7 6.7%,#68abd0 9.2%,#4c99c6 11.7%,#4393c3 15%,#4695c4 20.8%,#5ca3cb 26.7%,#81bad8 33.3%,#d4e6f1 39.2%,#f6f7f7 44.2%,#f9f0eb 50%,#f6f7f7 64.2%,#f6f7f7 67.5%)"></i><i style="background:linear-gradient(#f6f7f7 0%,#408fc1 0.8%,#2a71b2 1.7%,#2e77b5 2.5%,#4291c2 3.3%,#337eb8 8.3%,#2f79b5 12.5%,#3c8abe 21.7%,#4997c5 25%,#7eb8d7 31.7%,#bddbea 35.8%,#d4e6f1 37.5%,#f6f7f7 43.3%,#f9ede5 50.8%,#f7f6f6 60%,#f7f6f6 61.7%)"></i><i style="background:linear-gradient(#f6f7f7 0%,#307ab6 0.8%,#1b5a9c 1.7%,#1f63a8 2.5%,#337eb8 3.3%,#2b73b3 7.5%,#2870b1 12.5%,#4695c4 25%,#81bad8 30.8%,#bddbea 34.2%,#dbeaf2 36.7%,#f6f7f7 42.5%,#f8f1ed 55%,#f6f7f7 65%,#f6f7f7 68.3%)"></i><i style="background:linear-gradient(#f6f7f7 0%,#408fc1 0.8%,#2a71b2 1.7%,#2f79b5 2.5%,#4393c3 3.3%,#3783bb 7.5%,#307ab6 12.5%,#3b88be 20%,#4997c5 24.2%,#84bcd9 30.8%,#b6d7e8 34.2%,#dbeaf2 37.5%,#f7f6f6 42.5%,#f9efe9 47.5%,#f6f7f7 64.2%,#f6f7f7 95%)"></i><i style="background:linear-gradient(#f6f7f7 0%,#b1d5e7 0.8%,#68abd0 1.7%,#78b4d5 2.5%,#bbdaea 3.3%,#acd2e5 5%,#7eb8d7 7.5%,#529dc8 11.7%,#4997c5 15%,#4f9bc7 20%,#68abd0 25.8%,#8dc2dc 30.8%,#dae9f2 37.5%,#f7f6f6 41.7%,#faeae1 45.8%,#f9ede5 51.7%,#f7f6f6 60.8%,#f6f7f7 95%)"></i><i style="background:linear-gradient(#f6f7f7 0%,#b1d5e7 0.8%,#68abd0 1.7%,#7bb6d6 2.5%,#bbdaea 3.3%,#b8d8e9 4.2%,#90c4dd 6.7%,#78b4d5 8.3%,#569fc9 11.7%,#4c99c6 15%,#59a1ca 21.7%,#7eb8d7 28.3%,#d8e9f1 36.7%,#f6f7f7 40.8%,#faeae1 45%,#fae9df 50%,#f7f6f6 60.8%,#f6f7f7 90%)"></i><i style="background:linear-gradient(#f6f7f7 0%,#408fc1 0.8%,#2a71b2 1.7%,#307ab6 2.5%,#4695c4 3.3%,#327cb7 11.7%,#408fc1 20%,#529dc8 23.3%,#75b2d4 27.5%,#87beda 29.2%,#b1d5e7 31.7%,#d5e7f1 35%,#f7f5f4 40.8%,#f9ede5 45%,#f9efe9 50.8%,#f7f6f6 61.7%,#f6f7f7 84.2%)"></i><i style="background:linear-gradient(#f6f7f7 0%,#307ab6 0.8%,#1b5a9c 1.7%,#2267ac 2.5%,#3681ba 3.3%,#2c75b4 12.5%,#4393c3 20.8%,#6eaed2 26.7%,#81bad8 28.3%,#cce2ef 32.5%,#eff3f5 37.5%,#f8f4f2 40.8%,#f8f1ed 46.7%,#f7f6f6 60.8%,#f6f7f7 82.5%)"></i><i style="background:linear-gradient(#f6f7f7 0%,#408fc1 0.8%,#2a71b2 1.7%,#327cb7 2.5%,#4997c5 3.3%,#3480b9 10.8%,#3f8ec0 18.3%,#569fc9 22.5%,#81bad8 27.5%,#b8d8e9 30.8%,#d4e6f1 33.3%,#f6f7f7 39.2%,#faeae1 44.2%,#f9ede5 50%,#f7f6f6 60.8%,#f6f7f7 85%)"></i><i style="background:linear-gradient(#f6f7f7 0%,#b1d5e7 0.8%,#68abd0 1.7%,#7eb8d7 2.5%,#c2ddec 3.3%,#bbdaea 5%,#93c6de 7.5%,#7eb8d7 8.3%,#5fa5cd 11.7%,#59a1ca 15%,#6bacd1 21.7%,#87beda 25.8%,#b8d8e9 30%,#d5e7f1 33.3%,#f5f6f7 38.3%,#fbe4d6 44.2%,#fbe3d4 48.3%,#f7f5f4 60%,#f6f7f7 88.3%)"></i><i style="background:linear-gradient(#f6f7f7 0%,#b1d5e7 0.8%,#68abd0 1.7%,#81bad8 2.5%,#c5dfec 3.3%,#bddbea 5%,#a9d1e5 6.7%,#81bad8 8.3%,#62a7ce 11.7%,#62a7ce 17.5%,#7bb6d6 23.3%,#cae1ee 30.8%,#f7f5f4 38.3%,#fbe4d6 43.3%,#fce2d2 47.5%,#f7f5f4 60%,#f6f7f7 90%)"></i><i style="background:linear-gradient(#f6f7f7 0%,#408fc1 0.8%,#2a71b2 1.7%,#337eb8 2.5%,#4f9bc7 3.3%,#4695c4 5.8%,#3885bc 10%,#3b88be 14.2%,#4997c5 18.3%,#7eb8d7 25%,#cae1ee 30%,#eaf1f5 35%,#f6f7f7 37.5%,#fae8de 43.3%,#fae9df 49.2%,#f7f6f6 60%,#f6f7f7 91.7%)"></i><i style="background:linear-gradient(#f6f7f7 0%,#307ab6 0.8%,#1b5a9c 1.7%,#246aae 2.5%,#3b88be 3.3%,#327cb7 10.8%,#3f8ec0 16.7%,#71b0d3 23.3%,#81bad8 25%,#cae1ee 29.2%,#ecf2f5 34.2%,#f7f5f4 37.5%,#f9eee7 44.2%,#f7f6f6 60%,#f6f7f7 91.7%)"></i><i style="background:linear-gradient(#f6f7f7 0%,#408fc1 0.8%,#2a71b2 1.7%,#3681ba 2.5%,#569fc9 3.3%,#4c99c6 5.8%,#408fc1 7.5%,#3a87bd 11.7%,#4393c3 15.8%,#75b2d4 22.5%,#87beda 24.2%,#b1d5e7 26.7%,#d1e5f0 29.2%,#f7f6f6 36.7%,#fae8de 41.7%,#fbe5d8 45.8%,#f7f6f6 60%,#f6f7f7 91.7%)"></i><i style="background:linear-gradient(#f6f7f7 0%,#b1d5e7 0.8%,#68abd0 1.7%,#8dc2dc 2.5%,#cfe4ef 3.3%,#cae1ee 5%,#c2ddec 5.8%,#8dc2dc 8.3%,#78b4d5 10%,#6eaed2 12.5%,#71b0d3 15.8%,#84bcd9 20%,#d1e5f0 27.5%,#f6f7f7 35.8%,#fcdfcf 42.5%,#fddcc9 46.7%,#f8f4f2 59.2%,#f6f7f7 95%)"></i><i style="background:linear-gradient(#f6f7f7 0%,#b1d5e7 0.8%,#68abd0 1.7%,#90c4dd 2.5%,#cfe4ef 3.3%,#cfe4ef 5%,#c5dfec 5.8%,#84bcd9 9.2%,#71b0d3 11.7%,#75b2d4 15%,#87beda 19.2%,#d1e5f0 26.7%,#f7f5f4 35.8%,#fcdecd 42.5%,#fddcc9 46.7%,#fae7dc 52.5%,#f8f4f2 59.2%,#f6f7f7 95%)"></i><i style="background:linear-gradient(#f6f7f7 0%,#408fc1 0.8%,#2a71b2 1.7%,#3783bb 2.5%,#5ca3cb 3.3%,#5ca3cb 5%,#4393c3 7.5%,#3f8ec0 11.7%,#4997c5 15%,#81bad8 21.7%,#a0cce2 23.3%,#cce2ef 26.7%,#e6eff4 30.8%,#f6f7f7 35%,#fbe5d8 42.5%,#fbe6da 48.3%,#f7f5f4 59.2%,#f6f7f7 95%)"></i><i style="background:linear-gradient(#f6f7f7 0%,#307ab6 0.8%,#1b5a9c 1.7%,#2870b1 2.5%,#3f8ec0 3.3%,#3c8abe 5.8%,#3783bb 10%,#408fc1 14.2%,#529dc8 16.7%,#84bcd9 21.7%,#a2cde3 23.3%,#cfe4ef 26.7%,#ecf2f5 31.7%,#f8f4f2 35.8%,#f9ebe3 43.3%,#f7f6f6 59.2%,#f6f7f7 91.7%)"></i><i style="background:linear-gradient(#f6f7f7 0%,#408fc1 0.8%,#2a71b2 1.7%,#3885bc 2.5%,#5fa5cd 3.3%,#5fa5cd 5%,#4393c3 7.5%,#408fc1 11.7%,#529dc8 15%,#7eb8d7 20%,#87beda 20.8%,#a5cee3 22.5%,#cfe4ef 25.8%,#f0f4f6 32.5%,#f7f5f4 35%,#fbe5d8 41.7%,#fbe4d6 46.7%,#f7f5f4 59.2%,#f6f7f7 91.7%)"></i><i style="background:linear-gradient(#f6f7f7 0%,#b1d5e7 0.8%,#68abd0 1.7%,#d4e6f1 3.3%,#d4e6f1 5%,#87beda 10%,#7bb6d6 11.7%,#81bad8 15%,#cce2ef 23.3%,#eff3f5 31.7%,#f8f4f2 35%,#fddbc7 42.5%,#fcd7c2 45.8%,#fae8de 53.3%,#f8f3f0 59.2%,#f7f6f6 67.5%,#f6f7f7 91.7%)"></i><i style="background:linear-gradient(#f6f7f7 0%,#b1d5e7 0.8%,#68abd0 1.7%,#d5e7f1 3.3%,#d5e7f1 5%,#90c4dd 10%,#81bad8 11.7%,#8dc2dc 15%,#d1e5f0 23.3%,#f7f5f4 34.2%,#fddbc7 42.5%,#fcd5bf 45%,#fbe4d6 51.7%,#f8f3f0 59.2%,#f7f6f6 67.5%,#f6f7f7 91.7%)"></i><i style="background:linear-gradient(#f6f7f7 0%,#408fc1 0.8%,#2a71b2 1.7%,#3b88be 2.5%,#68abd0 3.3%,#6bacd1 4.2%,#4c99c6 7.5%,#4695c4 10.8%,#5fa5cd 15%,#7eb8d7 18.3%,#bddbea 22.5%,#d7e8f1 25%,#f7f6f6 33.3%,#fbe3d4 41.7%,#fbe4d6 47.5%,#f8f4f2 57.5%,#f6f7f7 91.7%)"></i><i style="background:linear-gradient(#f6f7f7 0%,#307ab6 0.8%,#1b5a9c 1.7%,#2e77b5 2.5%,#4695c4 3.3%,#4c99c6 4.2%,#3f8ec0 6.7%,#3e8cbf 10%,#4997c5 13.3%,#7eb8d7 18.3%,#acd2e5 20.8%,#d4e6f1 24.2%,#f3f5f6 31.7%,#f8f3f0 35%,#faeae1 42.5%,#f7f6f6 59.2%,#f6f7f7 91.7%)"></i><i style="background:linear-gradient(#f6f7f7 0%,#408fc1 0.8%,#2a71b2 1.7%,#3e8cbf 2.5%,#6eaed2 3.3%,#71b0d3 4.2%,#569fc9 6.7%,#4c99c6 9.2%,#59a1ca 12.5%,#84bcd9 17.5%,#a2cde3 19.2%,#cfe4ef 22.5%,#edf2f5 29.2%,#f7f5f4 33.3%,#fbe3d4 41.7%,#fce2d2 45.8%,#f7f5f4 59.2%,#f6f7f7 91.7%)"></i><i style="background:linear-gradient(#f6f7f7 0%,#b1d5e7 0.8%,#68abd0 1.7%,#aed3e6 2.5%,#dae9f2 3.3%,#d8e9f1 5%,#a7d0e4 10%,#a5cee3 12.5%,#d5e7f1 20.8%,#f7f6f6 32.5%,#fcd3bc 44.2%,#fdd9c4 48.3%,#f8f2ef 58.3%,#f7f6f6 65.8%,#f6f7f7 95%)"></i><i style="background:linear-gradient(#f6f7f7 0%,#b1d5e7 0.8%,#68abd0 1.7%,#b1d5e7 2.5%,#dbeaf2 3.3%,#d8e9f1 5%,#b1d5e7 10%,#aed3e6 12.5%,#d7e8f1 20%,#f6f7f7 31.7%,#fbe5d8 38.3%,#fcd3bc 44.2%,#fdd9c4 48.3%,#f8f2ef 58.3%,#f7f6f6 65.8%,#f6f7f7 91.7%)"></i><i style="background:linear-gradient(#f6f7f7 0%,#408fc1 0.8%,#2a71b2 1.7%,#4291c2 2.5%,#78b4d5 3.3%,#7bb6d6 4.2%,#5fa5cd 6.7%,#5fa5cd 10%,#6bacd1 12.5%,#84bcd9 15%,#a2cde3 16.7%,#cfe4ef 20%,#ecf2f5 26.7%,#f7f5f4 32.5%,#fce0d0 42.5%,#fbe4d6 48.3%,#f8f4f2 57.5%,#f6f7f7 91.7%)"></i><i style="background:linear-gradient(#f6f7f7 0%,#307ab6 0.8%,#1b5a9c 1.7%,#3480b9 2.5%,#59a1ca 3.3%,#529dc8 5%,#4997c5 5.8%,#4997c5 8.3%,#5ca3cb 11.7%,#81bad8 15%,#a5cee3 16.7%,#cae1ee 19.2%,#e0ecf3 22.5%,#f7f6f6 31.7%,#fae9df 42.5%,#f7f6f6 58.3%,#f6f7f7 91.7%)"></i><i style="background:linear-gradient(#f6f7f7 0%,#408fc1 0.8%,#2a71b2 1.7%,#4695c4 2.5%,#81bad8 3.3%,#75b2d4 5%,#68abd0 6.7%,#65a9cf 9.2%,#7eb8d7 12.5%,#87beda 13.3%,#b3d6e8 15.8%,#d1e5f0 18.3%,#ecf2f5 25%,#f7f5f4 31.7%,#fce0d0 42.5%,#fbe4d6 48.3%,#f8f4f2 57.5%,#f6f7f7 91.7%)"></i><i style="background:linear-gradient(#f6f7f7 0%,#b1d5e7 0.8%,#68abd0 1.7%,#c0dceb 2.5%,#e1edf3 3.3%,#cae1ee 10%,#cfe4ef 12.5%,#eaf1f5 22.5%,#f7f5f4 31.7%,#fcd7c2 42.5%,#fcd3bc 44.2%,#fdd9c4 48.3%,#f8f2ef 58.3%,#f7f6f6 65.8%,#f6f7f7 91.7%)"></i><i style="background:linear-gradient(#f6f7f7 0%,#b1d5e7 0.8%,#68abd0 1.7%,#c5dfec 2.5%,#e1edf3 3.3%,#d1e5f0 9.2%,#dae9f2 14.2%,#f3f5f6 26.7%,#f8f3f0 32.5%,#fcd3bc 43.3%,#fcd7c2 47.5%,#f8f2ef 58.3%,#f7f6f6 65.8%,#f6f7f7 91.7%)"></i><i style="background:linear-gradient(#f6f7f7 0%,#408fc1 0.8%,#2a71b2 1.7%,#4f9bc7 2.5%,#96c7df 3.3%,#84bcd9 4.2%,#71b0d3 6.7%,#7eb8d7 10%,#96c7df 11.7%,#c2ddec 14.2%,#d8e9f1 16.7%,#eff3f5 24.2%,#f7f5f4 30.8%,#fce0d0 42.5%,#fbe4d6 48.3%,#f8f4f2 57.5%,#f6f7f7 91.7%)"></i><i style="background:linear-gradient(#f6f7f7 0%,#307ab6 0.8%,#1b5a9c 1.7%,#3b88be 2.5%,#6bacd1 3.3%,#5ca3cb 5.8%,#5ca3cb 7.5%,#7bb6d6 10.8%,#8ac0db 11.7%,#b3d6e8 13.3%,#d1e5f0 15%,#e9f0f4 20%,#f7f5f4 30.8%,#fae9df 42.5%,#f7f6f6 58.3%,#f6f7f7 91.7%)"></i><i style="background:linear-gradient(#f6f7f7 0%,#408fc1 0.8%,#2a71b2 1.7%,#59a1ca 2.5%,#9dcbe1 3.3%,#84bcd9 5%,#7bb6d6 7.5%,#87beda 9.2%,#d2e6f0 13.3%,#e7f0f4 17.5%,#f7f5f4 30.8%,#fce0d0 43.3%,#faeae1 51.7%,#f7f5f4 59.2%,#f6f7f7 91.7%)"></i><i style="background:linear-gradient(#f6f7f7 0%,#b1d5e7 0.8%,#68abd0 1.7%,#d1e5f0 2.5%,#e4eef4 3.3%,#dbeaf2 8.3%,#f0f4f6 17.5%,#f7f5f4 30.8%,#fae9df 36.7%,#fcd5bf 43.3%,#fcd5bf 45.8%,#faeae1 54.2%,#f7f6f6 62.5%,#f6f7f7 91.7%)"></i><i style="background:linear-gradient(#f6f7f7 0%,#b1d5e7 0.8%,#68abd0 1.7%,#d4e6f1 2.5%,#e6eff4 3.3%,#e0ecf3 8.3%,#f3f5f6 16.7%,#f7f5f4 30%,#f9ebe3 35.8%,#fdd9c4 42.5%,#fcd5bf 45.8%,#f8f2ef 58.3%,#f7f6f6 65.8%,#f6f7f7 95%)"></i><i style="background:linear-gradient(#f6f7f7 0%,#408fc1 0.8%,#2a71b2 1.7%,#68abd0 2.5%,#a9d1e5 3.3%,#96c7df 5.8%,#96c7df 6.7%,#a9d1e5 8.3%,#d7e8f1 10.8%,#f2f5f6 14.2%,#f6f7f7 21.7%,#f8f3f0 32.5%,#fce2d2 42.5%,#fbe6da 48.3%,#f7f5f4 59.2%,#f6f7f7 91.7%)"></i><i style="background:linear-gradient(#f6f7f7 0%,#307ab6 0.8%,#1b5a9c 1.7%,#4997c5 2.5%,#78b4d5 3.3%,#71b0d3 5.8%,#81bad8 7.5%,#cae1ee 10%,#e4eef4 11.7%,#f6f7f7 13.3%,#f8f2ef 17.5%,#f7f6f6 26.7%,#f9ebe3 40%,#f9ede5 45.8%,#f7f6f6 58.3%,#f6f7f7 91.7%)"></i><i style="background:linear-gradient(#f6f7f7 0%,#408fc1 0.8%,#2a71b2 1.7%,#71b0d3 2.5%,#aed3e6 3.3%,#a5cee3 5.8%,#b3d6e8 7.5%,#ddebf2 10%,#f7f6f6 12.5%,#f9efe9 15%,#f7f6f6 27.5%,#f9eee7 35.8%,#fbe3d4 42.5%,#fae7dc 48.3%,#f7f5f4 58.3%,#f6f7f7 91.7%)"></i><i style="background:linear-gradient(#f6f7f7 0%,#b1d5e7 0.8%,#68abd0 1.7%,#dbeaf2 2.5%,#e7f0f4 3.3%,#e9f0f4 8.3%,#f8f4f2 12.5%,#f9f0eb 16.7%,#f7f6f6 26.7%,#f9f0eb 34.2%,#fddcc9 42.5%,#fddbc7 45%,#fbe4d6 50.8%,#f8f4f2 59.2%,#f6f7f7 91.7%)"></i><i style="background:linear-gradient(#f6f7f7 0%,#b1d5e7 0.8%,#68abd0 1.7%,#ddebf2 2.5%,#e9f0f4 3.3%,#ecf2f5 8.3%,#f8f4f2 11.7%,#f9eee7 14.2%,#f8f2ef 21.7%,#f7f5f4 30%,#f9ebe3 35.8%,#fddcc9 42.5%,#fdddcb 46.7%,#f8f4f2 59.2%,#f6f7f7 91.7%)"></i><i style="background:linear-gradient(#f6f7f7 0%,#408fc1 0.8%,#2a71b2 1.7%,#7eb8d7 2.5%,#b8d8e9 3.3%,#b8d8e9 5.8%,#f3f5f6 10%,#fbe3d4 13.3%,#fce2d2 15.8%,#f8f4f2 25%,#f8f3f0 32.5%,#fbe4d6 42.5%,#fae8de 48.3%,#f7f6f6 60%,#f6f7f7 91.7%)"></i><i style="background:linear-gradient(#f6f7f7 0%,#307ab6 0.8%,#1b5a9c 1.7%,#5fa5cd 2.5%,#87beda 3.3%,#8ac0db 5%,#96c7df 5.8%,#eaf1f5 9.2%,#f8f4f2 10%,#fce2d2 11.7%,#fcd3bc 14.2%,#f9efe9 22.5%,#f8f4f2 28.3%,#f9ede5 42.5%,#f7f6f6 59.2%,#f6f7f7 91.7%)"></i><i style="background:linear-gradient(#f6f7f7 0%,#408fc1 0.8%,#2a71b2 1.7%,#87beda 2.5%,#bddbea 3.3%,#c5dfec 5.8%,#f3f5f6 9.2%,#fce0d0 11.7%,#fcd5bf 14.2%,#fcdecd 17.5%,#f8f1ed 24.2%,#f8f4f2 30%,#faeae1 38.3%,#fbe5d8 43.3%,#f7f5f4 58.3%,#f6f7f7 91.7%)"></i><i style="background:linear-gradient(#f6f7f7 0%,#b1d5e7 0.8%,#68abd0 1.7%,#e3edf3 2.5%,#eaf1f5 3.3%,#f3f5f6 8.3%,#f7f6f6 9.2%,#fbe5d8 13.3%,#fbe6da 17.5%,#f8f4f2 27.5%,#f8f1ed 33.3%,#fcdfcf 42.5%,#fbe5d8 48.3%,#f7f5f4 60%,#f6f7f7 95%)"></i><i style="background:linear-gradient(#f6f7f7 0%,#b1d5e7 0.8%,#68abd0 1.7%,#e4eef4 2.5%,#ecf2f5 5%,#f6f7f7 8.3%,#fbe3d4 13.3%,#fce2d2 16.7%,#f8f3f0 26.7%,#f8f2ef 32.5%,#fce0d0 42.5%,#f9eee7 53.3%,#f7f6f6 62.5%,#f6f7f7 95%)"></i><i style="background:linear-gradient(#f6f7f7 0%,#408fc1 0.8%,#2a71b2 1.7%,#a0cce2 2.5%,#c7e0ed 3.3%,#e0ecf3 6.7%,#f7f5f4 8.3%,#f9c6ac 11.7%,#f7b99c 13.3%,#f7b99c 15%,#fcdecd 20%,#f8f1ed 25.8%,#f8f3f0 32.5%,#fae7dc 42.5%,#f7f5f4 58.3%,#f6f7f7 95%)"></i><i style="background:linear-gradient(#f6f7f7 0%,#307ab6 0.8%,#1b5a9c 1.7%,#71b0d3 2.5%,#a2cde3 3.3%,#b6d7e8 5%,#edf2f5 7.5%,#f9f0eb 8.3%,#fbd0b9 10%,#f5a886 11.7%,#ef9979 13.3%,#f3a481 15%,#fcdecd 20.8%,#f9eee7 25%,#f8f3f0 30%,#f9eee7 42.5%,#f7f6f6 56.7%,#f6f7f7 91.7%)"></i><i style="background:linear-gradient(#f6f7f7 0%,#408fc1 0.8%,#2a71b2 1.7%,#acd2e5 2.5%,#cce2ef 3.3%,#ddebf2 5.8%,#f5f6f7 7.5%,#fcd7c2 10%,#f7b596 11.7%,#f5a886 13.3%,#f5aa89 15%,#fdddcb 20.8%,#f9efe9 25.8%,#f8f3f0 31.7%,#fae8de 42.5%,#f7f5f4 57.5%,#f6f7f7 91.7%)"></i><i style="background:linear-gradient(#f6f7f7 0%,#6bacd1 1.7%,#e7f0f4 2.5%,#eff3f5 5%,#f7f6f6 7.5%,#fddcc9 12.5%,#fcd5bf 15%,#fce0d0 20%,#f9f0eb 26.7%,#f8f3f0 31.7%,#fbe4d6 42.5%,#f7f5f4 59.2%,#f6f7f7 91.7%)"></i><i style="background:linear-gradient(#f6f7f7 0%,#6eaed2 1.7%,#e9f0f4 2.5%,#f7f5f4 7.5%,#fcd3bc 13.3%,#fbceb7 15%,#fddbc7 19.2%,#f9f0eb 26.7%,#f8f2ef 32.5%,#fbe5d8 41.7%,#fae9df 47.5%,#f8f3f0 55.8%,#f7f6f6 70.8%,#f6f7f7 91.7%)"></i><i style="background:linear-gradient(#f6f7f7 0%,#408fc1 0.8%,#2e77b5 1.7%,#bbdaea 2.5%,#d4e6f1 3.3%,#e7f0f4 5.8%,#f3f5f6 6.7%,#f9efe9 7.5%,#fcd3bc 9.2%,#f5aa89 10.8%,#ef9979 11.7%,#eb9172 14.2%,#ee9677 15.8%,#f6b394 18.3%,#fdd9c4 21.7%,#f9eee7 26.7%,#f8f2ef 32.5%,#faeae1 42.5%,#f7f5f4 56.7%,#f6f7f7 91.7%)"></i><i style="background:linear-gradient(#f6f7f7 0%,#307ab6 0.8%,#1f63a8 1.7%,#8ac0db 2.5%,#b6d7e8 3.3%,#f7f6f6 6.7%,#fcd3bc 8.3%,#ef9979 10%,#e58368 11.7%,#e48066 14.2%,#ee9677 17.5%,#fbd0b9 21.7%,#fbe6da 25%,#f8f2ef 30%,#f9f0eb 44.2%,#f7f6f6 56.7%,#f6f7f7 91.7%)"></i><i style="background:linear-gradient(#f6f7f7 0%,#408fc1 0.8%,#307ab6 1.7%,#c2ddec 2.5%,#d7e8f1 3.3%,#f8f4f2 6.7%,#fddcc9 8.3%,#f6af8e 10%,#ef9979 10.8%,#ea8e70 11.7%,#e8896c 14.2%,#ef9979 17.5%,#f3a481 18.3%,#fbceb7 21.7%,#fce2d2 24.2%,#f9f0eb 29.2%,#f8f1ed 34.2%,#faeae1 43.3%,#f7f5f4 56.7%,#f6f7f7 95%)"></i><i style="background:linear-gradient(#f6f7f7 0%,#b1d5e7 0.8%,#7eb8d7 1.7%,#ecf2f5 2.5%,#f7f5f4 6.7%,#fddcc9 10.8%,#fac8af 12.5%,#f8bfa4 14.2%,#f8bfa4 15.8%,#facab1 19.2%,#fce2d2 23.3%,#f9f0eb 29.2%,#f9efe9 35%,#fbe6da 42.5%,#f7f5f4 58.3%,#f6f7f7 95%)"></i><i style="background:linear-gradient(#f6f7f7 0%,#b1d5e7 0.8%,#81bad8 1.7%,#ecf2f5 2.5%,#f6f7f7 5.8%,#fbe6da 9.2%,#fdd9c4 10.8%,#f9c4a9 12.5%,#f7b799 15%,#f9c6ac 19.2%,#fbe3d4 24.2%,#f9efe9 29.2%,#f9f0eb 34.2%,#fbe6da 42.5%,#f7f5f4 59.2%,#f6f7f7 95%)"></i><i style="background:linear-gradient(#f6f7f7 0%,#408fc1 0.8%,#3681ba 1.7%,#cce2ef 2.5%,#e4eef4 4.2%,#f7f6f6 5.8%,#fcdfcf 7.5%,#f6b191 9.2%,#ef9979 10%,#e48066 12.5%,#e48066 15%,#f09c7b 19.2%,#fcd3bc 23.3%,#fae7dc 26.7%,#f8f1ed 31.7%,#f9ebe3 44.2%,#f7f6f6 60%,#f6f7f7 95%)"></i><i style="background:linear-gradient(#f6f7f7 0%,#307ab6 0.8%,#276eb0 1.7%,#a5cee3 2.5%,#cce2ef 3.3%,#eaf1f5 5%,#f8f3f0 5.8%,#fbe4d6 6.7%,#fbccb4 7.5%,#f5aa89 8.3%,#eb9172 9.2%,#e27b62 10.8%,#de735c 11.7%,#de735c 14.2%,#eb9172 19.2%,#f5aa89 20.8%,#fcd5bf 24.2%,#fae8de 27.5%,#f8f1ed 31.7%,#f8f2ef 46.7%,#f7f6f6 60%,#f6f7f7 95%)"></i><i style="background:linear-gradient(#f6f7f7 0%,#408fc1 0.8%,#3885bc 1.7%,#cfe4ef 2.5%,#e7f0f4 4.2%,#f0f4f6 5%,#f8f3f0 5.8%,#fddbc7 7.5%,#f5a886 9.2%,#ec9374 10%,#e48066 11.7%,#e27b62 14.2%,#ea8e70 18.3%,#f09c7b 20%,#fcd5bf 24.2%,#fae7dc 27.5%,#f9f0eb 31.7%,#f9ede5 39.2%,#f9eee7 46.7%,#f7f6f6 60.8%,#f6f7f7 95%)"></i><i style="background:linear-gradient(#f6f7f7 0%,#b1d5e7 0.8%,#9bc9e0 1.7%,#edf2f5 2.5%,#f7f5f4 5.8%,#fbe3d4 9.2%,#fbd0b9 10.8%,#f9c2a7 11.7%,#f6af8e 14.2%,#f6af8e 16.7%,#f7b799 19.2%,#fcdfcf 25%,#f9ebe3 29.2%,#f9efe9 35%,#fae7dc 43.3%,#f9efe9 51.7%,#f7f6f6 63.3%,#f6f7f7 95%)"></i><i style="background:linear-gradient(#f6f7f7 0%,#b1d5e7 0.8%,#a2cde3 1.7%,#edf2f5 2.5%,#f6f7f7 5%,#fae7dc 8.3%,#fdd9c4 10%,#f8bfa4 11.7%,#f6af8e 13.3%,#f5a886 15.8%,#f6b394 19.2%,#fcdecd 25%,#f9ede5 30%,#f9eee7 35.8%,#fae7dc 44.2%,#f7f6f6 61.7%,#f6f7f7 95%)"></i><i style="background:linear-gradient(#f6f7f7 0%,#408fc1 0.8%,#3e8cbf 1.7%,#d2e6f0 2.5%,#edf2f5 4.2%,#f7f6f6 5%,#fce0d0 6.7%,#fbceb7 7.5%,#ee9677 9.2%,#e27b62 11.7%,#df765e 15%,#eb9172 20%,#f4a683 21.7%,#fddbc7 25.8%,#f9ebe3 30%,#f9f0eb 34.2%,#f9ebe3 45%,#f7f6f6 60.8%,#f6f7f7 95%)"></i><i style="background:linear-gradient(#f6f7f7 0%,#307ab6 0.8%,#2f79b5 1.7%,#b1d5e7 2.5%,#dae9f2 3.3%,#ecf2f5 4.2%,#f8f3f0 5%,#fbe5d8 5.8%,#fbceb7 6.7%,#f5ac8b 7.5%,#eb9172 8.3%,#dd7059 10.8%,#da6853 13.3%,#dd7059 15.8%,#eb9172 20.8%,#ef9979 21.7%,#facab1 25%,#fce0d0 27.5%,#f9ede5 30.8%,#f8f1ed 38.3%,#f8f2ef 47.5%,#f7f6f6 60.8%,#f6f7f7 95%)"></i><i style="background:linear-gradient(#f6f7f7 0%,#408fc1 0.8%,#408fc1 1.7%,#d4e6f1 2.5%,#f2f5f6 4.2%,#f8f3f0 5%,#fdddcb 6.7%,#f5aa89 8.3%,#ec9374 9.2%,#e37e64 10.8%,#de735c 14.2%,#e48066 18.3%,#ef9979 21.7%,#fcd5bf 25.8%,#fae7dc 29.2%,#f9efe9 34.2%,#f9ede5 46.7%,#f7f6f6 60.8%,#f6f7f7 95%)"></i><i style="background:linear-gradient(#f6f7f7 0%,#b1d5e7 0.8%,#b6d7e8 1.7%,#edf2f5 2.5%,#f7f5f4 5%,#faeae1 7.5%,#fcdecd 9.2%,#f5ac8b 12.5%,#ef9979 15%,#f19e7d 18.3%,#f9c4a9 23.3%,#fddbc7 25.8%,#f9ebe3 31.7%,#f9ede5 37.5%,#fae7dc 45%,#f7f6f6 60.8%,#f6f7f7 95%)"></i><i style="background:linear-gradient(#f6f7f7 0%,#b1d5e7 0.8%,#bbdaea 1.7%,#eff3f5 2.5%,#f7f5f4 5%,#fbe4d6 8.3%,#fbd0b9 10%,#f5aa89 12.5%,#ef9979 14.2%,#ef9979 18.3%,#f7b99c 22.5%,#fddcc9 26.7%,#faeae1 31.7%,#f9ebe3 38.3%,#fae7dc 45%,#f7f6f6 60.8%,#f6f7f7 95%)"></i><i style="background:linear-gradient(#f6f7f7 0%,#408fc1 0.8%,#4c99c6 1.7%,#d7e8f1 2.5%,#ecf2f5 3.3%,#f7f6f6 4.2%,#fbe4d6 5.8%,#fcd5bf 6.7%,#f19e7d 8.3%,#e58368 10%,#de735c 11.7%,#dc6e57 15%,#e98b6e 20.8%,#ee9677 22.5%,#f6b191 24.2%,#fddbc7 27.5%,#faeae1 31.7%,#f9eee7 37.5%,#f9ede5 45.8%,#f7f6f6 60.8%,#f6f7f7 95%)"></i><i style="background:linear-gradient(#f6f7f7 0%,#307ab6 0.8%,#3885bc 1.7%,#c0dceb 2.5%,#e6eff4 3.3%,#f8f4f2 4.2%,#fcd5bf 5.8%,#ec9374 7.5%,#e17860 9.2%,#d7634f 11.7%,#d7634f 15%,#e6866a 20.8%,#ef9979 23.3%,#fcd7c2 27.5%,#fae8de 30.8%,#f8f1ed 36.7%,#f8f3f0 49.2%,#f7f6f6 64.2%,#f6f7f7 95%)"></i><i style="background:linear-gradient(#f6f7f7 0%,#408fc1 0.8%,#569fc9 1.7%,#dae9f2 2.5%,#eff3f5 3.3%,#f8f4f2 4.2%,#fce0d0 5.8%,#fbceb7 6.7%,#ee9677 8.3%,#dd7059 11.7%,#db6b55 15%,#e6866a 20.8%,#ef9979 23.3%,#fbccb4 26.7%,#fdddcb 28.3%,#f9ebe3 33.3%,#f9efe9 48.3%,#f7f6f6 60.8%,#f6f7f7 91.7%)"></i><i style="background:linear-gradient(#f6f7f7 0%,#b1d5e7 0.8%,#eff3f5 2.5%,#f8f3f0 5%,#fae7dc 7.5%,#fddbc7 9.2%,#f6af8e 11.7%,#ef9979 13.3%,#eb9172 15.8%,#ee9677 20%,#f8bb9e 24.2%,#fddbc7 27.5%,#fae9df 32.5%,#f9ebe3 39.2%,#fae9df 46.7%,#f7f6f6 60.8%,#f6f7f7 91.7%)"></i><i style="background:linear-gradient(#f6f7f7 0%,#b1d5e7 0.8%,#d5e7f1 1.7%,#f0f4f6 2.5%,#f8f3f0 5%,#fce0d0 8.3%,#fdd9c4 9.2%,#f5ac8b 11.7%,#ee9677 13.3%,#eb9172 17.5%,#ef9979 20.8%,#f6b191 23.3%,#fdd9c4 27.5%,#fae7dc 31.7%,#f9ebe3 37.5%,#faeae1 47.5%,#f7f6f6 60.8%,#f6f7f7 91.7%)"></i><i style="background:linear-gradient(#f6f7f7 0%,#408fc1 0.8%,#6bacd1 1.7%,#deebf2 2.5%,#f3f5f6 3.3%,#fae7dc 5%,#fddcc9 5.8%,#f5ac8b 7.5%,#ec9374 8.3%,#de735c 10.8%,#da6853 14.2%,#e17860 19.2%,#ec9374 23.3%,#f5ac8b 25%,#fdd9c4 28.3%,#fae9df 32.5%,#f9efe9 38.3%,#f9f0eb 49.2%,#f7f6f6 61.7%,#f6f7f7 91.7%)"></i><i style="background:linear-gradient(#f6f7f7 0%,#307ab6 0.8%,#4f9bc7 1.7%,#d1e5f0 2.5%,#f3f5f6 3.3%,#fdddcb 5%,#f2a17f 6.7%,#e98b6e 7.5%,#db6b55 10%,#d35a4a 12.5%,#d6604d 15.8%,#ee9677 24.2%,#f2a17f 25%,#fcd5bf 28.3%,#fae7dc 31.7%,#f9f0eb 35.8%,#f7f6f6 61.7%,#f6f7f7 91.7%)"></i><i style="background:linear-gradient(#f6f7f7 0%,#408fc1 0.8%,#7bb6d6 1.7%,#e0ecf3 2.5%,#f6f7f7 3.3%,#fdd9c4 5.8%,#f5a886 7.5%,#eb9172 8.3%,#e27b62 10%,#db6b55 11.7%,#d86551 15%,#e37e64 20.8%,#ee9677 24.2%,#facab1 27.5%,#fddcc9 29.2%,#fae9df 33.3%,#f9efe9 39.2%,#f9f0eb 48.3%,#f7f6f6 62.5%,#f6f7f7 91.7%)"></i><i style="background:linear-gradient(#f6f7f7 0%,#b1d5e7 0.8%,#e1edf3 1.7%,#f2f5f6 2.5%,#f8f2ef 5%,#fcdfcf 8.3%,#f7b799 10.8%,#f4a683 11.7%,#ef9979 12.5%,#e98b6e 15%,#ea8e70 19.2%,#f09c7b 22.5%,#fcd7c2 28.3%,#fbe6da 32.5%,#f9ede5 38.3%,#f9ebe3 46.7%,#f7f6f6 60.8%,#f6f7f7 91.7%)"></i><i style="background:linear-gradient(#f6f7f7 0%,#b1d5e7 0.8%,#e3edf3 1.7%,#f2f5f6 2.5%,#f8f2ef 5%,#fbe5d8 7.5%,#fcd5bf 9.2%,#f3a481 11.7%,#ee9677 12.5%,#e98b6e 15.8%,#ea8e70 20%,#ef9979 22.5%,#f5ac8b 24.2%,#fcd5bf 28.3%,#fbe6da 32.5%,#f9ede5 38.3%,#f9eee7 49.2%,#f7f6f6 61.7%,#f6f7f7 91.7%)"></i><i style="background:linear-gradient(#f6f7f7 0%,#408fc1 0.8%,#a5cee3 1.7%,#e4eef4 2.5%,#f8f4f2 3.3%,#fce2d2 5%,#fcd3bc 5.8%,#f19e7d 7.5%,#e48066 9.2%,#da6853 11.7%,#d7634f 15%,#df765e 20%,#eb9172 24.2%,#ef9979 25%,#f7b596 26.7%,#fcd7c2 29.2%,#fbe6da 32.5%,#f9efe9 38.3%,#f8f2ef 50.8%,#f7f6f6 62.5%,#f6f7f7 91.7%)"></i><i style="background:linear-gradient(#f6f7f7 0%,#307ab6 0.8%,#78b4d5 1.7%,#dbeaf2 2.5%,#f8f2ef 3.3%,#fbceb7 5%,#f6b191 5.8%,#ec9374 6.7%,#e17860 8.3%,#d25849 11.7%,#d25849 15%,#e27b62 21.7%,#ec9374 25%,#f19e7d 25.8%,#facab1 28.3%,#fce0d0 30.8%,#f9efe9 35.8%,#f7f6f6 59.2%,#f6f7f7 91.7%)"></i><i style="background:linear-gradient(#f6f7f7 0%,#408fc1 0.8%,#b8d8e9 1.7%,#e7f0f4 2.5%,#f8f3f0 3.3%,#fce0d0 5%,#fbd0b9 5.8%,#f09c7b 7.5%,#e48066 9.2%,#da6853 11.7%,#d6604d 15%,#de735c 20%,#ea8e70 24.2%,#f3a481 25.8%,#fcd3bc 29.2%,#fce2d2 31.7%,#f9ebe3 35.8%,#f9f0eb 44.2%,#f7f6f6 63.3%,#f6f7f7 91.7%)"></i><i style="background:linear-gradient(#f6f7f7 0%,#b8d8e9 0.8%,#eaf1f5 1.7%,#f7f5f4 3.3%,#fae9df 6.7%,#fdddcb 8.3%,#f6b191 10.8%,#f19e7d 11.7%,#ea8e70 13.3%,#e6866a 15.8%,#e8896c 20%,#ee9677 23.3%,#f6b394 25.8%,#fddbc7 30%,#fae9df 35.8%,#f7f6f6 62.5%,#f6f7f7 88.3%)"></i><i style="background:linear-gradient(#f6f7f7 0%,#c5dfec 0.8%,#ecf2f5 1.7%,#f7f5f4 3.3%,#fbe4d6 7.5%,#fbd0b9 9.2%,#f09c7b 11.7%,#e6866a 15%,#e6866a 19.2%,#ec9374 23.3%,#f6b191 25.8%,#fdd9c4 30%,#fbe6da 34.2%,#f9ede5 40%,#f8f3f0 54.2%,#f7f6f6 66.7%,#f6f7f7 91.7%)"></i><i style="background:linear-gradient(#f6f7f7 0%,#59a1ca 0.8%,#d1e5f0 1.7%,#eaf1f5 2.5%,#f9f0eb 3.3%,#fdddcb 5%,#f6b394 6.7%,#ee9677 7.5%,#db6b55 10.8%,#d6604d 12.5%,#d6604d 15.8%,#de735c 20.8%,#eb9172 25%,#f4a683 26.7%,#fbccb4 29.2%,#fcdfcf 31.7%,#f9eee7 37.5%,#f7f6f6 61.7%,#f6f7f7 91.7%)"></i><i style="background:linear-gradient(#f6f7f7 0%,#408fc1 0.8%,#b3d6e8 1.7%,#e4eef4 2.5%,#f9ebe3 3.3%,#fddbc7 4.2%,#f4a683 5.8%,#ea8e70 6.7%,#de735c 8.3%,#d05548 11.7%,#cf5246 15%,#e17860 22.5%,#eb9172 25.8%,#f6af8e 27.5%,#fac8af 29.2%,#fddcc9 30.8%,#f9ebe3 35%,#f8f3f0 41.7%,#f7f6f6 70%,#f6f7f7 91.7%)"></i><i style="background:linear-gradient(#f6f7f7 0%,#6bacd1 0.8%,#d7e8f1 1.7%,#ecf2f5 2.5%,#f9efe9 3.3%,#fddcc9 5%,#ee9677 7.5%,#db6b55 10.8%,#d6604d 12.5%,#d6604d 16.7%,#e27b62 22.5%,#ec9374 25.8%,#f6af8e 27.5%,#fdd9c4 30.8%,#fbe6da 34.2%,#f9efe9 39.2%,#f7f6f6 62.5%,#f6f7f7 91.7%)"></i><i style="background:linear-gradient(#f6f7f7 0%,#ddebf2 0.8%,#eff3f5 1.7%,#f8f2ef 4.2%,#fae8de 6.7%,#fddcc9 8.3%,#f5ac8b 10.8%,#ee9677 11.7%,#e58368 15%,#e58368 20%,#ec9374 24.2%,#f6af8e 26.7%,#fbd0b9 30%,#fce2d2 33.3%,#f9ede5 39.2%,#f7f6f6 62.5%,#f6f7f7 91.7%)"></i><i style="background:linear-gradient(#f6f7f7 0%,#e1edf3 0.8%,#f0f4f6 1.7%,#f8f2ef 4.2%,#fae8de 6.7%,#fddcc9 8.3%,#f5ac8b 10.8%,#ee9677 11.7%,#e6866a 14.2%,#e48066 18.3%,#e6866a 21.7%,#ef9979 25%,#fbceb7 30%,#fcdecd 32.5%,#f9ebe3 38.3%,#f7f6f6 62.5%,#f6f7f7 91.7%)"></i><i style="background:linear-gradient(#f6f7f7 0%,#9dcbe1 0.8%,#e0ecf3 1.7%,#f0f4f6 2.5%,#fbe4d6 4.2%,#fddbc7 5%,#f6af8e 6.7%,#ec9374 7.5%,#de735c 10%,#d55d4c 12.5%,#d55d4c 16.7%,#e27b62 23.3%,#ee9677 26.7%,#f7b596 28.3%,#fcd5bf 30.8%,#fbe5d8 34.2%,#f9efe9 39.2%,#f7f6f6 61.7%,#f6f7f7 91.7%)"></i><i style="background:linear-gradient(#f6f7f7 0%,#7bb6d6 0.8%,#d5e7f1 1.7%,#edf2f5 2.5%,#fbe6da 3.3%,#fcd5bf 4.2%,#f19e7d 5.8%,#e37e64 7.5%,#d6604d 10%,#ce4f45 12.5%,#d05548 16.7%,#de735c 22.5%,#ec9374 26.7%,#f2a17f 27.5%,#fcd5bf 30.8%,#fae7dc 34.2%,#f8f1ed 38.3%,#f7f6f6 57.5%,#f6f7f7 91.7%)"></i><i style="background:linear-gradient(#f6f7f7 0%,#cce2ef 0.8%,#e4eef4 1.7%,#f2f5f6 2.5%,#fbe3d4 4.2%,#fddbc7 5%,#f5ac8b 6.7%,#ec9374 7.5%,#da6853 10.8%,#d35a4a 13.3%,#d6604d 18.3%,#e48066 24.2%,#ec9374 26.7%,#f2a17f 27.5%,#f9c6ac 30%,#fdd9c4 31.7%,#faeae1 36.7%,#f8f2ef 44.2%,#f7f6f6 64.2%,#f6f7f7 91.7%)"></i><i style="background:linear-gradient(#f6f7f7 0%,#eff3f5 0.8%,#f6f7f7 2.5%,#fbe3d4 7.5%,#fddcc9 8.3%,#f5aa89 10.8%,#ee9677 11.7%,#e48066 15%,#e37e64 19.2%,#ea8e70 24.2%,#ee9677 25.8%,#f8bfa4 29.2%,#fcdecd 33.3%,#f9ebe3 39.2%,#f7f6f6 58.3%,#f6f7f7 91.7%)"></i><i style="background:linear-gradient(#f6f7f7 0%,#f3f5f6 1.7%,#f8f4f2 3.3%,#fbe3d4 7.5%,#fddcc9 8.3%,#f5aa89 10.8%,#ee9677 11.7%,#e6866a 13.3%,#e27b62 19.2%,#e98b6e 24.2%,#f19e7d 26.7%,#f8bda1 29.2%,#fdddcb 33.3%,#f9ebe3 39.2%,#f7f5f4 55.8%,#f6f7f7 91.7%)"></i><i style="background:linear-gradient(#f6f7f7 0%,#e9f0f4 0.8%,#eaf1f5 1.7%,#f7f6f6 2.5%,#fce2d2 4.2%,#fdd9c4 5%,#f5ac8b 6.7%,#ec9374 7.5%,#d6604d 11.7%,#d25849 15.8%,#dd7059 22.5%,#ef9979 27.5%,#facab1 30.8%,#fcdecd 33.3%,#f9ede5 38.3%,#f8f4f2 49.2%,#f6f7f7 91.7%)"></i><i style="background:linear-gradient(#f6f7f7 0%,#e4eef4 0.8%,#e6eff4 1.7%,#f7f5f4 2.5%,#fbd0b9 4.2%,#ef9979 5.8%,#de735c 8.3%,#cf5246 11.7%,#cc4c44 15%,#da6853 21.7%,#e98b6e 26.7%,#ec9374 27.5%,#f8bfa4 30%,#fcd7c2 31.7%,#faeae1 35.8%,#f8f3f0 41.7%,#f7f6f6 63.3%,#f6f7f7 91.7%)"></i><i style="background:linear-gradient(#f6f7f7 0%,#edf2f5 0.8%,#eff3f5 1.7%,#f8f4f2 2.5%,#fdd9c4 5%,#f5ac8b 6.7%,#ec9374 7.5%,#d7634f 11.7%,#d25849 13.3%,#d25849 15.8%,#db6b55 21.7%,#e6866a 25.8%,#ee9677 27.5%,#fbd0b9 31.7%,#fce0d0 34.2%,#f9efe9 40%,#f7f6f6 55.8%,#f6f7f7 91.7%)"></i><i style="background:linear-gradient(#f6f7f7 0%,#f7f6f6 2.5%,#fae7dc 6.7%,#fddcc9 8.3%,#f8bfa4 10%,#f6af8e 10.8%,#ee9677 11.7%,#e48066 14.2%,#e17860 19.2%,#e98b6e 25%,#ee9677 26.7%,#f9c4a9 30.8%,#fdddcb 34.2%,#f9eee7 40.8%,#f7f6f6 57.5%,#f6f7f7 91.7%)"></i><i style="background:linear-gradient(#f6f7f7 0%,#f8f3f0 3.3%,#fae7dc 6.7%,#fdddcb 8.3%,#fcd3bc 9.2%,#f6af8e 10.8%,#ee9677 11.7%,#e27b62 15%,#e27b62 20.8%,#e98b6e 25%,#f09c7b 27.5%,#facab1 31.7%,#fcdecd 35%,#faeae1 39.2%,#f8f3f0 48.3%,#f7f6f6 67.5%,#f6f7f7 88.3%)"></i><i style="background:linear-gradient(#f6f7f7 0%,#f5f6f7 1.7%,#fcd7c2 5%,#f5ac8b 6.7%,#ee9677 7.5%,#d7634f 11.7%,#d05548 14.2%,#d55d4c 19.2%,#e27b62 25%,#ef9979 28.3%,#f7b596 30%,#fddbc7 33.3%,#f9ebe3 38.3%,#f8f3f0 45%,#f7f6f6 66.7%,#f6f7f7 85%)"></i><i style="background:linear-gradient(#f6f7f7 0%,#f7f6f6 1.7%,#fcdfcf 3.3%,#f7b596 5%,#ef9979 5.8%,#e17860 8.3%,#d05548 11.7%,#cb4942 13.3%,#cf5246 17.5%,#dc6e57 23.3%,#e37e64 25.8%,#ee9677 28.3%,#f9c2a7 30.8%,#fdddcb 33.3%,#f9ede5 37.5%,#f7f5f4 45%,#f7f6f6 79.2%)"></i><i style="background:linear-gradient(#f6f7f7 0%,#f9f0eb 2.5%,#fcd7c2 5%,#ef9979 7.5%,#d55d4c 12.5%,#cf5246 15%,#db6b55 22.5%,#e6866a 26.7%,#ee9677 28.3%,#fbd0b9 32.5%,#fbe4d6 35.8%,#f9f0eb 41.7%,#f7f6f6 54.2%,#f7f6f6 73.3%)"></i><i style="background:linear-gradient(#f6f7f7 0%,#f9efe9 5%,#fdd9c4 9.2%,#f7b799 10.8%,#f09c7b 11.7%,#e6866a 13.3%,#e27b62 15%,#df765e 20%,#e6866a 25%,#ec9374 27.5%,#f9c2a7 31.7%,#fddbc7 35%,#fae9df 39.2%,#f8f3f0 47.5%,#f7f6f6 66.7%,#f7f6f6 67.5%)"></i><i style="background:linear-gradient(#f6f7f7 0%,#f9eee7 7.5%,#fce2d2 10.8%,#f9c4a9 13.3%,#f6b394 15%,#f4a683 18.3%,#f5ac8b 22.5%,#fdddcb 30.8%,#f9f0eb 40%,#f7f6f6 53.3%,#f7f6f6 65%)"></i><i style="background:linear-gradient(#f6f7f7 0%,#f9ebe3 3.3%,#fac8af 8.3%,#f6b394 10%,#f2a17f 10.8%,#e6866a 12.5%,#df765e 15%,#dd7059 18.3%,#e37e64 24.2%,#ef9979 28.3%,#f9c2a7 31.7%,#fdddcb 34.2%,#f9ede5 38.3%,#f7f5f4 45.8%,#f7f6f6 67.5%)"></i><i style="background:linear-gradient(#f6f7f7 0%,#fbe4d6 10%,#fdd9c4 11.7%,#f6af8e 14.2%,#ee9677 15%,#e48066 16.7%,#dd7059 20%,#dd7059 23.3%,#e58368 27.5%,#f09c7b 30.8%,#f5a886 31.7%,#f9c2a7 33.3%,#fcd7c2 35%,#fae9df 39.2%,#f8f4f2 46.7%,#f7f6f6 72.5%)"></i><i style="background:linear-gradient(#f6f7f7 0%,#f9ebe3 4.2%,#fce2d2 6.7%,#fddbc7 9.2%,#fbd0b9 10%,#f5aa89 11.7%,#ec9374 12.5%,#e37e64 14.2%,#da6853 18.3%,#db6b55 23.3%,#eb9172 30%,#f4a683 31.7%,#fbccb4 34.2%,#fdddcb 35.8%,#f9ede5 40%,#f8f4f2 46.7%,#f7f6f6 77.5%)"></i><i style="background:linear-gradient(#f6f7f7 0%,#faeae1 0.8%,#fbe5d8 2.5%,#fddcc9 3.3%,#f5ac8b 5%,#f19e7d 5.8%,#ec9374 7.5%,#e6866a 10%,#d35a4a 13.3%,#cf5246 15.8%,#d7634f 22.5%,#e8896c 29.2%,#ee9677 30.8%,#f4a683 31.7%,#fcd3bc 34.2%,#fce2d2 35.8%,#f9f0eb 40%,#f7f6f6 49.2%,#f7f6f6 81.7%)"></i><i style="background:linear-gradient(#f6f7f7 0%,#fae9df 0.8%,#fbe5d8 2.5%,#fddbc7 3.3%,#f5ac8b 5%,#ef9979 6.7%,#eb9172 9.2%,#e98b6e 10%,#d35a4a 13.3%,#cf5246 15.8%,#d7634f 22.5%,#e8896c 29.2%,#f2a17f 31.7%,#f9c4a9 33.3%,#fddbc7 35%,#f9ebe3 38.3%,#f7f5f4 45%,#f6f7f7 85.8%)"></i><i style="background:linear-gradient(#f6f7f7 0%,#f8f2ef 1.7%,#f9efe9 3.3%,#fbe5d8 5.8%,#fcdfcf 9.2%,#fddbc7 10%,#fbccb4 10.8%,#f7b596 11.7%,#ee9677 12.5%,#df765e 15%,#da6853 18.3%,#da6853 23.3%,#e6866a 29.2%,#f09c7b 31.7%,#f8bb9e 33.3%,#fddbc7 35.8%,#f9ebe3 40%,#f7f5f4 48.3%,#f6f7f7 88.3%)"></i><i style="background:linear-gradient(#f6f7f7 0%,#f8f3f0 1.7%,#f9ede5 7.5%,#fae9df 10%,#fcdfcf 11.7%,#f6af8e 14.2%,#ec9374 15%,#e37e64 16.7%,#db6b55 20.8%,#dd7059 25%,#e98b6e 30%,#ef9979 31.7%,#f7b799 33.3%,#fcd7c2 35.8%,#fae9df 40%,#f8f3f0 45.8%,#f7f6f6 60.8%,#f6f7f7 88.3%)"></i><i style="background:linear-gradient(#f6f7f7 0%,#fae8de 0.8%,#f9ebe3 2.5%,#fdddcb 4.2%,#fbccb4 5.8%,#fbccb4 7.5%,#fbd0b9 8.3%,#fbccb4 9.2%,#f8bfa4 10%,#f4a683 10.8%,#e98b6e 11.7%,#d7634f 14.2%,#d35a4a 18.3%,#db6b55 25%,#ee9677 31.7%,#f7b99c 33.3%,#fddcc9 35.8%,#f9efe9 40.8%,#f7f5f4 48.3%,#f6f7f7 88.3%)"></i><i style="background:linear-gradient(#f6f7f7 0%,#fbccb4 0.8%,#fddcc9 1.7%,#fce0d0 2.5%,#fcd3bc 3.3%,#f2a17f 5%,#ee9677 5.8%,#ef9979 6.7%,#f6af8e 8.3%,#f5ac8b 9.2%,#e17860 11.7%,#d25849 13.3%,#cc4c44 15%,#d05548 20%,#de735c 26.7%,#ee9677 31.7%,#f8bda1 33.3%,#fdd9c4 35%,#f9ebe3 38.3%,#f7f5f4 44.2%,#f6f7f7 88.3%)"></i><i style="background:linear-gradient(#f6f7f7 0%,#fbe3d4 0.8%,#fae9df 1.7%,#f9ebe3 2.5%,#fdddcb 4.2%,#fcd3bc 5%,#fbceb7 5.8%,#fddbc7 8.3%,#fdd9c4 9.2%,#fbceb7 10%,#f7b799 10.8%,#ec9374 11.7%,#dc6e57 13.3%,#d55d4c 15%,#d35a4a 19.2%,#d86551 24.2%,#e8896c 30%,#ec9374 31.7%,#f7b596 33.3%,#fdd9c4 35.8%,#fae9df 39.2%,#f8f3f0 44.2%,#f7f6f6 59.2%,#f6f7f7 88.3%)"></i><i style="background:linear-gradient(#f6f7f7 0%,#f9efe9 0.8%,#f8f3f0 2.5%,#f9ede5 5.8%,#f9efe9 10%,#fbe4d6 11.7%,#fdd9c4 12.5%,#f6af8e 14.2%,#ec9374 15%,#e37e64 16.7%,#dc6e57 19.2%,#d86551 22.5%,#e17860 27.5%,#ec9374 31.7%,#f19e7d 32.5%,#f9c6ac 35%,#fce2d2 38.3%,#f9f0eb 43.3%,#f7f6f6 52.5%,#f6f7f7 88.3%)"></i><i style="background:linear-gradient(#f6f7f7 0%,#faeae1 0.8%,#f9f0eb 1.7%,#f9efe9 3.3%,#fae7dc 5%,#f9ede5 9.2%,#fae9df 10%,#fce2d2 10.8%,#fbceb7 11.7%,#f5ac8b 12.5%,#ea8e70 13.3%,#dc6e57 15.8%,#d7634f 19.2%,#d86551 24.2%,#e98b6e 30.8%,#f09c7b 32.5%,#f9c6ac 35%,#fcdecd 37.5%,#f9ede5 41.7%,#f7f5f4 49.2%,#f6f7f7 88.3%)"></i><i style="background:linear-gradient(#f6f7f7 0%,#f6b394 0.8%,#fdddcb 1.7%,#fbe3d4 2.5%,#fddbc7 3.3%,#f9c4a9 4.2%,#f6b394 5%,#f6b394 5.8%,#f8bda1 6.7%,#fdddcb 8.3%,#fcdfcf 9.2%,#fcd7c2 10%,#f7b99c 10.8%,#ea8e70 11.7%,#d7634f 13.3%,#d05548 14.2%,#ce4f45 15.8%,#d05548 20%,#d86551 25%,#eb9172 31.7%,#f19e7d 32.5%,#f9c2a7 34.2%,#fddbc7 35.8%,#f9ebe3 39.2%,#f7f5f4 45.8%,#f6f7f7 88.3%)"></i><i style="background:linear-gradient(#f6f7f7 0%,#f5a886 0.8%,#fddcc9 1.7%,#fbe3d4 2.5%,#fddbc7 3.3%,#f9c4a9 4.2%,#f6b394 5%,#f7b596 5.8%,#f9c2a7 6.7%,#fcd7c2 7.5%,#fce2d2 8.3%,#fbe4d6 9.2%,#fcdecd 10%,#f9c2a7 10.8%,#eb9172 11.7%,#df765e 12.5%,#d7634f 13.3%,#ce4f45 15%,#ce4f45 18.3%,#d86551 25%,#ea8e70 31.7%,#f09c7b 32.5%,#f8bfa4 34.2%,#fdd9c4 35.8%,#faeae1 39.2%,#f8f4f2 44.2%,#f6f7f7 88.3%)"></i><i style="background:linear-gradient(#f6f7f7 0%,#fbe6da 0.8%,#f9efe9 1.7%,#f8f1ed 2.5%,#fae8de 5%,#f9eee7 7.5%,#f8f2ef 9.2%,#fae8de 10.8%,#fddbc7 11.7%,#f7b799 12.5%,#eb9172 13.3%,#de735c 15%,#d6604d 19.2%,#d7634f 24.2%,#e6866a 30.8%,#ee9677 32.5%,#facab1 35.8%,#fce0d0 38.3%,#f9eee7 42.5%,#f7f5f4 49.2%,#f6f7f7 88.3%)"></i><i style="background:linear-gradient(#f6f7f7 0%,#fae9df 0.8%,#f8f1ed 1.7%,#f8f3f0 2.5%,#f9eee7 5%,#f7f5f4 9.2%,#f9f0eb 10.8%,#fcdfcf 12.5%,#f6b394 14.2%,#eb9172 15%,#e27b62 16.7%,#db6b55 19.2%,#d7634f 23.3%,#e27b62 29.2%,#ec9374 32.5%,#f6af8e 34.2%,#fdd9c4 37.5%,#f9ede5 42.5%,#f7f5f4 50%,#f6f7f7 88.3%)"></i><i style="background:linear-gradient(#f6f7f7 0%,#f7b99c 0.8%,#fbe5d8 1.7%,#faeae1 2.5%,#fcd7c2 5%,#fce2d2 6.7%,#f8f1ed 8.3%,#f8f4f2 9.2%,#f9f0eb 10%,#fbe5d8 10.8%,#f9c4a9 11.7%,#eb9172 12.5%,#df765e 13.3%,#d86551 14.2%,#d05548 16.7%,#d55d4c 23.3%,#e37e64 30%,#ec9374 32.5%,#f3a481 33.3%,#fbceb7 35.8%,#fcdecd 37.5%,#f9eee7 41.7%,#f7f5f4 48.3%,#f6f7f7 88.3%)"></i><i style="background:linear-gradient(#f6f7f7 0%,#e17860 0.8%,#fac8af 1.7%,#fcdecd 2.5%,#fbd0b9 3.3%,#f7b99c 4.2%,#f5ac8b 5%,#f7b596 5.8%,#fbe5d8 7.5%,#f8f2ef 8.3%,#f7f6f6 9.2%,#f8f1ed 10%,#fce0d0 10.8%,#f5ac8b 11.7%,#e37e64 12.5%,#d7634f 13.3%,#cf5246 14.2%,#cb4942 16.7%,#cf5246 20.8%,#dc6e57 27.5%,#e98b6e 31.7%,#ee9677 32.5%,#facab1 35%,#fcdfcf 36.7%,#f9eee7 40%,#f7f6f6 47.5%,#f6f7f7 88.3%)"></i><i style="background:linear-gradient(#f6f7f7 0%,#f4a683 0.8%,#fce2d2 1.7%,#faeae1 2.5%,#fdd9c4 5%,#fddcc9 5.8%,#f7f6f6 8.3%,#f3f5f6 9.2%,#f7f5f4 10%,#faeae1 10.8%,#fbd0b9 11.7%,#ee9677 12.5%,#e17860 13.3%,#d55d4c 15%,#cf5246 18.3%,#d55d4c 24.2%,#e58368 30.8%,#eb9172 32.5%,#f6af8e 34.2%,#fcd5bf 36.7%,#fce2d2 38.3%,#f9f0eb 43.3%,#f7f6f6 52.5%,#f6f7f7 88.3%)"></i><i style="background:linear-gradient(#f6f7f7 0%,#fce2d2 0.8%,#f9f0eb 1.7%,#f8f3f0 2.5%,#f9f0eb 5.8%,#f5f6f7 9.2%,#f8f4f2 10.8%,#fbe4d6 12.5%,#fbd0b9 13.3%,#f7b596 14.2%,#eb9172 15%,#dd7059 17.5%,#d6604d 22.5%,#de735c 28.3%,#ea8e70 32.5%,#ee9677 33.3%,#f8bda1 35.8%,#fddbc7 38.3%,#f9eee7 43.3%,#f7f5f4 50%,#f6f7f7 88.3%)"></i><i style="background:linear-gradient(#f6f7f7 0%,#fbd0b9 0.8%,#f9ebe3 1.7%,#f8f1ed 2.5%,#fae9df 5%,#f5f6f7 8.3%,#f3f5f6 10%,#f8f3f0 10.8%,#fae7dc 11.7%,#fbccb4 12.5%,#f09c7b 13.3%,#e58368 14.2%,#de735c 15%,#d55d4c 18.3%,#d55d4c 23.3%,#dd7059 28.3%,#ea8e70 32.5%,#ee9677 33.3%,#facab1 36.7%,#fce0d0 39.2%,#f9eee7 43.3%,#f7f5f4 50%,#f6f7f7 88.3%)"></i><i style="background:linear-gradient(#f6f7f7 0%,#d86551 0.8%,#f8bda1 1.7%,#fce0d0 2.5%,#fdd9c4 3.3%,#f9c6ac 4.2%,#f8bda1 5%,#fbccb4 5.8%,#f8f3f0 7.5%,#e4eef4 9.2%,#ecf2f5 10%,#f8f1ed 10.8%,#fcd3bc 11.7%,#ea8e70 12.5%,#dc6e57 13.3%,#d35a4a 14.2%,#cb4942 15.8%,#ce4f45 20.8%,#d86551 26.7%,#e6866a 31.7%,#f09c7b 33.3%,#f8bfa4 35%,#fdd9c4 36.7%,#fae8de 39.2%,#f8f3f0 44.2%,#f7f6f6 56.7%,#f6f7f7 88.3%)"></i><i style="background:linear-gradient(#f6f7f7 0%,#d6604d 0.8%,#f7b99c 1.7%,#fce0d0 2.5%,#fdd9c4 3.3%,#f9c6ac 4.2%,#f8bda1 5%,#fbceb7 5.8%,#f7f5f4 7.5%,#e9f0f4 8.3%,#e1edf3 9.2%,#e9f0f4 10%,#f8f4f2 10.8%,#fdd9c4 11.7%,#eb9172 12.5%,#dd7059 13.3%,#d35a4a 14.2%,#cb4942 15.8%,#ce4f45 20.8%,#d86551 26.7%,#e58368 31.7%,#ef9979 33.3%,#fbccb4 35.8%,#fcdfcf 37.5%,#f9efe9 41.7%,#f7f6f6 49.2%,#f6f7f7 87.5%)"></i><i style="background:linear-gradient(#f6f7f7 0%,#f9c4a9 0.8%,#faeae1 1.7%,#f9f0eb 2.5%,#fae9df 5%,#f6f7f7 7.5%,#eff3f5 9.2%,#f7f6f6 10.8%,#f9ebe3 11.7%,#fcd5bf 12.5%,#f3a481 13.3%,#e58368 14.2%,#da6853 15.8%,#d35a4a 20%,#d55d4c 24.2%,#dc6e57 28.3%,#e8896c 32.5%,#f19e7d 34.2%,#fddbc7 38.3%,#f9eee7 43.3%,#f7f5f4 50%,#f6f7f7 85%)"></i><i style="background:linear-gradient(#f6f7f7 0%,#fddbc7 0.8%,#f9eee7 1.7%,#f8f2ef 2.5%,#f9efe9 5%,#f6f7f7 7.5%,#f3f5f6 10%,#f6f7f7 10.8%,#f8f2ef 11.7%,#fae7dc 12.5%,#fcd7c2 13.3%,#eb9172 15%,#df765e 16.7%,#d86551 19.2%,#d55d4c 23.3%,#dc6e57 28.3%,#e8896c 32.5%,#ef9979 34.2%,#facab1 37.5%,#fce0d0 40%,#f8f1ed 45.8%,#f7f6f6 55%,#f6f7f7 85%)"></i><i style="background:linear-gradient(#f6f7f7 0%,#e58368 0.8%,#fdd9c4 1.7%,#fae8de 2.5%,#fddcc9 5%,#fbe3d4 5.8%,#f2f5f6 7.5%,#e3edf3 9.2%,#e7f0f4 10%,#f3f5f6 10.8%,#fae7dc 11.7%,#f7b799 12.5%,#e58368 13.3%,#db6b55 14.2%,#d05548 15.8%,#ce4f45 19.2%,#d55d4c 25%,#e27b62 30.8%,#ec9374 33.3%,#f2a17f 34.2%,#fbccb4 36.7%,#fcdecd 38.3%,#f9ede5 42.5%,#f7f5f4 48.3%,#f6f7f7 85%)"></i><i style="background:linear-gradient(#f6f7f7 0%,#d05548 0.8%,#f3a481 1.7%,#fddcc9 2.5%,#f8bb9e 4.2%,#f7b799 5%,#fbceb7 5.8%,#fae9df 6.7%,#edf2f5 7.5%,#dae9f2 8.3%,#d5e7f1 9.2%,#ddebf2 10%,#eff3f5 10.8%,#fbe3d4 11.7%,#ee9677 12.5%,#dc6e57 13.3%,#d25849 14.2%,#cb4942 15%,#c84440 17.5%,#d7634f 26.7%,#e48066 31.7%,#ee9677 33.3%,#fbccb4 35.8%,#fce0d0 37.5%,#f9ebe3 40%,#f7f5f4 46.7%,#f6f7f7 85%)"></i><i style="background:linear-gradient(#f6f7f7 0%,#e58368 0.8%,#fcd7c2 1.7%,#fae8de 2.5%,#fcdecd 4.2%,#fdddcb 5%,#fbe4d6 5.8%,#f9f0eb 6.7%,#f0f4f6 7.5%,#e4eef4 8.3%,#e4eef4 10%,#f0f4f6 10.8%,#faeae1 11.7%,#f8bfa4 12.5%,#e6866a 13.3%,#db6b55 14.2%,#d05548 15.8%,#ce4f45 19.2%,#d35a4a 25%,#e48066 31.7%,#eb9172 33.3%,#f19e7d 34.2%,#f8bda1 35.8%,#fdddcb 38.3%,#f9ede5 42.5%,#f8f4f2 47.5%,#f6f7f7 85%)"></i><i style="background:linear-gradient(#f6f7f7 0%,#fdd9c4 0.8%,#f9eee7 1.7%,#f8f2ef 2.5%,#f9f0eb 5%,#f5f6f7 7.5%,#f2f5f6 10%,#f8f3f0 11.7%,#fae9df 12.5%,#fddbc7 13.3%,#eb9172 15%,#df765e 16.7%,#d6604d 20%,#d35a4a 23.3%,#df765e 30%,#e6866a 32.5%,#ee9677 34.2%,#f8bb9e 36.7%,#fddbc7 39.2%,#f9eee7 44.2%,#f7f5f4 50.8%,#f6f7f7 85%)"></i><i style="background:linear-gradient(#f6f7f7 0%,#f9c4a9 0.8%,#fae8de 1.7%,#f9f0eb 2.5%,#faeae1 5%,#f2f5f6 7.5%,#eaf1f5 9.2%,#f2f5f6 10.8%,#f8f1ed 11.7%,#fcdecd 12.5%,#f6af8e 13.3%,#e6866a 14.2%,#de735c 15%,#d7634f 16.7%,#d25849 20%,#d35a4a 24.2%,#db6b55 28.3%,#e6866a 32.5%,#ee9677 34.2%,#f8bfa4 36.7%,#fcd7c2 38.3%,#fbe5d8 40.8%,#f8f1ed 45.8%,#f7f6f6 55%,#f6f7f7 85%)"></i><i style="background:linear-gradient(#f6f7f7 0%,#d6604d 0.8%,#f5ac8b 1.7%,#fcdecd 2.5%,#fdd9c4 3.3%,#fac8af 4.2%,#f9c6ac 5%,#fdddcb 5.8%,#f8f1ed 6.7%,#e6eff4 7.5%,#d7e8f1 8.3%,#d4e6f1 9.2%,#dae9f2 10%,#e9f0f4 10.8%,#f9ebe3 11.7%,#f6b394 12.5%,#e17860 13.3%,#d55d4c 14.2%,#ce4f45 15%,#c94741 17.5%,#cf5246 23.3%,#e17860 30.8%,#e8896c 32.5%,#f3a481 34.2%,#f9c6ac 35.8%,#fdddcb 37.5%,#f9ebe3 40.8%,#f7f5f4 47.5%,#f6f7f7 85%)"></i><i style="background:linear-gradient(#f6f7f7 0%,#d6604d 0.8%,#f5aa89 1.7%,#fcdecd 2.5%,#fdd9c4 3.3%,#fac8af 4.2%,#f9c6ac 5%,#fdddcb 5.8%,#f8f1ed 6.7%,#e4eef4 7.5%,#d5e7f1 8.3%,#d2e6f0 9.2%,#e7f0f4 10.8%,#f9ede5 11.7%,#f7b596 12.5%,#e17860 13.3%,#d55d4c 14.2%,#ce4f45 15%,#c94741 17.5%,#cf5246 23.3%,#e17860 30.8%,#e8896c 32.5%,#f3a481 34.2%,#fcd3bc 36.7%,#fbe6da 39.2%,#f8f2ef 44.2%,#f7f6f6 55%,#f6f7f7 85%)"></i><i style="background:linear-gradient(#f6f7f7 0%,#f9c2a7 0.8%,#fae7dc 1.7%,#f9f0eb 2.5%,#f9ebe3 5%,#f7f5f4 6.7%,#eaf1f5 9.2%,#f0f4f6 10.8%,#f8f3f0 11.7%,#fce0d0 12.5%,#f6b394 13.3%,#e8896c 14.2%,#de735c 15%,#d7634f 16.7%,#d25849 20%,#d35a4a 24.2%,#de735c 30%,#ee9677 34.2%,#f3a481 35%,#fcd5bf 38.3%,#fae7dc 41.7%,#f8f3f0 47.5%,#f7f6f6 60%,#f6f7f7 85%)"></i><i style="background:linear-gradient(#f6f7f7 0%,#fdd9c4 0.8%,#f9ede5 1.7%,#f8f2ef 2.5%,#f9f0eb 5%,#f7f6f6 6.7%,#f0f4f6 10%,#f7f5f4 11.7%,#f9ebe3 12.5%,#fdddcb 13.3%,#f8bb9e 14.2%,#eb9172 15%,#df765e 16.7%,#d86551 18.3%,#d35a4a 22.5%,#d86551 27.5%,#e98b6e 33.3%,#f19e7d 35%,#fdd9c4 39.2%,#f9ede5 44.2%,#f8f4f2 49.2%,#f6f7f7 85%)"></i><i style="background:linear-gradient(#f6f7f7 0%,#e48066 0.8%,#fbceb7 1.7%,#fae7dc 2.5%,#fcdecd 5%,#fae7dc 5.8%,#f8f4f2 6.7%,#e0ecf3 8.3%,#ddebf2 9.2%,#eaf1f5 10.8%,#f8f1ed 11.7%,#fbceb7 12.5%,#e98b6e 13.3%,#dc6e57 14.2%,#d55d4c 15%,#cf5246 16.7%,#cf5246 22.5%,#da6853 28.3%,#e27b62 31.7%,#ef9979 34.2%,#fcd3bc 37.5%,#fddcc9 38.3%,#f9ede5 42.5%,#f7f5f4 50%,#f6f7f7 85%)"></i><i style="background:linear-gradient(#f6f7f7 0%,#cf5246 0.8%,#ec9374 1.7%,#fdd9c4 2.5%,#fbceb7 3.3%,#f8bda1 4.2%,#f8bda1 5%,#fddbc7 5.8%,#f8f3f0 6.7%,#cfe4ef 8.3%,#cce2ef 9.2%,#e4eef4 10.8%,#f9efe9 11.7%,#f6b394 12.5%,#df765e 13.3%,#d35a4a 14.2%,#c84440 15.8%,#cb4942 20.8%,#da6853 28.3%,#e37e64 31.7%,#ec9374 33.3%,#f3a481 34.2%,#fcd5bf 36.7%,#fbe4d6 38.3%,#f8f1ed 42.5%,#f7f6f6 51.7%,#f6f7f7 85%)"></i><i style="background:linear-gradient(#f6f7f7 0%,#e48066 0.8%,#fbccb4 1.7%,#fae7dc 2.5%,#fcdecd 5%,#fae7dc 5.8%,#f8f4f2 6.7%,#e0ecf3 8.3%,#ddebf2 9.2%,#eaf1f5 10.8%,#f8f1ed 11.7%,#fbceb7 12.5%,#e98b6e 13.3%,#dc6e57 14.2%,#d55d4c 15%,#ce4f45 16.7%,#ce4f45 20.8%,#da6853 28.3%,#e58368 32.5%,#ee9677 34.2%,#f9c4a9 36.7%,#fddbc7 38.3%,#fae9df 41.7%,#f8f4f2 47.5%,#f6f7f7 85%)"></i><i style="background:linear-gradient(#f6f7f7 0%,#fdd9c4 0.8%,#f9ebe3 1.7%,#f8f2ef 2.5%,#f9f0eb 5%,#f7f6f6 6.7%,#f0f4f6 10%,#f7f5f4 11.7%,#f9ebe3 12.5%,#fddcc9 13.3%,#f8bb9e 14.2%,#eb9172 15%,#e37e64 15.8%,#d86551 18.3%,#d25849 22.5%,#dc6e57 29.2%,#e8896c 33.3%,#ef9979 35%,#f7b596 36.7%,#fcd7c2 39.2%,#fae8de 42.5%,#f8f3f0 48.3%,#f7f6f6 60.8%,#f6f7f7 85%)"></i><i style="background:linear-gradient(#f6f7f7 0%,#f9c2a7 0.8%,#fbe6da 1.7%,#f9f0eb 2.5%,#f9ebe3 5%,#f7f5f4 6.7%,#eaf1f5 9.2%,#f0f4f6 10.8%,#f8f3f0 11.7%,#fce0d0 12.5%,#f6b394 13.3%,#e8896c 14.2%,#de735c 15%,#d6604d 16.7%,#d05548 21.7%,#d55d4c 25.8%,#e27b62 31.7%,#f19e7d 35%,#fddbc7 39.2%,#f9eee7 44.2%,#f7f5f4 50.8%,#f6f7f7 85%)"></i><i style="background:linear-gradient(#f6f7f7 0%,#d55d4c 0.8%,#ee9677 1.7%,#fddcc9 2.5%,#fcd7c2 3.3%,#fac8af 4.2%,#f9c6ac 5%,#fcdecd 5.8%,#f8f2ef 6.7%,#e4eef4 7.5%,#d5e7f1 8.3%,#d4e6f1 9.2%,#e7f0f4 10.8%,#f9ede5 11.7%,#f7b596 12.5%,#e17860 13.3%,#d55d4c 14.2%,#c94741 15.8%,#cc4c44 21.7%,#db6b55 29.2%,#e27b62 31.7%,#f09c7b 34.2%,#fbceb7 36.7%,#fddbc7 37.5%,#f9ede5 41.7%,#f7f5f4 47.5%,#f6f7f7 85%)"></i><i style="background:linear-gradient(#f6f7f7 0%,#d55d4c 0.8%,#ee9677 1.7%,#fddcc9 2.5%,#fcd7c2 3.3%,#fac8af 4.2%,#f9c6ac 5%,#fdddcb 5.8%,#f8f1ed 6.7%,#e4eef4 7.5%,#d7e8f1 8.3%,#d4e6f1 9.2%,#e9f0f4 10.8%,#f9ebe3 11.7%,#f6b394 12.5%,#e17860 13.3%,#d55d4c 14.2%,#c94741 15.8%,#cc4c44 21.7%,#db6b55 29.2%,#e58368 32.5%,#ef9979 34.2%,#f8bfa4 35.8%,#fdd9c4 37.5%,#faeae1 40.8%,#f8f4f2 46.7%,#f6f7f7 85%)"></i><i style="background:linear-gradient(#f6f7f7 0%,#f8bfa4 0.8%,#fbe5d8 1.7%,#f9efe9 2.5%,#faeae1 5%,#f7f5f4 6.7%,#eaf1f5 9.2%,#f2f5f6 10.8%,#f8f1ed 11.7%,#fcdfcf 12.5%,#f6af8e 13.3%,#e6866a 14.2%,#de735c 15%,#d6604d 16.7%,#d25849 19.2%,#d25849 24.2%,#dd7059 30%,#e48066 32.5%,#f09c7b 35%,#fbd0b9 38.3%,#fbe6da 41.7%,#f8f3f0 47.5%,#f7f6f6 60%,#f6f7f7 85%)"></i><i style="background:linear-gradient(#f6f7f7 0%,#fcd7c2 0.8%,#faeae1 1.7%,#f8f2ef 2.5%,#f9f0eb 5%,#f5f6f7 7.5%,#f2f5f6 10%,#f8f3f0 11.7%,#fae9df 12.5%,#fddbc7 13.3%,#eb9172 15%,#e37e64 15.8%,#d86551 18.3%,#d25849 22.5%,#d7634f 27.5%,#e48066 32.5%,#ee9677 35%,#facab1 38.3%,#fce0d0 40.8%,#f9f0eb 45.8%,#f7f6f6 55%,#f6f7f7 85%)"></i><i style="background:linear-gradient(#f6f7f7 0%,#e37e64 0.8%,#f9c4a9 1.7%,#fbe6da 2.5%,#fdddcb 5%,#fbe5d8 5.8%,#f8f1ed 6.7%,#eff3f5 7.5%,#e4eef4 8.3%,#e1edf3 9.2%,#f0f4f6 10.8%,#faeae1 11.7%,#f8bfa4 12.5%,#e58368 13.3%,#db6b55 14.2%,#d35a4a 15%,#ce4f45 16.7%,#ce4f45 22.5%,#d86551 28.3%,#e48066 32.5%,#ec9374 34.2%,#f8bfa4 36.7%,#fdd9c4 38.3%,#f9ebe3 42.5%,#f7f5f4 49.2%,#f6f7f7 85%)"></i><i style="background:linear-gradient(#f6f7f7 0%,#cf5246 0.8%,#e6866a 1.7%,#fcd3bc 2.5%,#fbceb7 3.3%,#f8bb9e 4.2%,#f7b799 5%,#fbd0b9 5.8%,#f9ebe3 6.7%,#eaf1f5 7.5%,#dae9f2 8.3%,#d5e7f1 9.2%,#deebf2 10%,#f0f4f6 10.8%,#fbe3d4 11.7%,#ee9677 12.5%,#dc6e57 13.3%,#d05548 14.2%,#c84440 15.8%,#c84440 19.2%,#d55d4c 26.7%,#e58368 32.5%,#f09c7b 34.2%,#fbd0b9 36.7%,#fbe3d4 38.3%,#f9f0eb 42.5%,#f7f6f6 49.2%,#f6f7f7 85%)"></i><i style="background:linear-gradient(#f6f7f7 0%,#e37e64 0.8%,#f8bfa4 1.7%,#fbe6da 2.5%,#fddcc9 5%,#fbe3d4 5.8%,#f9efe9 6.7%,#f2f5f6 7.5%,#e3edf3 9.2%,#e7f0f4 10%,#f3f5f6 10.8%,#fae7dc 11.7%,#f7b799 12.5%,#e48066 13.3%,#da6853 14.2%,#cf5246 15.8%,#cc4c44 20%,#d35a4a 25.8%,#e17860 31.7%,#ec9374 34.2%,#f2a17f 35%,#fbccb4 37.5%,#fce2d2 40%,#f8f1ed 45%,#f7f6f6 54.2%,#f6f7f7 85%)"></i><i style="background:linear-gradient(#f6f7f7 0%,#fcd7c2 0.8%,#fae9df 1.7%,#f8f1ed 2.5%,#f9efe9 5%,#f6f7f7 7.5%,#f3f5f6 10%,#f6f7f7 10.8%,#fae7dc 12.5%,#fcd5bf 13.3%,#f7b596 14.2%,#ea8e70 15%,#de735c 16.7%,#d55d4c 20%,#d25849 23.3%,#dc6e57 30%,#ec9374 35%,#f6af8e 36.7%,#fcd3bc 39.2%,#fbe3d4 41.7%,#f8f1ed 46.7%,#f7f6f6 55.8%,#f6f7f7 85%)"></i><i style="background:linear-gradient(#f6f7f7 0%,#f8bfa4 0.8%,#fbe3d4 1.7%,#f9efe9 2.5%,#fae9df 5%,#f6f7f7 7.5%,#eff3f5 9.2%,#f7f6f6 10.8%,#faeae1 11.7%,#fcd3bc 12.5%,#f19e7d 13.3%,#e48066 14.2%,#d86551 15.8%,#d25849 18.3%,#d05548 23.3%,#da6853 29.2%,#e37e64 32.5%,#ee9677 35%,#fbccb4 38.3%,#fce2d2 40.8%,#f8f2ef 46.7%,#f7f6f6 57.5%,#f6f7f7 85%)"></i><i style="background:linear-gradient(#f6f7f7 0%,#d35a4a 0.8%,#e98b6e 1.7%,#fdd9c4 2.5%,#fcd7c2 3.3%,#f9c4a9 4.2%,#f8bb9e 5%,#fbceb7 5.8%,#f7f6f6 7.5%,#e9f0f4 8.3%,#e4eef4 9.2%,#ecf2f5 10%,#f8f2ef 10.8%,#fcd5bf 11.7%,#ea8e70 12.5%,#db6b55 13.3%,#d25849 14.2%,#c94741 15.8%,#c94741 20%,#d6604d 27.5%,#e48066 32.5%,#ee9677 34.2%,#fcd7c2 37.5%,#fbe6da 40%,#f9f0eb 43.3%,#f7f6f6 50.8%,#f6f7f7 85%)"></i><i style="background:linear-gradient(#f6f7f7 0%,#d35a4a 0.8%,#e98b6e 1.7%,#fdd9c4 2.5%,#fcd7c2 3.3%,#f9c4a9 4.2%,#f8bb9e 5%,#facab1 5.8%,#fbe3d4 6.7%,#f8f3f0 7.5%,#ecf2f5 8.3%,#e7f0f4 9.2%,#eff3f5 10%,#f9efe9 10.8%,#fbceb7 11.7%,#e98b6e 12.5%,#db6b55 13.3%,#d05548 14.2%,#cb4942 15%,#c84440 18.3%,#d25849 25.8%,#e17860 31.7%,#ee9677 34.2%,#fac8af 36.7%,#fcdecd 38.3%,#f9eee7 42.5%,#f7f6f6 50%,#f6f7f7 85%)"></i><i style="background:linear-gradient(#f6f7f7 0%,#f8bda1 0.8%,#fce2d2 1.7%,#f9efe9 2.5%,#fae9df 5%,#faeae1 5.8%,#f7f5f4 7.5%,#f5f6f7 10%,#f8f2ef 10.8%,#fbe6da 11.7%,#fac8af 12.5%,#ee9677 13.3%,#e37e64 14.2%,#dc6e57 15%,#d25849 18.3%,#cf5246 22.5%,#da6853 29.2%,#e37e64 32.5%,#ee9677 35%,#f6b191 36.7%,#facab1 38.3%,#fce0d0 40.8%,#f8f1ed 45.8%,#f7f6f6 55%,#f6f7f7 83.3%)"></i><i style="background:linear-gradient(#f6f7f7 0%,#fcd5bf 0.8%,#fae8de 1.7%,#f8f1ed 2.5%,#f9eee7 5%,#f6f7f7 8.3%,#f8f3f0 10.8%,#f9ede5 11.7%,#fce2d2 12.5%,#fbccb4 13.3%,#f5ac8b 14.2%,#e98b6e 15%,#e27b62 15.8%,#d7634f 18.3%,#d05548 22.5%,#d6604d 27.5%,#df765e 31.7%,#f09c7b 35.8%,#f9c4a9 38.3%,#fcdecd 40.8%,#f9eee7 45%,#f7f5f4 50%,#f7f6f6 80.8%)"></i><i style="background:linear-gradient(#f6f7f7 0%,#e37e64 0.8%,#f7b596 1.7%,#fbe4d6 2.5%,#fbe4d6 3.3%,#fcd7c2 5%,#fbe4d6 6.7%,#f7f5f4 8.3%,#f6f7f7 9.2%,#f8f3f0 10%,#fae7dc 10.8%,#facab1 11.7%,#eb9172 12.5%,#de735c 13.3%,#d25849 15%,#cc4c44 18.3%,#cf5246 24.2%,#dd7059 30.8%,#ef9979 35%,#f8bb9e 36.7%,#fddcc9 39.2%,#f9efe9 44.2%,#f7f6f6 50.8%,#f7f6f6 78.3%)"></i><i style="background:linear-gradient(#f6f7f7 0%,#ce4f45 0.8%,#e27b62 1.7%,#fbccb4 2.5%,#fbccb4 3.3%,#f7b596 4.2%,#f4a683 5%,#f6b191 5.8%,#fbe4d6 7.5%,#f9f0eb 8.3%,#f8f3f0 9.2%,#f9ede5 10%,#fddbc7 10.8%,#f19e7d 11.7%,#df765e 12.5%,#d55d4c 13.3%,#cc4c44 14.2%,#c6413e 15.8%,#c94741 20.8%,#d7634f 28.3%,#df765e 31.7%,#ee9677 34.2%,#fddbc7 37.5%,#f9ebe3 40.8%,#f7f5f4 46.7%,#f7f6f6 80%)"></i><i style="background:linear-gradient(#f6f7f7 0%,#e37e64 0.8%,#f6b191 1.7%,#fbe4d6 2.5%,#fbe4d6 3.3%,#fcd5bf 5%,#fce0d0 6.7%,#f9f0eb 8.3%,#f8f2ef 9.2%,#f9eee7 10%,#fce0d0 10.8%,#f8bb9e 11.7%,#e8896c 12.5%,#dd7059 13.3%,#d6604d 14.2%,#ce4f45 15.8%,#ce4f45 23.3%,#db6b55 30%,#ea8e70 34.2%,#ef9979 35%,#fcd3bc 38.3%,#fce0d0 40%,#f8f1ed 45%,#f7f6f6 52.5%,#f6f7f7 84.2%)"></i><i style="background:linear-gradient(#f6f7f7 0%,#fcd5bf 0.8%,#fbe6da 1.7%,#f8f1ed 2.5%,#f9eee7 5.8%,#f8f4f2 9.2%,#f9efe9 10.8%,#fae8de 11.7%,#fdddcb 12.5%,#f4a683 14.2%,#e8896c 15%,#da6853 17.5%,#d05548 23.3%,#db6b55 30%,#ef9979 35.8%,#fbccb4 39.2%,#fce2d2 41.7%,#f9f0eb 45.8%,#f7f6f6 52.5%,#f6f7f7 86.7%)"></i><i style="background:linear-gradient(#f6f7f7 0%,#f8bda1 0.8%,#fcdecd 1.7%,#f9eee7 2.5%,#faeae1 4.2%,#fae7dc 5.8%,#f9f0eb 8.3%,#f9ede5 10%,#fbe5d8 10.8%,#fcd3bc 11.7%,#f5ac8b 12.5%,#e8896c 13.3%,#db6b55 15%,#d35a4a 17.5%,#cf5246 22.5%,#d35a4a 26.7%,#e27b62 32.5%,#f19e7d 35.8%,#fcd3bc 39.2%,#fae7dc 42.5%,#f8f3f0 47.5%,#f7f6f6 58.3%,#f6f7f7 88.3%)"></i><i style="background:linear-gradient(#f6f7f7 0%,#d35a4a 0.8%,#e48066 1.7%,#fcd3bc 2.5%,#fcd5bf 3.3%,#f8bda1 4.2%,#f5ac8b 5%,#f6af8e 5.8%,#fcdecd 8.3%,#fcdfcf 9.2%,#fcd7c2 10%,#f6b394 10.8%,#e8896c 11.7%,#dc6e57 12.5%,#cc4c44 14.2%,#c84440 16.7%,#cb4942 21.7%,#d55d4c 27.5%,#e37e64 32.5%,#eb9172 34.2%,#f2a17f 35%,#fcd3bc 37.5%,#fce2d2 39.2%,#f9f0eb 43.3%,#f7f6f6 50%,#f6f7f7 90.8%)"></i><i style="background:linear-gradient(#f6f7f7 0%,#d35a4a 0.8%,#e48066 1.7%,#fcd3bc 2.5%,#fcd5bf 3.3%,#f5aa89 5%,#f5aa89 5.8%,#f7b799 6.7%,#fdd9c4 8.3%,#fdd9c4 9.2%,#fbccb4 10%,#f5a886 10.8%,#e58368 11.7%,#db6b55 12.5%,#cc4c44 14.2%,#c84440 16.7%,#cc4c44 23.3%,#db6b55 30%,#de735c 31.7%,#eb9172 34.2%,#f2a17f 35%,#fcd3bc 37.5%,#fce2d2 39.2%,#f9f0eb 43.3%,#f7f6f6 50%,#f6f7f7 91.7%)"></i><i style="background:linear-gradient(#f6f7f7 0%,#f8bb9e 0.8%,#fdddcb 1.7%,#f9eee7 2.5%,#f9eee7 3.3%,#fbe6da 5%,#faeae1 9.2%,#fbe6da 10%,#fdddcb 10.8%,#f9c4a9 11.7%,#f09c7b 12.5%,#e58368 13.3%,#d7634f 15.8%,#d05548 19.2%,#d05548 25%,#de735c 31.7%,#f09c7b 35.8%,#fbd0b9 39.2%,#fcdfcf 40.8%,#f9efe9 45%,#f7f6f6 51.7%,#f6f7f7 91.7%)"></i><i style="background:linear-gradient(#f6f7f7 0%,#fcd5bf 0.8%,#f8f1ed 2.5%,#f9ede5 6.7%,#f9efe9 9.2%,#fae8de 10.8%,#fce0d0 11.7%,#fbd0b9 12.5%,#f19e7d 14.2%,#e8896c 15%,#da6853 17.5%,#d05548 21.7%,#d35a4a 26.7%,#e17860 32.5%,#ee9677 35.8%,#f3a481 36.7%,#facab1 39.2%,#fce2d2 41.7%,#f9f0eb 45.8%,#f7f6f6 51.7%,#f6f7f7 90%)"></i><i style="background:linear-gradient(#f6f7f7 0%,#e27b62 0.8%,#f3a481 1.7%,#fce2d2 2.5%,#fbe3d4 3.3%,#fddbc7 4.2%,#fbccb4 5%,#f9c6ac 5.8%,#fbceb7 7.5%,#fcd5bf 8.3%,#fbd0b9 9.2%,#f9c2a7 10%,#f4a683 10.8%,#e8896c 11.7%,#d7634f 13.3%,#cf5246 15%,#cb4942 19.2%,#d05548 25.8%,#de735c 31.7%,#ee9677 35%,#f7b596 36.7%,#fbd0b9 38.3%,#fbe3d4 40.8%,#f8f1ed 45%,#f7f6f6 52.5%,#f6f7f7 85.8%)"></i><i style="background:linear-gradient(#f6f7f7 0%,#ce4f45 0.8%,#dd7059 1.7%,#f9c4a9 2.5%,#facab1 3.3%,#f6af8e 4.2%,#ec9374 5%,#eb9172 6.7%,#f19e7d 8.3%,#eb9172 10%,#d35a4a 12.5%,#c84440 14.2%,#c53e3d 18.3%,#d6604d 28.3%,#de735c 31.7%,#eb9172 34.2%,#f3a481 35%,#fcd7c2 37.5%,#fbe4d6 39.2%,#f9f0eb 42.5%,#f7f6f6 49.2%,#f7f6f6 80%)"></i><i style="background:linear-gradient(#f6f7f7 0%,#e27b62 0.8%,#f19e7d 1.7%,#fce2d2 2.5%,#fbe3d4 3.3%,#fddbc7 4.2%,#facab1 5%,#f9c2a7 6.7%,#f9c6ac 8.3%,#f8bfa4 9.2%,#f6b191 10%,#ec9374 10.8%,#d6604d 13.3%,#ce4f45 15.8%,#cb4942 20%,#cf5246 25%,#dd7059 31.7%,#ec9374 35%,#f6b394 36.7%,#fdd9c4 39.2%,#faeae1 42.5%,#f7f5f4 48.3%,#f7f6f6 74.2%)"></i><i style="background:linear-gradient(#f6f7f7 0%,#fcd5bf 0.8%,#f9f0eb 2.5%,#f9efe9 4.2%,#faeae1 6.7%,#fae7dc 10%,#fdd9c4 11.7%,#f6b191 13.3%,#ee9677 14.2%,#e17860 15.8%,#d55d4c 19.2%,#cf5246 22.5%,#d6604d 28.3%,#e17860 32.5%,#ec9374 35.8%,#f2a17f 36.7%,#fcd5bf 40%,#fae9df 43.3%,#f7f5f4 48.3%,#f7f6f6 68.3%)"></i><i style="background:linear-gradient(#f6f7f7 0%,#f8bb9e 0.8%,#fddbc7 1.7%,#f9ede5 2.5%,#f9eee7 3.3%,#fbe3d4 5.8%,#fcdfcf 8.3%,#fbd0b9 10%,#f8bda1 10.8%,#f2a17f 11.7%,#e27b62 13.3%,#d7634f 15.8%,#d05548 18.3%,#ce4f45 23.3%,#d7634f 29.2%,#e37e64 33.3%,#ee9677 35.8%,#f9c2a7 38.3%,#fdddcb 40.8%,#f9ebe3 44.2%,#f7f6f6 50%,#f7f6f6 63.3%)"></i><i style="background:linear-gradient(#f6f7f7 0%,#d25849 0.8%,#e17860 1.7%,#fbccb4 2.5%,#fcd3bc 3.3%,#f09c7b 5%,#ea8e70 6.7%,#e6866a 9.2%,#d86551 11.7%,#cc4c44 13.3%,#c6413e 16.7%,#cc4c44 23.3%,#da6853 30%,#dd7059 31.7%,#ee9677 35%,#f7b596 36.7%,#fcd5bf 39.2%,#fcdfcf 40.8%,#f7f5f4 49.2%,#f7f6f6 58.3%)"></i><i style="background:linear-gradient(#f6f7f7 0%,#e8896c 0.8%,#f6b191 1.7%,#fbe6da 2.5%,#fae7dc 3.3%,#fcd3bc 5.8%,#facab1 8.3%,#f7b99c 10%,#ec9374 11.7%,#e37e64 13.3%,#df765e 15.8%,#e27b62 21.7%,#ea8e70 27.5%,#f19e7d 30%,#f6af8e 31.7%,#fbceb7 34.2%,#fddbc7 35.8%,#f8f1ed 45%,#f7f6f6 50.8%,#f6f7f7 53.3%)"></i><i style="background:linear-gradient(#f6f7f7 0%,#fce0d0 0.8%,#f8f2ef 2.5%,#fbe5d8 10%,#fcd7c2 11.7%,#ee9677 15%,#e37e64 18.3%,#df765e 22.5%,#e6866a 28.3%,#ee9677 31.7%,#f6af8e 34.2%,#f7b99c 37.5%,#fce0d0 41.7%,#f8f3f0 46.7%,#f7f5f4 48.3%)"></i><i style="background:linear-gradient(#f6f7f7 0%,#fcd7c2 0.8%,#f9f0eb 2.5%,#f9efe9 4.2%,#fce0d0 10%,#fddcc9 10.8%,#f8bfa4 12.5%,#ef9979 14.2%,#e27b62 15.8%,#d7634f 18.3%,#d05548 23.3%,#d6604d 27.5%,#e37e64 34.2%,#e58368 37.5%,#ec9374 39.2%,#f2a17f 40%,#fddcc9 43.3%,#f9ede5 45.8%,#f8f4f2 48.3%)"></i><i style="background:linear-gradient(#f6f7f7 0%,#eb9172 0.8%,#f7b596 1.7%,#fae8de 2.5%,#fae8de 3.3%,#fddbc7 5%,#f8bb9e 7.5%,#f6b394 8.3%,#ec9374 10%,#d86551 13.3%,#d05548 16.7%,#d05548 23.3%,#dc6e57 30%,#ec9374 36.7%,#ee9677 37.5%,#f8bb9e 40%,#fddcc9 42.5%,#f8f1ed 46.7%,#f6f7f7 50.8%)"></i><i style="background:linear-gradient(#f6f7f7 0%,#fbe6da 0.8%,#f8f4f2 2.5%,#fae9df 9.2%,#fddcc9 11.7%,#f5a886 14.2%,#ee9677 15%,#e17860 17.5%,#da6853 20%,#db6b55 26.7%,#ee9677 35.8%,#f6af8e 38.3%,#fddbc7 42.5%,#f8f2ef 47.5%,#f6f7f7 52.5%,#f6f7f7 54.2%)"></i><i style="background:linear-gradient(#f6f7f7 0%,#fcd3bc 0.8%,#f8f1ed 2.5%,#f9ebe3 5%,#fddcc9 9.2%,#f9c6ac 10.8%,#f09c7b 12.5%,#e6866a 14.2%,#d86551 20%,#dc6e57 26.7%,#ea8e70 33.3%,#f19e7d 35%,#fddbc7 40.8%,#f8f3f0 47.5%,#f6f7f7 52.5%,#f6f7f7 55%)"></i><i style="background:linear-gradient(#f6f7f7 0%,#f7b596 0.8%,#fcd3bc 1.7%,#f9efe9 2.5%,#f9efe9 3.3%,#fbd0b9 8.3%,#f7b99c 10%,#ec9374 11.7%,#e37e64 13.3%,#db6b55 17.5%,#d86551 20.8%,#de735c 27.5%,#eb9172 33.3%,#f09c7b 34.2%,#f9c4a9 36.7%,#fddcc9 39.2%,#faeae1 43.3%,#f6f7f7 50%,#f7f6f6 57.5%)"></i><i style="background:linear-gradient(#f6f7f7 0%,#f9eee7 0.8%,#f7f5f4 2.5%,#f9eee7 10.8%,#fdd9c4 15%,#f19e7d 18.3%,#ea8e70 20%,#ea8e70 26.7%,#ef9979 30%,#f8bb9e 34.2%,#fdddcb 39.2%,#f8f4f2 47.5%,#f7f6f6 55.8%,#f7f6f6 58.3%)"></i><i style="background:linear-gradient(#f6f7f7 0%,#fbe3d4 0.8%,#f8f3f0 2.5%,#f9ebe3 6.7%,#fcdecd 10.8%,#f8bfa4 15%,#f7b799 20%,#fbccb4 27.5%,#fcdfcf 32.5%,#f9f0eb 39.2%,#f6f7f7 51.7%,#f7f6f6 58.3%)"></i><i style="background:linear-gradient(#f6f7f7 0%,#faeae1 0.8%,#f8f4f2 2.5%,#f9eee7 8.3%,#fbe4d6 11.7%,#fcd7c2 13.3%,#f8bfa4 15%,#ef9979 16.7%,#e37e64 20%,#e37e64 26.7%,#ef9979 33.3%,#f7b99c 35.8%,#fcdecd 40.8%,#f8f2ef 46.7%,#f5f6f7 51.7%,#f7f6f6 58.3%)"></i><i style="background:linear-gradient(#f6f7f7 0%,#fddbc7 0.8%,#fbe3d4 1.7%,#f8f2ef 2.5%,#f9ede5 5%,#fddbc7 9.2%,#f9c6ac 10.8%,#ee9677 13.3%,#df765e 18.3%,#dd7059 22.5%,#df765e 26.7%,#ee9677 33.3%,#f6af8e 35%,#f9c4a9 36.7%,#fcdfcf 40%,#f7f6f6 48.3%,#f7f6f6 58.3%)"></i><i style="background:linear-gradient(#f6f7f7 0%,#f8bfa4 0.8%,#fcd5bf 1.7%,#f9efe9 2.5%,#f9f0eb 3.3%,#fdd9c4 7.5%,#f7b799 10%,#ee9677 11.7%,#e37e64 14.2%,#db6b55 20%,#df765e 26.7%,#ee9677 33.3%,#f7b596 35%,#fcd5bf 37.5%,#fae9df 41.7%,#f5f6f7 49.2%,#f7f6f6 58.3%)"></i><i style="background:linear-gradient(#f6f7f7 0%,#fae9df 0.8%,#f9ede5 1.7%,#f8f4f2 2.5%,#fae8de 10.8%,#fcd7c2 13.3%,#f8bfa4 15%,#f5aa89 15.8%,#ee9677 16.7%,#e37e64 19.2%,#df765e 21.7%,#e27b62 27.5%,#ec9374 33.3%,#f4a683 35%,#fdd9c4 40%,#f7f6f6 47.5%,#f2f5f6 52.5%,#f7f6f6 58.3%)"></i><i style="background:linear-gradient(#f6f7f7 0%,#f3a481 0.8%,#f8bfa4 1.7%,#f9ede5 2.5%,#f9ede5 3.3%,#fddcc9 5.8%,#f4a683 9.2%,#ec9374 10%,#de735c 13.3%,#da6853 17.5%,#da6853 21.7%,#e37e64 28.3%,#ec9374 32.5%,#f09c7b 33.3%,#facab1 35.8%,#fcdecd 37.5%,#f9f0eb 41.7%,#f5f6f7 49.2%,#f7f6f6 62.5%)"></i><i style="background:linear-gradient(#f6f7f7 0%,#fae9df 0.8%,#f9ede5 1.7%,#f8f4f2 2.5%,#faeae1 8.3%,#fdddcb 11.7%,#f5ac8b 15%,#ee9677 15.8%,#e17860 19.2%,#e17860 26.7%,#ee9677 33.3%,#f6b191 35%,#fdd9c4 38.3%,#f9eee7 42.5%,#f6f7f7 47.5%,#f7f6f6 66.7%)"></i><i style="background:linear-gradient(#f6f7f7 0%,#fddbc7 0.8%,#fce2d2 1.7%,#f8f2ef 2.5%,#f9ede5 5%,#fcdecd 8.3%,#fbceb7 10%,#f3a481 12.5%,#ea8e70 14.2%,#df765e 18.3%,#dd7059 21.7%,#e37e64 27.5%,#ee9677 32.5%,#f19e7d 33.3%,#fcd3bc 36.7%,#fbe5d8 39.2%,#f8f3f0 43.3%,#f5f6f7 50%,#f7f6f6 69.2%)"></i><i style="background:linear-gradient(#f6f7f7 0%,#f8bda1 0.8%,#fcd3bc 1.7%,#f9efe9 2.5%,#f9f0eb 3.3%,#fdddcb 6.7%,#f8bfa4 9.2%,#f19e7d 10.8%,#e8896c 12.5%,#de735c 16.7%,#db6b55 20.8%,#e48066 28.3%,#ee9677 32.5%,#f2a17f 33.3%,#fdd9c4 36.7%,#f9efe9 40.8%,#f7f6f6 45.8%,#f7f6f6 72.5%)"></i><i style="background:linear-gradient(#f6f7f7 0%,#fae9df 0.8%,#f9ede5 1.7%,#f8f4f2 2.5%,#fae9df 10%,#fcdecd 12.5%,#f8bfa4 15%,#f5a886 15.8%,#ec9374 16.7%,#e17860 20%,#e27b62 26.7%,#ef9979 33.3%,#f8bda1 35.8%,#fcdfcf 39.2%,#f8f1ed 43.3%,#f5f6f7 46.7%,#f5f6f7 55.8%,#f7f6f6 77.5%)"></i><i style="background:linear-gradient(#f6f7f7 0%,#f2a17f 0.8%,#f8bb9e 1.7%,#f9ebe3 2.5%,#f9ede5 3.3%,#fddcc9 5.8%,#f19e7d 9.2%,#e8896c 10.8%,#dc6e57 14.2%,#d86551 20%,#e48066 28.3%,#f09c7b 32.5%,#f4a683 33.3%,#fcd3bc 35.8%,#fbe3d4 37.5%,#f8f4f2 41.7%,#f6f7f7 59.2%,#f7f6f6 81.7%)"></i><i style="background:linear-gradient(#f6f7f7 0%,#fae9df 0.8%,#f9ede5 1.7%,#f8f4f2 2.5%,#faeae1 8.3%,#fddcc9 11.7%,#f5aa89 15%,#ee9677 15.8%,#e17860 19.2%,#e17860 25%,#e6866a 29.2%,#ef9979 32.5%,#f6af8e 34.2%,#fdd9c4 37.5%,#f8f1ed 42.5%,#f5f6f7 45.8%,#f5f6f7 55.8%,#f7f6f6 85%)"></i><i style="background:linear-gradient(#f6f7f7 0%,#fddbc7 0.8%,#fce0d0 1.7%,#f8f1ed 2.5%,#f9f0eb 4.2%,#fdddcb 8.3%,#f8bfa4 10.8%,#f2a17f 12.5%,#ec9374 13.3%,#e17860 17.5%,#dd7059 20.8%,#e58368 28.3%,#f19e7d 32.5%,#f5a886 33.3%,#fbceb7 35.8%,#fbe4d6 38.3%,#f8f3f0 42.5%,#f5f6f7 46.7%,#f7f6f6 85%)"></i><i style="background:linear-gradient(#f6f7f7 0%,#f8bda1 0.8%,#fbceb7 1.7%,#f9efe9 2.5%,#f9ebe3 4.2%,#fcd5bf 7.5%,#f09c7b 10.8%,#e48066 13.3%,#db6b55 20%,#e8896c 29.2%,#ee9677 31.7%,#f5ac8b 33.3%,#fcd5bf 35.8%,#fae7dc 38.3%,#f8f4f2 42.5%,#f5f6f7 52.5%,#f7f6f6 85%)"></i><i style="background:linear-gradient(#f6f7f7 0%,#fae9df 0.8%,#f9ebe3 1.7%,#f8f4f2 2.5%,#fae7dc 10.8%,#fcd5bf 13.3%,#f8bda1 15%,#f5a886 15.8%,#ec9374 16.7%,#e17860 20%,#e37e64 26.7%,#ee9677 31.7%,#f5a886 33.3%,#fddbc7 37.5%,#f7f5f4 43.3%,#eff3f5 50%,#f7f6f6 65%,#f7f6f6 85%)"></i><i style="background:linear-gradient(#f6f7f7 0%,#f2a17f 0.8%,#f7b799 1.7%,#f9ebe3 2.5%,#f9ede5 3.3%,#fddcc9 5.8%,#f6af8e 8.3%,#f09c7b 9.2%,#e6866a 10.8%,#dc6e57 14.2%,#d86551 20%,#e48066 27.5%,#f09c7b 31.7%,#f6b191 33.3%,#fbceb7 35%,#fddbc7 35.8%,#f9eee7 39.2%,#f7f6f6 42.5%,#f7f6f6 85%)"></i><i style="background:linear-gradient(#f6f7f7 0%,#fae9df 0.8%,#f9ebe3 1.7%,#f8f4f2 2.5%,#faeae1 8.3%,#fddbc7 11.7%,#f5aa89 15%,#ee9677 15.8%,#e37e64 18.3%,#df765e 20.8%,#e58368 27.5%,#f09c7b 31.7%,#f7b99c 34.2%,#fdd9c4 36.7%,#f8f1ed 41.7%,#f5f6f7 44.2%,#eff3f5 50.8%,#f6f7f7 63.3%,#f7f6f6 85%)"></i><i style="background:linear-gradient(#f6f7f7 0%,#fddbc7 0.8%,#fcdfcf 1.7%,#f8f1ed 2.5%,#f9f0eb 4.2%,#fddcc9 8.3%,#f8bda1 10.8%,#f19e7d 12.5%,#e98b6e 14.2%,#df765e 18.3%,#dd7059 20.8%,#e8896c 28.3%,#ee9677 30.8%,#f7b596 33.3%,#fcdecd 36.7%,#f8f3f0 41.7%,#f3f5f6 45.8%,#f7f6f6 85%)"></i><i style="background:linear-gradient(#f6f7f7 0%,#f8bda1 0.8%,#fbccb4 1.7%,#f9eee7 2.5%,#f9efe9 3.3%,#fddcc9 6.7%,#f8bb9e 9.2%,#ef9979 10.8%,#e27b62 14.2%,#db6b55 19.2%,#e8896c 28.3%,#ef9979 30.8%,#f7b799 33.3%,#fddcc9 35.8%,#f9f0eb 40%,#f6f7f7 43.3%,#f7f6f6 81.7%)"></i><i style="background:linear-gradient(#f6f7f7 0%,#fae9df 0.8%,#f9ebe3 1.7%,#f8f4f2 2.5%,#fae7dc 10.8%,#fcd5bf 13.3%,#f8bda1 15%,#f4a683 15.8%,#ec9374 16.7%,#e17860 20%,#e48066 26.7%,#ee9677 30.8%,#f8bda1 34.2%,#fddbc7 36.7%,#f7f5f4 42.5%,#ecf2f5 48.3%,#f6f7f7 63.3%,#f7f6f6 81.7%)"></i><i style="background:linear-gradient(#f6f7f7 0%,#f2a17f 0.8%,#f7b596 1.7%,#f9ebe3 2.5%,#f9ede5 3.3%,#fddbc7 5.8%,#ef9979 9.2%,#dd7059 13.3%,#d86551 19.2%,#e48066 26.7%,#f19e7d 30.8%,#f8bb9e 33.3%,#fcdfcf 35.8%,#f8f2ef 40%,#f6f7f7 43.3%,#f7f6f6 81.7%)"></i><i style="background:linear-gradient(#f6f7f7 0%,#fae9df 0.8%,#f9ebe3 1.7%,#f8f4f2 2.5%,#f9ede5 7.5%,#fddbc7 11.7%,#f5a886 15%,#ee9677 15.8%,#e37e64 18.3%,#df765e 20%,#e58368 26.7%,#f19e7d 30.8%,#f7b99c 33.3%,#fdd9c4 35.8%,#f8f1ed 40.8%,#f5f6f7 43.3%,#ecf2f5 48.3%,#f6f7f7 63.3%,#f7f6f6 81.7%)"></i><i style="background:linear-gradient(#f6f7f7 0%,#fddbc7 0.8%,#fcdfcf 1.7%,#f8f1ed 2.5%,#f9f0eb 4.2%,#fddcc9 8.3%,#f8bda1 10.8%,#f19e7d 12.5%,#e6866a 15%,#de735c 19.2%,#df765e 22.5%,#e8896c 27.5%,#ef9979 30%,#f8bfa4 33.3%,#fcd7c2 35%,#faeae1 38.3%,#f6f7f7 42.5%,#f0f4f6 50%,#f7f6f6 70%,#f7f6f6 81.7%)"></i><i style="background:linear-gradient(#f6f7f7 0%,#f8bda1 0.8%,#facab1 1.7%,#f9eee7 2.5%,#f9efe9 3.3%,#fddcc9 6.7%,#f5aa89 10%,#ef9979 10.8%,#e27b62 14.2%,#dc6e57 18.3%,#dc6e57 20.8%,#e8896c 27.5%,#f09c7b 30%,#f9c2a7 33.3%,#fddbc7 35%,#f9f0eb 39.2%,#f6f7f7 42.5%,#f3f5f6 52.5%,#f7f6f6 81.7%)"></i><i style="background:linear-gradient(#f6f7f7 0%,#fae9df 0.8%,#f9ebe3 1.7%,#f8f4f2 2.5%,#fae9df 10%,#fdddcb 12.5%,#f8bda1 15%,#f4a683 15.8%,#ec9374 16.7%,#e58368 18.3%,#e17860 20%,#e6866a 26.7%,#f09c7b 30%,#fddbc7 35.8%,#f7f6f6 41.7%,#e9f0f4 47.5%,#f6f7f7 62.5%,#f7f6f6 81.7%)"></i><i style="background:linear-gradient(#f6f7f7 0%,#f2a17f 0.8%,#f6b394 1.7%,#f9ebe3 2.5%,#f9ede5 3.3%,#fddbc7 5.8%,#ef9979 9.2%,#dd7059 13.3%,#d86551 18.3%,#e17860 24.2%,#ee9677 29.2%,#f8bda1 32.5%,#fdddcb 35%,#f8f2ef 39.2%,#f5f6f7 44.2%,#f7f6f6 81.7%)"></i><i style="background:linear-gradient(#f6f7f7 0%,#fae9df 0.8%,#f9ebe3 1.7%,#f8f4f2 2.5%,#f9eee7 6.7%,#fce0d0 10.8%,#fddbc7 11.7%,#f5a886 15%,#ec9374 15.8%,#e37e64 18.3%,#e17860 20.8%,#ea8e70 27.5%,#ef9979 29.2%,#fcdecd 35.8%,#f6f7f7 41.7%,#eaf1f5 48.3%,#f6f7f7 62.5%,#f7f6f6 81.7%)"></i><i style="background:linear-gradient(#f6f7f7 0%,#fddbc7 0.8%,#fcdecd 1.7%,#f8f1ed 2.5%,#f9f0eb 4.2%,#fddcc9 8.3%,#f6af8e 11.7%,#f19e7d 12.5%,#e6866a 15%,#de735c 19.2%,#de735c 20.8%,#ea8e70 27.5%,#f09c7b 29.2%,#fdddcb 35%,#f8f1ed 39.2%,#f5f6f7 42.5%,#eff3f5 50%,#f6f7f7 63.3%,#f7f6f6 81.7%)"></i><i style="background:linear-gradient(#f6f7f7 0%,#f8bda1 0.8%,#facab1 1.7%,#f9eee7 2.5%,#f9efe9 3.3%,#fddcc9 6.7%,#f5aa89 10%,#ef9979 10.8%,#e48066 13.3%,#dd7059 16.7%,#dd7059 20.8%,#ea8e70 27.5%,#f19e7d 29.2%,#fcdfcf 35%,#f8f4f2 40%,#f2f5f6 45.8%,#f7f6f6 81.7%)"></i><i style="background:linear-gradient(#f6f7f7 0%,#fae9df 0.8%,#f9ebe3 1.7%,#f8f4f2 2.5%,#fae9df 10%,#fdddcb 12.5%,#f8bda1 15%,#f4a683 15.8%,#ec9374 16.7%,#e37e64 19.2%,#e37e64 22.5%,#eb9172 27.5%,#f19e7d 29.2%,#fddcc9 35%,#f7f5f4 40.8%,#e7f0f4 46.7%,#ecf2f5 52.5%,#f6f7f7 61.7%,#f7f6f6 81.7%)"></i><i style="background:linear-gradient(#f6f7f7 0%,#f2a17f 0.8%,#f6b191 1.7%,#faeae1 2.5%,#f9ede5 3.3%,#fddbc7 5.8%,#ef9979 9.2%,#dd7059 13.3%,#da6853 17.5%,#da6853 20%,#ee9677 28.3%,#f7b799 30.8%,#fce2d2 35%,#f8f3f0 39.2%,#f5f6f7 43.3%,#f7f6f6 81.7%)"></i><i style="background:linear-gradient(#f6f7f7 0%,#fae9df 0.8%,#f9ebe3 1.7%,#f8f4f2 2.5%,#f9eee7 6.7%,#fce0d0 10.8%,#fddbc7 11.7%,#f5a886 15%,#ee9677 15.8%,#e6866a 17.5%,#e17860 20%,#ea8e70 26.7%,#f4a683 29.2%,#fddbc7 34.2%,#f6f7f7 40.8%,#e9f0f4 46.7%,#f6f7f7 63.3%,#f7f6f6 81.7%)"></i><i style="background:linear-gradient(#f6f7f7 0%,#fddbc7 0.8%,#fcdecd 1.7%,#f8f1ed 2.5%,#f9f0eb 4.2%,#fddcc9 8.3%,#f6af8e 11.7%,#f19e7d 12.5%,#e6866a 15%,#de735c 19.2%,#e6866a 25%,#ee9677 27.5%,#f6b394 30%,#fce2d2 35%,#f8f3f0 39.2%,#f3f5f6 42.5%,#eff3f5 50%,#f6f7f7 63.3%,#f7f6f6 81.7%)"></i><i style="background:linear-gradient(#f6f7f7 0%,#f8bda1 0.8%,#facab1 1.7%,#f9eee7 2.5%,#f9efe9 3.3%,#fddcc9 6.7%,#f5aa89 10%,#ef9979 10.8%,#e27b62 14.2%,#dc6e57 19.2%,#e6866a 25%,#ee9677 27.5%,#f5aa89 29.2%,#fcdecd 34.2%,#f8f1ed 38.3%,#f5f6f7 41.7%,#f2f5f6 50.8%,#f7f6f6 81.7%)"></i><i style="background:linear-gradient(#f6f7f7 0%,#fae9df 0.8%,#f9ebe3 1.7%,#f8f4f2 2.5%,#fae9df 10%,#fdddcb 12.5%,#f8bda1 15%,#f5a886 15.8%,#ec9374 16.7%,#e27b62 20%,#eb9172 26.7%,#f19e7d 28.3%,#fddcc9 34.2%,#f6f7f7 40.8%,#e6eff4 46.7%,#ecf2f5 52.5%,#f6f7f7 61.7%,#f7f6f6 81.7%)"></i><i style="background:linear-gradient(#f6f7f7 0%,#f2a17f 0.8%,#f6b394 1.7%,#faeae1 2.5%,#f9ede5 3.3%,#fddbc7 5.8%,#ef9979 9.2%,#dd7059 13.3%,#da6853 19.2%,#ea8e70 26.7%,#f2a17f 28.3%,#fdd9c4 33.3%,#f9ede5 36.7%,#f6f7f7 40.8%,#f7f6f6 81.7%)"></i><i style="background:linear-gradient(#f6f7f7 0%,#fae9df 0.8%,#f9ebe3 1.7%,#f8f4f2 2.5%,#f9ede5 7.5%,#fddbc7 11.7%,#f5aa89 15%,#ee9677 15.8%,#e48066 18.3%,#e27b62 20.8%,#ee9677 27.5%,#f7b799 30%,#fce2d2 35%,#f7f5f4 40%,#e7f0f4 47.5%,#f6f7f7 61.7%,#f7f6f6 81.7%)"></i><i style="background:linear-gradient(#f6f7f7 0%,#fddbc7 0.8%,#fcdfcf 1.7%,#f8f1ed 2.5%,#f9f0eb 4.2%,#fddcc9 8.3%,#f8bda1 10.8%,#f2a17f 12.5%,#ec9374 13.3%,#e27b62 17.5%,#df765e 20%,#eb9172 26.7%,#f4a683 28.3%,#fdd9c4 33.3%,#f9efe9 37.5%,#f6f7f7 40.8%,#edf2f5 48.3%,#f6f7f7 63.3%,#f7f6f6 81.7%)"></i><i style="background:linear-gradient(#f6f7f7 0%,#f8bda1 0.8%,#facab1 1.7%,#f9eee7 2.5%,#f9efe9 3.3%,#fbe3d4 5.8%,#fcd5bf 7.5%,#f5ac8b 10%,#ef9979 10.8%,#e17860 15%,#dd7059 19.2%,#e27b62 22.5%,#ef9979 27.5%,#fbccb4 31.7%,#fae9df 35.8%,#f6f7f7 40.8%,#f2f5f6 49.2%,#f7f6f6 81.7%)"></i><i style="background:linear-gradient(#f6f7f7 0%,#fae9df 0.8%,#f9ebe3 1.7%,#f8f4f2 2.5%,#fae9df 10%,#fdddcb 12.5%,#f8bfa4 15%,#f5aa89 15.8%,#ee9677 16.7%,#e48066 19.2%,#e48066 21.7%,#ef9979 27.5%,#f9c2a7 30.8%,#fbe6da 35.8%,#f5f6f7 40.8%,#e4eef4 46.7%,#f3f5f6 56.7%,#f7f6f6 81.7%)"></i><i style="background:linear-gradient(#f6f7f7 0%,#f2a17f 0.8%,#f6b394 1.7%,#f9ebe3 2.5%,#f9ede5 3.3%,#fddcc9 5.8%,#f6af8e 8.3%,#f09c7b 9.2%,#e37e64 11.7%,#db6b55 15.8%,#dc6e57 20%,#eb9172 26.7%,#f4a683 28.3%,#f9c6ac 30.8%,#fbe6da 35%,#f7f5f4 39.2%,#f5f6f7 54.2%,#f7f6f6 81.7%)"></i><i style="background:linear-gradient(#f6f7f7 0%,#fae9df 0.8%,#f9ebe3 1.7%,#f8f4f2 2.5%,#faeae1 8.3%,#fddcc9 11.7%,#f5ac8b 15%,#ef9979 15.8%,#e8896c 17.5%,#e27b62 20%,#ee9677 26.7%,#f6b394 29.2%,#fcd5bf 32.5%,#f9eee7 37.5%,#f5f6f7 40.8%,#e7f0f4 48.3%,#f6f7f7 60.8%,#f7f6f6 81.7%)"></i><i style="background:linear-gradient(#f6f7f7 0%,#fddbc7 0.8%,#fcdfcf 1.7%,#f8f1ed 2.5%,#f9f0eb 4.2%,#fdddcb 8.3%,#f8bfa4 10.8%,#f3a481 12.5%,#ea8e70 14.2%,#e17860 18.3%,#e17860 20.8%,#ee9677 26.7%,#fac8af 30.8%,#fbe5d8 35%,#f7f6f6 40%,#edf2f5 48.3%,#f6f7f7 63.3%,#f7f6f6 81.7%)"></i><i style="background:linear-gradient(#f6f7f7 0%,#f8bda1 0.8%,#facab1 1.7%,#f9eee7 2.5%,#f9ede5 4.2%,#fcd5bf 7.5%,#f6af8e 10%,#eb9172 11.7%,#e27b62 15%,#de735c 19.2%,#e37e64 22.5%,#ee9677 26.7%,#f7b799 29.2%,#fdd9c4 32.5%,#f9f0eb 37.5%,#f6f7f7 40.8%,#f2f5f6 49.2%,#f7f6f6 81.7%)"></i><i style="background:linear-gradient(#f6f7f7 0%,#fae9df 0.8%,#f9ebe3 1.7%,#f8f4f2 2.5%,#f9f0eb 6.7%,#fbe4d6 11.7%,#fbccb4 14.2%,#f9c2a7 15%,#f5ac8b 15.8%,#ef9979 16.7%,#e8896c 18.3%,#e48066 20.8%,#ee9677 26.7%,#f8bfa4 30%,#fddcc9 33.3%,#f7f6f6 40%,#e6eff4 46.7%,#f6f7f7 61.7%,#f7f6f6 81.7%)"></i><i style="background:linear-gradient(#f6f7f7 0%,#f2a17f 0.8%,#f7b596 1.7%,#f9ebe3 2.5%,#f9ede5 3.3%,#fbe3d4 5%,#fbd0b9 6.7%,#f19e7d 9.2%,#e8896c 10.8%,#dd7059 14.2%,#dd7059 20%,#ee9677 26.7%,#f6af8e 28.3%,#fcd5bf 31.7%,#f9efe9 36.7%,#f6f7f7 40.8%,#f7f6f6 81.7%)"></i><i style="background:linear-gradient(#f6f7f7 0%,#fae9df 0.8%,#f9ebe3 1.7%,#f8f4f2 2.5%,#f9ede5 7.5%,#fdddcb 11.7%,#f6b191 15%,#f09c7b 15.8%,#e98b6e 17.5%,#e37e64 20%,#ef9979 26.7%,#f9c6ac 30%,#fdd9c4 32.5%,#f8f4f2 39.2%,#ecf2f5 44.2%,#ecf2f5 51.7%,#f6f7f7 62.5%,#f7f6f6 78.3%)"></i><i style="background:linear-gradient(#f6f7f7 0%,#fddbc7 0.8%,#fcdfcf 1.7%,#f8f1ed 2.5%,#f9f0eb 4.2%,#fcdecd 8.3%,#f7b596 11.7%,#ef9979 13.3%,#e37e64 17.5%,#e37e64 20.8%,#ec9374 25.8%,#f5a886 27.5%,#fac8af 30%,#fcdfcf 33.3%,#f7f5f4 39.2%,#edf2f5 48.3%,#f6f7f7 63.3%,#f7f6f6 80.8%)"></i><i style="background:linear-gradient(#f6f7f7 0%,#f8bda1 0.8%,#fbccb4 1.7%,#f9eee7 2.5%,#f9f0eb 3.3%,#fcdecd 6.7%,#f8bfa4 9.2%,#f2a17f 10.8%,#e98b6e 12.5%,#e17860 16.7%,#e17860 20.8%,#ec9374 25.8%,#f5a886 27.5%,#fbccb4 30%,#fae8de 35%,#f7f6f6 40%,#f2f5f6 50.8%,#f6f7f7 73.3%,#f7f6f6 81.7%)"></i><i style="background:linear-gradient(#f6f7f7 0%,#fae9df 0.8%,#f9ebe3 1.7%,#f8f4f2 2.5%,#f9efe9 7.5%,#fae8de 10.8%,#fdd9c4 13.3%,#f9c6ac 15%,#f19e7d 16.7%,#e6866a 19.2%,#e8896c 22.5%,#ee9677 25.8%,#f5aa89 27.5%,#fcd5bf 30.8%,#f7f6f6 40%,#e6eff4 46.7%,#f6f7f7 61.7%,#f7f6f6 81.7%)"></i><i style="background:linear-gradient(#f6f7f7 0%,#f2a17f 0.8%,#f7b596 1.7%,#f9ebe3 2.5%,#f9ede5 3.3%,#fdddcb 5.8%,#f3a481 9.2%,#ec9374 10%,#df765e 13.3%,#dd7059 19.2%,#ea8e70 25%,#f09c7b 26.7%,#fbd0b9 30%,#fdddcb 31.7%,#f8f2ef 37.5%,#f5f6f7 41.7%,#f7f6f6 81.7%)"></i><i style="background:linear-gradient(#f6f7f7 0%,#fae9df 0.8%,#f9ebe3 1.7%,#f8f4f2 2.5%,#f9ede5 7.5%,#fdddcb 11.7%,#f7b596 15%,#f3a481 15.8%,#ec9374 16.7%,#e58368 20%,#ec9374 25%,#f3a481 26.7%,#fcd5bf 30%,#fcdecd 31.7%,#f6f7f7 40%,#e9f0f4 47.5%,#f6f7f7 61.7%,#f7f6f6 81.7%)"></i><i style="background:linear-gradient(#f6f7f7 0%,#fddbc7 0.8%,#fcdfcf 1.7%,#f8f1ed 2.5%,#f9f0eb 4.2%,#fdd9c4 9.2%,#f7b99c 11.7%,#f09c7b 13.3%,#e6866a 16.7%,#e37e64 20%,#ef9979 25.8%,#f6b394 27.5%,#fddbc7 30%,#f7f5f4 39.2%,#eff3f5 48.3%,#f6f7f7 65%,#f7f6f6 81.7%)"></i><i style="background:linear-gradient(#f6f7f7 0%,#f8bda1 0.8%,#fbccb4 1.7%,#f9eee7 2.5%,#f9f0eb 3.3%,#fcdecd 6.7%,#f9c2a7 9.2%,#ee9677 11.7%,#e48066 15%,#e17860 20%,#ef9979 25.8%,#f4a683 26.7%,#fdddcb 30%,#fbe5d8 32.5%,#f7f6f6 39.2%,#f2f5f6 50%,#f7f6f6 81.7%)"></i><i style="background:linear-gradient(#f6f7f7 0%,#fae9df 0.8%,#f9ebe3 1.7%,#f8f4f2 2.5%,#f9eee7 8.3%,#fbe5d8 11.7%,#fddbc7 13.3%,#fac8af 15%,#f4a683 16.7%,#ee9677 17.5%,#e6866a 20%,#ee9677 25%,#f5aa89 26.7%,#fcd7c2 29.2%,#fbe4d6 30.8%,#f9f0eb 36.7%,#f5f6f7 40%,#e7f0f4 47.5%,#f6f7f7 61.7%,#f7f6f6 81.7%)"></i><i style="background:linear-gradient(#f6f7f7 0%,#f3a481 0.8%,#f7b799 1.7%,#f9ebe3 2.5%,#f9eee7 3.3%,#fdddcb 5.8%,#f7b799 8.3%,#f4a683 9.2%,#ee9677 10%,#e37e64 12.5%,#de735c 15.8%,#df765e 20%,#f09c7b 25.8%,#f7b99c 27.5%,#fddbc7 29.2%,#fae7dc 30.8%,#f7f6f6 39.2%,#f6f7f7 60%,#f7f6f6 81.7%)"></i><i style="background:linear-gradient(#f6f7f7 0%,#fae9df 0.8%,#f9ebe3 1.7%,#f8f4f2 2.5%,#f9ebe3 8.3%,#fcdecd 11.7%,#f7b99c 15%,#f5a886 15.8%,#ef9979 16.7%,#e8896c 19.2%,#e8896c 20.8%,#f09c7b 25%,#f6b191 26.7%,#fcdecd 29.2%,#faeae1 30.8%,#f9efe9 35%,#f6f7f7 39.2%,#eaf1f5 47.5%,#f6f7f7 62.5%,#f7f6f6 81.7%)"></i><i style="background:linear-gradient(#f6f7f7 0%,#fddbc7 0.8%,#fce0d0 1.7%,#f8f1ed 2.5%,#f8f1ed 4.2%,#fddbc7 9.2%,#ee9677 14.2%,#e58368 18.3%,#e58368 20.8%,#f09c7b 25%,#f4a683 25.8%,#f9c2a7 27.5%,#fce2d2 29.2%,#f9eee7 30.8%,#f8f4f2 36.7%,#f0f4f6 44.2%,#f6f7f7 74.2%,#f7f6f6 81.7%)"></i><i style="background:linear-gradient(#f6f7f7 0%,#f8bfa4 0.8%,#fbceb7 1.7%,#f9efe9 2.5%,#f9f0eb 3.3%,#fcdfcf 6.7%,#f9c4a9 9.2%,#ef9979 11.7%,#e58368 15%,#e37e64 19.2%,#e8896c 22.5%,#ef9979 25%,#f7b596 26.7%,#fdd9c4 28.3%,#f9eee7 30%,#f8f2ef 30.8%,#f8f3f0 35%,#f5f6f7 39.2%,#f5f6f7 55%,#f7f6f6 81.7%)"></i><i style="background:linear-gradient(#f6f7f7 0%,#fae9df 0.8%,#f9ede5 1.7%,#f8f4f2 2.5%,#f9eee7 8.3%,#fbe6da 11.7%,#fbccb4 15%,#f5aa89 16.7%,#f09c7b 17.5%,#e98b6e 20%,#ef9979 24.2%,#f7b799 26.7%,#fddcc9 28.3%,#f8f1ed 30%,#f7f5f4 30.8%,#f8f4f2 34.2%,#f0f4f6 41.7%,#eaf1f5 49.2%,#f6f7f7 61.7%,#f7f6f6 81.7%)"></i><i style="background:linear-gradient(#f6f7f7 0%,#f3a481 0.8%,#f7b99c 1.7%,#f9ebe3 2.5%,#f9eee7 3.3%,#fcdecd 5.8%,#f7b99c 8.3%,#ee9677 10%,#e37e64 13.3%,#df765e 16.7%,#e37e64 20.8%,#f09c7b 25%,#f7b99c 26.7%,#fcdecd 28.3%,#f8f4f2 30%,#f7f6f6 33.3%,#f7f6f6 81.7%)"></i><i style="background:linear-gradient(#f6f7f7 0%,#fae9df 0.8%,#f9ede5 1.7%,#f8f4f2 2.5%,#f8f1ed 5.8%,#fbe4d6 10.8%,#fbd0b9 13.3%,#f8bda1 15%,#f2a17f 16.7%,#eb9172 18.3%,#e98b6e 20.8%,#f19e7d 24.2%,#f8bda1 26.7%,#fce2d2 28.3%,#f6f7f7 30%,#eff3f5 30.8%,#f3f5f6 35%,#eff3f5 50.8%,#f6f7f7 64.2%,#f7f6f6 81.7%)"></i><i style="background:linear-gradient(#f6f7f7 0%,#fddbc7 0.8%,#fce2d2 1.7%,#f8f2ef 2.5%,#f8f1ed 4.2%,#fddbc7 9.2%,#f8bfa4 11.7%,#f09c7b 14.2%,#e8896c 17.5%,#e8896c 20.8%,#f09c7b 24.2%,#f6b394 25.8%,#fbe4d6 28.3%,#f9f0eb 29.2%,#f2f5f6 30%,#ecf2f5 31.7%,#f2f5f6 35%,#f3f5f6 53.3%,#f7f6f6 81.7%)"></i><i style="background:linear-gradient(#f6f7f7 0%,#f8bfa4 0.8%,#fcd3bc 1.7%,#f9efe9 2.5%,#f8f1ed 3.3%,#fddbc7 7.5%,#f19e7d 11.7%,#ea8e70 13.3%,#e48066 18.3%,#e48066 20%,#ef9979 24.2%,#f6b394 25.8%,#f9c2a7 26.7%,#fcd7c2 27.5%,#f8f2ef 29.2%,#eff3f5 30%,#e7f0f4 30.8%,#f0f4f6 35.8%,#f7f6f6 82.5%)"></i><i style="background:linear-gradient(#f6f7f7 0%,#fae9df 0.8%,#f9ede5 1.7%,#f8f4f2 2.5%,#f9eee7 8.3%,#fbe6da 11.7%,#fbd0b9 15%,#f3a481 17.5%,#ee9677 18.3%,#eb9172 20.8%,#f09c7b 23.3%,#f7b99c 25.8%,#f9c6ac 26.7%,#fae7dc 28.3%,#f8f4f2 29.2%,#e4eef4 30.8%,#edf2f5 35.8%,#eff3f5 51.7%,#f6f7f7 64.2%,#f7f6f6 85%)"></i><i style="background:linear-gradient(#f6f7f7 0%,#f4a683 0.8%,#f8bfa4 1.7%,#f9ede5 2.5%,#f9f0eb 3.3%,#fcdfcf 5.8%,#f5ac8b 9.2%,#f09c7b 10%,#e58368 12.5%,#e27b62 16.7%,#e37e64 20%,#ef9979 24.2%,#f9c4a9 26.7%,#fae8de 28.3%,#f7f5f4 29.2%,#e3edf3 30.8%,#eff3f5 35.8%,#f5f6f7 47.5%,#f7f6f6 87.5%)"></i><i style="background:linear-gradient(#f6f7f7 0%,#fae9df 0.8%,#f9ede5 1.7%,#f8f4f2 2.5%,#f8f1ed 5.8%,#fce0d0 11.7%,#f9c2a7 15%,#f5a886 16.7%,#ec9374 18.3%,#ea8e70 20%,#ee9677 22.5%,#f6b191 25%,#fac8af 26.7%,#fae9df 28.3%,#f7f6f6 29.2%,#e1edf3 30.8%,#ecf2f5 35%,#f3f5f6 54.2%,#f7f6f6 90.8%)"></i><i style="background:linear-gradient(#f6f7f7 0%,#fddcc9 0.8%,#fbe4d6 1.7%,#f8f2ef 2.5%,#f8f4f2 3.3%,#fddcc9 9.2%,#f7b799 12.5%,#f3a481 14.2%,#ec9374 15.8%,#e8896c 20%,#ef9979 23.3%,#f8bb9e 25.8%,#fddcc9 27.5%,#f7f6f6 29.2%,#e1edf3 30.8%,#edf2f5 35.8%,#f6f7f7 68.3%,#f7f6f6 91.7%)"></i><i style="background:linear-gradient(#f6f7f7 0%,#f9c2a7 0.8%,#fdd9c4 1.7%,#f9f0eb 2.5%,#f8f3f0 3.3%,#fcd3bc 8.3%,#f3a481 11.7%,#ee9677 12.5%,#e6866a 17.5%,#e8896c 20.8%,#ee9677 23.3%,#f8bb9e 25.8%,#fddcc9 27.5%,#f7f6f6 29.2%,#e9f0f4 30%,#e3edf3 31.7%,#eff3f5 36.7%,#f6f7f7 61.7%,#f7f6f6 91.7%)"></i><i style="background:linear-gradient(#f6f7f7 0%,#fae9df 0.8%,#f7f5f4 2.5%,#f8f2ef 5.8%,#fae7dc 11.7%,#fcd3bc 15%,#f7b596 16.7%,#f19e7d 18.3%,#ec9374 20%,#ee9677 21.7%,#f3a481 23.3%,#f8bda1 25.8%,#facab1 26.7%,#fae8de 28.3%,#f7f5f4 29.2%,#e3edf3 30.8%,#edf2f5 36.7%,#f2f5f6 53.3%,#f6f7f7 72.5%,#f7f6f6 83.3%)"></i><i style="background:linear-gradient(#f6f7f7 0%,#f5a886 0.8%,#facab1 1.7%,#f9efe9 2.5%,#f8f3f0 3.3%,#fcd7c2 6.7%,#f2a17f 10%,#ec9374 10.8%,#e58368 13.3%,#e37e64 17.5%,#e98b6e 21.7%,#ee9677 23.3%,#f5ac8b 25%,#fac8af 26.7%,#fae7dc 28.3%,#f8f4f2 29.2%,#e7f0f4 30.8%,#f5f6f7 41.7%,#f6f7f7 70.8%)"></i><i style="background:linear-gradient(#f6f7f7 0%,#fae9df 0.8%,#f7f5f4 2.5%,#f8f3f0 5%,#fbe5d8 10.8%,#fcd5bf 13.3%,#f9c6ac 15%,#f5ac8b 16.7%,#ef9979 18.3%,#ec9374 20.8%,#f19e7d 22.5%,#f7b596 25%,#facab1 26.7%,#fddcc9 27.5%,#f8f2ef 29.2%,#f0f4f6 30%,#e9f0f4 30.8%,#f0f4f6 36.7%,#f5f6f7 55.8%,#f6f7f7 60%)"></i><i style="background:linear-gradient(#f6f7f7 0%,#fddcc9 0.8%,#f8f3f0 2.5%,#f7f6f6 3.3%,#fcd7c2 10%,#f5a886 14.2%,#e37e64 18.3%,#de735c 20%,#e48066 23.3%,#ee9677 25.8%,#f5aa89 26.7%,#fdddcb 28.3%,#f9eee7 29.2%,#f2f5f6 30%,#e9f0f4 30.8%,#f0f4f6 35%,#f5f6f7 52.5%)"></i><i style="background:linear-gradient(#d25849 0%,#ce4f45 0.8%,#ee9677 1.7%,#f9eee7 2.5%,#f7f5f4 3.3%,#fcd5bf 8.3%,#f2a17f 13.3%,#e98b6e 17.5%,#e48066 19.2%,#e58368 21.7%,#ee9677 24.2%,#f2a17f 25%,#fbd0b9 27.5%,#f9eee7 29.2%,#f6f7f7 30%,#f0f4f6 31.7%,#f3f5f6 36.7%,#f5f6f7 45%)"></i><i style="background:linear-gradient(#a51429 0%,#ae172a 0.8%,#dc6e57 1.7%,#faeae1 2.5%,#f7f6f6 3.3%,#f9efe9 5%,#f7f6f6 25.8%,#f6f7f7 40%)"></i><i style="background:linear-gradient(#a51429 0%,#ae172a 0.8%,#dd7059 1.7%,#f9ebe3 2.5%,#f6f7f7 3.3%,#f9f0eb 5%,#f7f6f6 27.5%,#f7f6f6 34.2%)"></i><i style="background:linear-gradient(#a51429 0%,#ae172a 0.8%,#de735c 1.7%,#f9ede5 2.5%,#f5f6f7 3.3%,#f9f0eb 5%,#f7f6f6 27.5%,#f7f6f6 29.2%)"></i><i style="background:linear-gradient(#a51429 0%,#ae172a 0.8%,#df765e 1.7%,#f9eee7 2.5%,#f3f5f6 3.3%,#f9f0eb 5%,#f7f6f6 24.2%)"></i><i style="background:linear-gradient(#a51429 0%,#b1182b 0.8%,#e17860 1.7%,#f9efe9 2.5%,#f2f5f6 3.3%,#f9f0eb 5%,#f7f5f4 19.2%)"></i><i style="background:linear-gradient(#a51429 0%,#b1182b 0.8%,#e17860 1.7%,#f9f0eb 2.5%,#f0f4f6 3.3%,#f9f0eb 5%,#f8f4f2 15%)"></i><i style="background:linear-gradient(#ba2832 0%,#bf3338 0.8%,#ee9677 1.7%,#f8f3f0 2.5%,#f2f5f6 3.3%,#f8f2ef 5%,#f8f4f2 11.7%)"></i><i style="background:#f6f7f7"></i><i style="background:#f6f7f7"></i><i style="background:#f6f7f7"></i><i style="background:#f6f7f7"></i><i style="background:#f6f7f7"></i><i style="background:#f6f7f7"></i></div></foreignObject></g>
<polygon points="53.3,626.3 56.7,626.3 56.9,610.5 57.6,610.5 57.8,622.5 58.9,622.5 59.1,626.3 60.3,626.3 60.5,619.8 61.2,619.8 61.4,583.6 62.3,583.6 62.5,606.2 62.8,622.5 64.6,648.5 66.4,675.7 66.8,664.3 67.7,664.3 67.9,680.1 70.4,680.1 70.6,671.1 71.9,671.1 72.0,679.5 72.9,685.0 73.3,725.2 74.5,725.2 75.8,712.1 76.9,703.2 78.1,708.0 79.4,714.8 81.4,719.5 81.4,719.5 83.4,719.5 83.4,725.2 84.4,725.2 84.4,725.2 85.4,725.2 85.4,725.2 86.4,725.2 86.4,719.5 88.3,719.5 88.3,719.5 90.3,719.5 90.3,719.5 91.3,719.5 91.3,719.5 92.3,719.5 92.3,719.5 94.3,719.5 94.3,725.2 95.3,725.2 95.3,719.5 99.2,719.5 99.2,719.5 101.2,719.5 101.2,719.5 105.2,719.5 105.2,725.2 106.2,725.2 106.2,719.5 107.2,719.5 107.2,719.5 108.1,719.5 108.1,719.5 114.1,719.5 114.1,725.2 117.1,725.2 117.1,719.5 120.0,719.5 120.0,719.5 120.8,719.5 120.8,719.5 122.8,719.5 122.8,725.2 124.8,725.2 124.8,725.2 126.8,725.2 126.8,725.2 127.8,725.2 127.8,725.2 128.8,725.2 128.8,725.2 131.7,725.2 131.7,725.2 132.7,725.2 132.7,725.2 133.7,725.2 133.7,725.2 137.7,725.2 137.7,719.5 138.0,719.5 138.0,719.5 139.9,719.5 139.9,719.5 140.9,719.5 140.9,719.5 144.9,719.5 144.9,719.5 145.9,719.5 145.9,719.5 146.9,719.5 146.9,719.5 147.9,719.5 147.9,719.5 148.8,719.5 148.8,719.5 148.9,713.7 150.0,713.7 150.2,719.5 164.5,719.5 164.7,713.7 165.9,713.7 167.2,701.2 168.6,687.7 169.9,675.7 170.8,675.7 172.2,687.7 174.0,699.9 176.0,713.7 193.4,713.7 193.5,708.3 197.9,708.3 197.9,708.3 203.8,708.3 203.8,708.3 204.6,708.3 204.6,708.3 220.4,708.3 222.2,704.0 223.3,698.0 224.2,698.0 225.5,708.3 227.1,713.7 228.9,719.5 230.9,719.5 232.1,713.7 233.4,701.2 235.7,679.5 237.9,660.5 239.6,648.5 240.8,648.5 242.0,657.8 243.3,660.0 245.0,665.4 250.7,665.4 251.9,675.7 254.1,686.9 256.4,702.6 257.5,708.3 263.6,708.3 263.8,703.2 291.5,703.2 291.7,697.7 293.3,697.7 293.5,703.2 309.3,703.2 311.3,712.1 312.7,719.5 314.9,719.5 315.8,698.5 317.2,671.1 319.4,644.2 322.8,614.9 326.2,589.1 332.5,589.1 332.5,742.0 53.3,742.0" fill="#d3d3d3"/>
<polygon points="429.5,626.3 432.9,626.3 433.1,610.5 433.8,610.5 434.0,622.5 435.1,622.5 435.3,626.3 436.5,626.3 436.7,619.8 437.4,619.8 437.6,583.6 438.5,583.6 438.7,606.2 438.9,622.5 440.8,648.5 442.6,675.7 443.0,664.3 443.9,664.3 444.1,680.1 446.6,680.1 446.8,671.1 448.0,671.1 448.2,679.5 449.1,685.0 449.5,725.2 450.6,725.2 452.0,712.1 453.1,703.2 454.2,708.0 455.6,714.8 457.6,719.5 457.6,719.5 459.6,719.5 459.6,725.2 460.6,725.2 460.6,725.2 461.5,725.2 461.5,725.2 462.5,725.2 462.5,719.5 464.5,719.5 464.5,719.5 466.5,719.5 466.5,719.5 467.5,719.5 467.5,719.5 468.5,719.5 468.5,719.5 470.4,719.5 470.4,725.2 471.4,725.2 471.4,719.5 475.4,719.5 475.4,719.5 477.4,719.5 477.4,719.5 481.3,719.5 481.3,725.2 482.3,725.2 482.3,719.5 483.3,719.5 483.3,719.5 484.3,719.5 484.3,719.5 490.2,719.5 490.2,725.2 493.2,725.2 493.2,719.5 496.2,719.5 496.2,719.5 497.0,719.5 497.0,719.5 499.0,719.5 499.0,725.2 501.0,725.2 501.0,725.2 502.9,725.2 502.9,725.2 503.9,725.2 503.9,725.2 504.9,725.2 504.9,725.2 507.9,725.2 507.9,725.2 508.9,725.2 508.9,725.2 509.9,725.2 509.9,725.2 513.8,725.2 513.8,719.5 514.1,719.5 514.1,719.5 516.1,719.5 516.1,719.5 517.1,719.5 517.1,719.5 521.0,719.5 521.0,719.5 522.0,719.5 522.0,719.5 523.0,719.5 523.0,719.5 524.0,719.5 524.0,719.5 524.9,719.5 524.9,719.5 525.1,713.7 526.2,713.7 526.3,719.5 540.6,719.5 540.8,713.7 542.0,713.7 543.4,701.2 544.7,687.7 546.0,675.7 547.0,675.7 548.3,687.7 550.1,699.9 552.1,713.7 569.5,713.7 569.6,708.3 574.0,708.3 574.0,708.3 579.9,708.3 579.9,708.3 580.7,708.3 580.7,708.3 596.5,708.3 598.2,704.0 599.3,698.0 600.2,698.0 601.6,708.3 603.2,713.7 605.0,719.5 607.0,719.5 608.1,713.7 609.5,701.2 611.8,679.5 614.0,660.5 615.6,648.5 616.9,648.5 618.0,657.8 619.4,660.0 621.0,665.4 626.8,665.4 628.0,675.7 630.2,686.9 632.5,702.6 633.5,708.3 639.6,708.3 639.8,703.2 667.5,703.2 667.7,697.7 669.4,697.7 669.5,703.2 685.3,703.2 687.3,712.1 688.7,719.5 691.0,719.5 691.8,698.5 693.2,671.1 695.5,644.2 698.8,614.9 702.2,589.1 708.5,589.1 708.5,742.0 429.5,742.0" fill="#d3d3d3"/>
<text x="433" y="738.75" font-size="13.89" text-anchor="start">Δ<tspan font-style="italic">τ</tspan><tspan dx="1">′</tspan> <tspan dx="-1.8">=</tspan> <tspan dx="-1.8">−0.14 s</tspan></text>
<text x="705.8" y="738.75" font-size="13.89" text-anchor="end">⟨Δ<tspan font-style="italic">T</tspan><tspan dx="1.2">′</tspan>⟩ <tspan dx="-1.6">=</tspan> <tspan dx="-1.6">0.027 K</tspan></text>
<rect x="53.3" y="579" width="279.2" height="163" fill="none" stroke="#000" stroke-width="1.1"/>
<line x1="62.31" y1="742" x2="62.31" y2="746.86" stroke="#000" stroke-width="1.1"/>
<text x="62.31" y="762.9" font-size="13.89" text-anchor="middle">0</text>
<line x1="152.37" y1="742" x2="152.37" y2="746.86" stroke="#000" stroke-width="1.1"/>
<text x="152.37" y="762.9" font-size="13.89" text-anchor="middle">1000</text>
<line x1="242.44" y1="742" x2="242.44" y2="746.86" stroke="#000" stroke-width="1.1"/>
<text x="242.44" y="762.9" font-size="13.89" text-anchor="middle">2000</text>
<line x1="332.5" y1="742" x2="332.5" y2="746.86" stroke="#000" stroke-width="1.1"/>
<text x="332.5" y="762.9" font-size="13.89" text-anchor="middle">3000</text>
<line x1="48.44" y1="579" x2="53.3" y2="579" stroke="#000" stroke-width="1.1"/>
<line x1="48.44" y1="633.33" x2="53.3" y2="633.33" stroke="#000" stroke-width="1.1"/>
<line x1="48.44" y1="687.67" x2="53.3" y2="687.67" stroke="#000" stroke-width="1.1"/>
<line x1="48.44" y1="742" x2="53.3" y2="742" stroke="#000" stroke-width="1.1"/>
<text x="192.9" y="782.2" font-size="13.89" text-anchor="middle">distance (km)</text>
<rect x="429.5" y="579" width="279" height="163" fill="none" stroke="#000" stroke-width="1.1"/>
<line x1="438.5" y1="742" x2="438.5" y2="746.86" stroke="#000" stroke-width="1.1"/>
<text x="438.5" y="762.9" font-size="13.89" text-anchor="middle">0</text>
<line x1="528.5" y1="742" x2="528.5" y2="746.86" stroke="#000" stroke-width="1.1"/>
<text x="528.5" y="762.9" font-size="13.89" text-anchor="middle">1000</text>
<line x1="618.5" y1="742" x2="618.5" y2="746.86" stroke="#000" stroke-width="1.1"/>
<text x="618.5" y="762.9" font-size="13.89" text-anchor="middle">2000</text>
<line x1="708.5" y1="742" x2="708.5" y2="746.86" stroke="#000" stroke-width="1.1"/>
<text x="708.5" y="762.9" font-size="13.89" text-anchor="middle">3000</text>
<line x1="424.64" y1="579" x2="429.5" y2="579" stroke="#000" stroke-width="1.1"/>
<line x1="424.64" y1="633.33" x2="429.5" y2="633.33" stroke="#000" stroke-width="1.1"/>
<line x1="424.64" y1="687.67" x2="429.5" y2="687.67" stroke="#000" stroke-width="1.1"/>
<line x1="424.64" y1="742" x2="429.5" y2="742" stroke="#000" stroke-width="1.1"/>
<text x="569" y="782.2" font-size="13.89" text-anchor="middle">distance (km)</text>
<text x="43.2" y="584.1" font-size="13.89" text-anchor="end">0</text>
<text x="43.2" y="638.43" font-size="13.89" text-anchor="end">2</text>
<text x="43.2" y="692.77" font-size="13.89" text-anchor="end">4</text>
<text x="43.2" y="747.1" font-size="13.89" text-anchor="end">6</text>
<text x="26.5" y="660.5" font-size="13.89" text-anchor="middle" transform="rotate(-90 26.5 660.5)">depth (km)</text>
<text x="192.8" y="570.8" font-size="13.89" text-anchor="middle">temperature change Δ<tspan font-style="italic">T</tspan><tspan dx="1.2">′</tspan> (K)</text>
<text x="568.4" y="570.8" font-size="13.89" text-anchor="middle"><tspan font-style="italic">K</tspan> <tspan dx="-2.1">Δ</tspan><tspan font-style="italic">T</tspan><tspan dx="1.2">′</tspan> (s <tspan dx="-2.1">m</tspan><tspan font-size="9.7" dy="-5.3">−2</tspan><tspan dy="5.3" font-size="9.7">&#8203;</tspan>)</text>
<text x="732.8" y="574.3" font-size="13.89" text-anchor="end">×10<tspan font-size="9.7" dy="-5.3">−10</tspan><tspan dy="5.3" font-size="9.7">&#8203;</tspan></text>
<text x="-0.7" y="561.2" font-size="19.44" text-anchor="start">C</text>
<rect x="349.5" y="579" width="8.1" height="163" fill="url(#cbC1)" stroke="#000" stroke-width="1.1"/>
<line x1="357.6" y1="579" x2="362.46" y2="579" stroke="#000" stroke-width="1.1"/>
<text x="368.3" y="584.1" font-size="13.89" text-anchor="start">10</text>
<line x1="357.6" y1="614.6" x2="362.46" y2="614.6" stroke="#000" stroke-width="1.1"/>
<text x="368.3" y="619.7" font-size="13.89" text-anchor="start">1</text>
<line x1="357.6" y1="660.5" x2="362.46" y2="660.5" stroke="#000" stroke-width="1.1"/>
<text x="368.3" y="665.6" font-size="13.89" text-anchor="start">0</text>
<line x1="357.6" y1="706.4" x2="362.46" y2="706.4" stroke="#000" stroke-width="1.1"/>
<text x="368.3" y="711.5" font-size="13.89" text-anchor="start">−1</text>
<line x1="357.6" y1="742" x2="362.46" y2="742" stroke="#000" stroke-width="1.1"/>
<text x="368.3" y="747.1" font-size="13.89" text-anchor="start">−10</text>
<line x1="357.6" y1="603.88" x2="360.4" y2="603.88" stroke="#000" stroke-width="0.85"/>
<line x1="357.6" y1="597.61" x2="360.4" y2="597.61" stroke="#000" stroke-width="0.85"/>
<line x1="357.6" y1="593.17" x2="360.4" y2="593.17" stroke="#000" stroke-width="0.85"/>
<line x1="357.6" y1="589.72" x2="360.4" y2="589.72" stroke="#000" stroke-width="0.85"/>
<line x1="357.6" y1="586.9" x2="360.4" y2="586.9" stroke="#000" stroke-width="0.85"/>
<line x1="357.6" y1="584.51" x2="360.4" y2="584.51" stroke="#000" stroke-width="0.85"/>
<line x1="357.6" y1="582.45" x2="360.4" y2="582.45" stroke="#000" stroke-width="0.85"/>
<line x1="357.6" y1="580.63" x2="360.4" y2="580.63" stroke="#000" stroke-width="0.85"/>
<line x1="357.6" y1="622.5" x2="360.4" y2="622.5" stroke="#000" stroke-width="0.85"/>
<line x1="357.6" y1="620.11" x2="360.4" y2="620.11" stroke="#000" stroke-width="0.85"/>
<line x1="357.6" y1="618.05" x2="360.4" y2="618.05" stroke="#000" stroke-width="0.85"/>
<line x1="357.6" y1="616.23" x2="360.4" y2="616.23" stroke="#000" stroke-width="0.85"/>
<line x1="357.6" y1="653.46" x2="360.4" y2="653.46" stroke="#000" stroke-width="0.85"/>
<line x1="357.6" y1="646.43" x2="360.4" y2="646.43" stroke="#000" stroke-width="0.85"/>
<line x1="357.6" y1="639.39" x2="360.4" y2="639.39" stroke="#000" stroke-width="0.85"/>
<line x1="357.6" y1="632.35" x2="360.4" y2="632.35" stroke="#000" stroke-width="0.85"/>
<line x1="357.6" y1="625.32" x2="360.4" y2="625.32" stroke="#000" stroke-width="0.85"/>
<line x1="357.6" y1="717.12" x2="360.4" y2="717.12" stroke="#000" stroke-width="0.85"/>
<line x1="357.6" y1="723.39" x2="360.4" y2="723.39" stroke="#000" stroke-width="0.85"/>
<line x1="357.6" y1="727.83" x2="360.4" y2="727.83" stroke="#000" stroke-width="0.85"/>
<line x1="357.6" y1="731.28" x2="360.4" y2="731.28" stroke="#000" stroke-width="0.85"/>
<line x1="357.6" y1="734.1" x2="360.4" y2="734.1" stroke="#000" stroke-width="0.85"/>
<line x1="357.6" y1="736.49" x2="360.4" y2="736.49" stroke="#000" stroke-width="0.85"/>
<line x1="357.6" y1="738.55" x2="360.4" y2="738.55" stroke="#000" stroke-width="0.85"/>
<line x1="357.6" y1="740.37" x2="360.4" y2="740.37" stroke="#000" stroke-width="0.85"/>
<line x1="357.6" y1="698.5" x2="360.4" y2="698.5" stroke="#000" stroke-width="0.85"/>
<line x1="357.6" y1="700.89" x2="360.4" y2="700.89" stroke="#000" stroke-width="0.85"/>
<line x1="357.6" y1="702.95" x2="360.4" y2="702.95" stroke="#000" stroke-width="0.85"/>
<line x1="357.6" y1="704.77" x2="360.4" y2="704.77" stroke="#000" stroke-width="0.85"/>
<line x1="357.6" y1="667.54" x2="360.4" y2="667.54" stroke="#000" stroke-width="0.85"/>
<line x1="357.6" y1="674.57" x2="360.4" y2="674.57" stroke="#000" stroke-width="0.85"/>
<line x1="357.6" y1="681.61" x2="360.4" y2="681.61" stroke="#000" stroke-width="0.85"/>
<line x1="357.6" y1="688.65" x2="360.4" y2="688.65" stroke="#000" stroke-width="0.85"/>
<line x1="357.6" y1="695.68" x2="360.4" y2="695.68" stroke="#000" stroke-width="0.85"/>
<rect x="725.5" y="579" width="8.1" height="163" fill="url(#cbC2)" stroke="#000" stroke-width="1.1"/>
<line x1="733.6" y1="579" x2="738.46" y2="579" stroke="#000" stroke-width="1.1"/>
<text x="744.3" y="584.1" font-size="13.89" text-anchor="start">10</text>
<line x1="733.6" y1="614.6" x2="738.46" y2="614.6" stroke="#000" stroke-width="1.1"/>
<text x="744.3" y="619.7" font-size="13.89" text-anchor="start">1</text>
<line x1="733.6" y1="660.5" x2="738.46" y2="660.5" stroke="#000" stroke-width="1.1"/>
<text x="744.3" y="665.6" font-size="13.89" text-anchor="start">0</text>
<line x1="733.6" y1="706.4" x2="738.46" y2="706.4" stroke="#000" stroke-width="1.1"/>
<text x="744.3" y="711.5" font-size="13.89" text-anchor="start">−1</text>
<line x1="733.6" y1="742" x2="738.46" y2="742" stroke="#000" stroke-width="1.1"/>
<text x="744.3" y="747.1" font-size="13.89" text-anchor="start">−10</text>
<line x1="733.6" y1="603.88" x2="736.4" y2="603.88" stroke="#000" stroke-width="0.85"/>
<line x1="733.6" y1="597.61" x2="736.4" y2="597.61" stroke="#000" stroke-width="0.85"/>
<line x1="733.6" y1="593.17" x2="736.4" y2="593.17" stroke="#000" stroke-width="0.85"/>
<line x1="733.6" y1="589.72" x2="736.4" y2="589.72" stroke="#000" stroke-width="0.85"/>
<line x1="733.6" y1="586.9" x2="736.4" y2="586.9" stroke="#000" stroke-width="0.85"/>
<line x1="733.6" y1="584.51" x2="736.4" y2="584.51" stroke="#000" stroke-width="0.85"/>
<line x1="733.6" y1="582.45" x2="736.4" y2="582.45" stroke="#000" stroke-width="0.85"/>
<line x1="733.6" y1="580.63" x2="736.4" y2="580.63" stroke="#000" stroke-width="0.85"/>
<line x1="733.6" y1="622.5" x2="736.4" y2="622.5" stroke="#000" stroke-width="0.85"/>
<line x1="733.6" y1="620.11" x2="736.4" y2="620.11" stroke="#000" stroke-width="0.85"/>
<line x1="733.6" y1="618.05" x2="736.4" y2="618.05" stroke="#000" stroke-width="0.85"/>
<line x1="733.6" y1="616.23" x2="736.4" y2="616.23" stroke="#000" stroke-width="0.85"/>
<line x1="733.6" y1="653.46" x2="736.4" y2="653.46" stroke="#000" stroke-width="0.85"/>
<line x1="733.6" y1="646.43" x2="736.4" y2="646.43" stroke="#000" stroke-width="0.85"/>
<line x1="733.6" y1="639.39" x2="736.4" y2="639.39" stroke="#000" stroke-width="0.85"/>
<line x1="733.6" y1="632.35" x2="736.4" y2="632.35" stroke="#000" stroke-width="0.85"/>
<line x1="733.6" y1="625.32" x2="736.4" y2="625.32" stroke="#000" stroke-width="0.85"/>
<line x1="733.6" y1="717.12" x2="736.4" y2="717.12" stroke="#000" stroke-width="0.85"/>
<line x1="733.6" y1="723.39" x2="736.4" y2="723.39" stroke="#000" stroke-width="0.85"/>
<line x1="733.6" y1="727.83" x2="736.4" y2="727.83" stroke="#000" stroke-width="0.85"/>
<line x1="733.6" y1="731.28" x2="736.4" y2="731.28" stroke="#000" stroke-width="0.85"/>
<line x1="733.6" y1="734.1" x2="736.4" y2="734.1" stroke="#000" stroke-width="0.85"/>
<line x1="733.6" y1="736.49" x2="736.4" y2="736.49" stroke="#000" stroke-width="0.85"/>
<line x1="733.6" y1="738.55" x2="736.4" y2="738.55" stroke="#000" stroke-width="0.85"/>
<line x1="733.6" y1="740.37" x2="736.4" y2="740.37" stroke="#000" stroke-width="0.85"/>
<line x1="733.6" y1="698.5" x2="736.4" y2="698.5" stroke="#000" stroke-width="0.85"/>
<line x1="733.6" y1="700.89" x2="736.4" y2="700.89" stroke="#000" stroke-width="0.85"/>
<line x1="733.6" y1="702.95" x2="736.4" y2="702.95" stroke="#000" stroke-width="0.85"/>
<line x1="733.6" y1="704.77" x2="736.4" y2="704.77" stroke="#000" stroke-width="0.85"/>
<line x1="733.6" y1="667.54" x2="736.4" y2="667.54" stroke="#000" stroke-width="0.85"/>
<line x1="733.6" y1="674.57" x2="736.4" y2="674.57" stroke="#000" stroke-width="0.85"/>
<line x1="733.6" y1="681.61" x2="736.4" y2="681.61" stroke="#000" stroke-width="0.85"/>
<line x1="733.6" y1="688.65" x2="736.4" y2="688.65" stroke="#000" stroke-width="0.85"/>
<line x1="733.6" y1="695.68" x2="736.4" y2="695.68" stroke="#000" stroke-width="0.85"/>
</svg>
</body></html>
